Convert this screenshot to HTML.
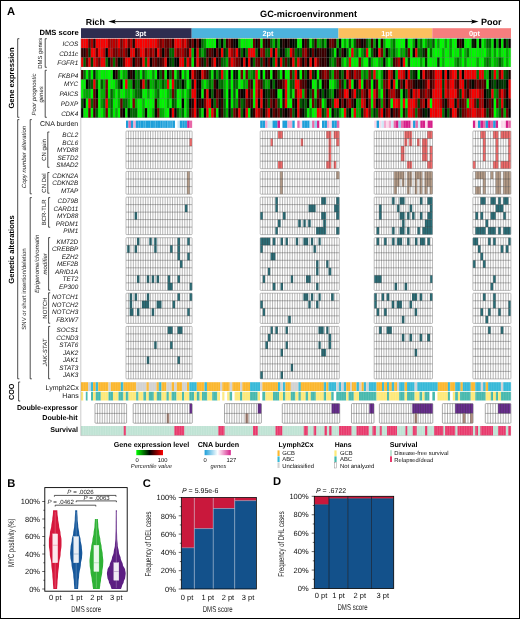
<!DOCTYPE html>
<html><head><meta charset="utf-8"><title>Figure</title>
<style>
html,body{margin:0;padding:0;background:#fff;}
body{width:520px;height:619px;overflow:hidden;}
svg{display:block;font-family:"Liberation Sans", sans-serif;will-change:transform;}
text{font-family:"Liberation Sans", sans-serif;text-rendering:geometricPrecision;}
</style></head><body>
<svg width="520" height="619" viewBox="0 0 520 619">
<rect x="0" y="0" width="520" height="619" fill="#fff"/>
<text transform="translate(7.00,15.20)" font-size="11.2" font-weight="bold" font-style="normal" text-anchor="start" fill="#000" >A</text>
<text transform="translate(85.80,25.00)" font-size="8.8" font-weight="bold" font-style="normal" text-anchor="start" fill="#000" >Rich</text>
<text transform="translate(481.00,24.90)" font-size="9.0" font-weight="bold" font-style="normal" text-anchor="start" fill="#000" >Poor</text>
<text transform="translate(308.50,17.20)" font-size="9.2" font-weight="bold" font-style="normal" text-anchor="middle" fill="#000" >GC-microenvironment</text>
<line x1="113.00" y1="21.60" x2="473.00" y2="21.60" stroke="#000" stroke-width="0.9" />
<path d="M108.3,21.6 L115.9,19.5 L114.3,21.6 L115.9,23.7 Z" fill="#000"/>
<path d="M478.6,21.6 L471.0,19.5 L472.6,21.6 L471.0,23.7 Z" fill="#000"/>
<text transform="translate(78.80,35.20)" font-size="7.6" font-weight="bold" font-style="normal" text-anchor="end" fill="#000" >DMS score</text>
<rect x="81.00" y="28.20" width="110.70" height="9.80" fill="#2e2d50" />
<text transform="translate(140.70,35.60)" font-size="7.4" font-weight="bold" font-style="normal" text-anchor="middle" fill="#fff" >3pt</text>
<rect x="191.70" y="28.20" width="146.80" height="9.80" fill="#4db3dd" />
<text transform="translate(268.00,35.60)" font-size="7.4" font-weight="bold" font-style="normal" text-anchor="middle" fill="#fff" >2pt</text>
<rect x="338.50" y="28.20" width="93.80" height="9.80" fill="#fbc05f" />
<text transform="translate(386.70,35.60)" font-size="7.4" font-weight="bold" font-style="normal" text-anchor="middle" fill="#fff" >1pt</text>
<rect x="432.30" y="28.20" width="78.70" height="9.80" fill="#f67e7e" />
<text transform="translate(474.50,35.60)" font-size="7.4" font-weight="bold" font-style="normal" text-anchor="middle" fill="#fff" >0pt</text>
<rect x="81.00" y="38.70" width="430.00" height="28.30" fill="#777" />
<rect x="81.00" y="70.00" width="430.00" height="47.70" fill="#777" />
<rect x="81.00" y="38.70" width="2.28" height="9.25" fill="#f80000" />
<rect x="83.46" y="38.70" width="2.28" height="9.25" fill="#fc0000" />
<rect x="85.91" y="38.70" width="2.28" height="9.25" fill="#f20000" />
<rect x="88.37" y="38.70" width="2.28" height="9.25" fill="#630000" />
<rect x="90.83" y="38.70" width="2.28" height="9.25" fill="#b40000" />
<rect x="93.29" y="38.70" width="2.28" height="9.25" fill="#2f0000" />
<rect x="95.74" y="38.70" width="2.28" height="9.25" fill="#fe0000" />
<rect x="98.20" y="38.70" width="2.28" height="9.25" fill="#f50000" />
<rect x="100.66" y="38.70" width="2.28" height="9.25" fill="#fe0000" />
<rect x="103.11" y="38.70" width="2.28" height="9.25" fill="#f60000" />
<rect x="105.57" y="38.70" width="2.28" height="9.25" fill="#fe0000" />
<rect x="108.03" y="38.70" width="2.28" height="9.25" fill="#a60000" />
<rect x="110.49" y="38.70" width="2.28" height="9.25" fill="#b00000" />
<rect x="112.94" y="38.70" width="2.28" height="9.25" fill="#bd0000" />
<rect x="115.40" y="38.70" width="2.28" height="9.25" fill="#a70000" />
<rect x="117.86" y="38.70" width="2.28" height="9.25" fill="#fa0000" />
<rect x="120.31" y="38.70" width="2.28" height="9.25" fill="#740000" />
<rect x="122.77" y="38.70" width="2.28" height="9.25" fill="#c00000" />
<rect x="125.23" y="38.70" width="2.28" height="9.25" fill="#f30000" />
<rect x="127.69" y="38.70" width="2.28" height="9.25" fill="#6d0000" />
<rect x="130.14" y="38.70" width="2.28" height="9.25" fill="#c10000" />
<rect x="132.60" y="38.70" width="2.28" height="9.25" fill="#250000" />
<rect x="135.06" y="38.70" width="2.28" height="9.25" fill="#ed0000" />
<rect x="137.51" y="38.70" width="2.28" height="9.25" fill="#f90000" />
<rect x="139.97" y="38.70" width="2.28" height="9.25" fill="#fc0000" />
<rect x="142.43" y="38.70" width="2.28" height="9.25" fill="#fd0000" />
<rect x="144.89" y="38.70" width="2.28" height="9.25" fill="#f90000" />
<rect x="147.34" y="38.70" width="2.28" height="9.25" fill="#ee0000" />
<rect x="149.80" y="38.70" width="2.28" height="9.25" fill="#fb0000" />
<rect x="152.26" y="38.70" width="2.28" height="9.25" fill="#f30000" />
<rect x="154.71" y="38.70" width="2.28" height="9.25" fill="#f20000" />
<rect x="157.17" y="38.70" width="2.28" height="9.25" fill="#af0000" />
<rect x="159.63" y="38.70" width="2.28" height="9.25" fill="#720000" />
<rect x="162.09" y="38.70" width="2.28" height="9.25" fill="#a50000" />
<rect x="164.54" y="38.70" width="2.28" height="9.25" fill="#630000" />
<rect x="167.00" y="38.70" width="2.28" height="9.25" fill="#670000" />
<rect x="169.46" y="38.70" width="2.28" height="9.25" fill="#760000" />
<rect x="171.91" y="38.70" width="2.28" height="9.25" fill="#310000" />
<rect x="174.37" y="38.70" width="2.28" height="9.25" fill="#f90000" />
<rect x="176.83" y="38.70" width="2.28" height="9.25" fill="#f30000" />
<rect x="179.29" y="38.70" width="2.28" height="9.25" fill="#f60000" />
<rect x="181.74" y="38.70" width="2.28" height="9.25" fill="#ac0000" />
<rect x="184.20" y="38.70" width="2.28" height="9.25" fill="#ef0000" />
<rect x="186.66" y="38.70" width="2.28" height="9.25" fill="#760000" />
<rect x="189.11" y="38.70" width="2.28" height="9.25" fill="#2b0000" />
<rect x="191.57" y="38.70" width="2.28" height="9.25" fill="#720000" />
<rect x="194.03" y="38.70" width="2.28" height="9.25" fill="#010000" />
<rect x="196.49" y="38.70" width="2.28" height="9.25" fill="#7c0000" />
<rect x="198.94" y="38.70" width="2.28" height="9.25" fill="#070000" />
<rect x="201.40" y="38.70" width="2.28" height="9.25" fill="#006c00" />
<rect x="203.86" y="38.70" width="2.28" height="9.25" fill="#009a00" />
<rect x="206.31" y="38.70" width="2.28" height="9.25" fill="#00fd00" />
<rect x="208.77" y="38.70" width="2.28" height="9.25" fill="#00f600" />
<rect x="211.23" y="38.70" width="2.28" height="9.25" fill="#00f000" />
<rect x="213.69" y="38.70" width="2.28" height="9.25" fill="#00fc00" />
<rect x="216.14" y="38.70" width="2.28" height="9.25" fill="#000000" />
<rect x="218.60" y="38.70" width="2.28" height="9.25" fill="#007400" />
<rect x="221.06" y="38.70" width="2.28" height="9.25" fill="#050000" />
<rect x="223.51" y="38.70" width="2.28" height="9.25" fill="#00a000" />
<rect x="225.97" y="38.70" width="2.28" height="9.25" fill="#350000" />
<rect x="228.43" y="38.70" width="2.28" height="9.25" fill="#7c0000" />
<rect x="230.89" y="38.70" width="2.28" height="9.25" fill="#2d0000" />
<rect x="233.34" y="38.70" width="2.28" height="9.25" fill="#060000" />
<rect x="235.80" y="38.70" width="2.28" height="9.25" fill="#030000" />
<rect x="238.26" y="38.70" width="2.28" height="9.25" fill="#00a600" />
<rect x="240.71" y="38.70" width="2.28" height="9.25" fill="#00f600" />
<rect x="243.17" y="38.70" width="2.28" height="9.25" fill="#00ee00" />
<rect x="245.63" y="38.70" width="2.28" height="9.25" fill="#00ec00" />
<rect x="248.09" y="38.70" width="2.28" height="9.25" fill="#00f500" />
<rect x="250.54" y="38.70" width="2.28" height="9.25" fill="#00f100" />
<rect x="253.00" y="38.70" width="2.28" height="9.25" fill="#630000" />
<rect x="255.46" y="38.70" width="2.28" height="9.25" fill="#060000" />
<rect x="257.91" y="38.70" width="2.28" height="9.25" fill="#380000" />
<rect x="260.37" y="38.70" width="2.28" height="9.25" fill="#00eb00" />
<rect x="262.83" y="38.70" width="2.28" height="9.25" fill="#3d0000" />
<rect x="265.29" y="38.70" width="2.28" height="9.25" fill="#000700" />
<rect x="267.74" y="38.70" width="2.28" height="9.25" fill="#300000" />
<rect x="270.20" y="38.70" width="2.28" height="9.25" fill="#006100" />
<rect x="272.66" y="38.70" width="2.28" height="9.25" fill="#00b700" />
<rect x="275.11" y="38.70" width="2.28" height="9.25" fill="#003400" />
<rect x="277.57" y="38.70" width="2.28" height="9.25" fill="#00b200" />
<rect x="280.03" y="38.70" width="2.28" height="9.25" fill="#000c00" />
<rect x="282.49" y="38.70" width="2.28" height="9.25" fill="#260000" />
<rect x="284.94" y="38.70" width="2.28" height="9.25" fill="#080000" />
<rect x="287.40" y="38.70" width="2.28" height="9.25" fill="#280000" />
<rect x="289.86" y="38.70" width="2.28" height="9.25" fill="#000800" />
<rect x="292.31" y="38.70" width="2.28" height="9.25" fill="#000300" />
<rect x="294.77" y="38.70" width="2.28" height="9.25" fill="#002800" />
<rect x="297.23" y="38.70" width="2.28" height="9.25" fill="#00fd00" />
<rect x="299.69" y="38.70" width="2.28" height="9.25" fill="#00f600" />
<rect x="302.14" y="38.70" width="2.28" height="9.25" fill="#020000" />
<rect x="304.60" y="38.70" width="2.28" height="9.25" fill="#3f0000" />
<rect x="307.06" y="38.70" width="2.28" height="9.25" fill="#002900" />
<rect x="309.51" y="38.70" width="2.28" height="9.25" fill="#00ed00" />
<rect x="311.97" y="38.70" width="2.28" height="9.25" fill="#006d00" />
<rect x="314.43" y="38.70" width="2.28" height="9.25" fill="#300000" />
<rect x="316.89" y="38.70" width="2.28" height="9.25" fill="#00ad00" />
<rect x="319.34" y="38.70" width="2.28" height="9.25" fill="#009d00" />
<rect x="321.80" y="38.70" width="2.28" height="9.25" fill="#005800" />
<rect x="324.26" y="38.70" width="2.28" height="9.25" fill="#00b300" />
<rect x="326.71" y="38.70" width="2.28" height="9.25" fill="#000a00" />
<rect x="329.17" y="38.70" width="2.28" height="9.25" fill="#680000" />
<rect x="331.63" y="38.70" width="2.28" height="9.25" fill="#680000" />
<rect x="334.09" y="38.70" width="2.28" height="9.25" fill="#330000" />
<rect x="336.54" y="38.70" width="2.28" height="9.25" fill="#00a600" />
<rect x="339.00" y="38.70" width="2.28" height="9.25" fill="#000700" />
<rect x="341.46" y="38.70" width="2.28" height="9.25" fill="#00ff00" />
<rect x="343.91" y="38.70" width="2.28" height="9.25" fill="#00ab00" />
<rect x="346.37" y="38.70" width="2.28" height="9.25" fill="#00f700" />
<rect x="348.83" y="38.70" width="2.28" height="9.25" fill="#006400" />
<rect x="351.29" y="38.70" width="2.28" height="9.25" fill="#00ec00" />
<rect x="353.74" y="38.70" width="2.28" height="9.25" fill="#006000" />
<rect x="356.20" y="38.70" width="2.28" height="9.25" fill="#330000" />
<rect x="358.66" y="38.70" width="2.28" height="9.25" fill="#370000" />
<rect x="361.11" y="38.70" width="2.28" height="9.25" fill="#050000" />
<rect x="363.57" y="38.70" width="2.28" height="9.25" fill="#250000" />
<rect x="366.03" y="38.70" width="2.28" height="9.25" fill="#005a00" />
<rect x="368.49" y="38.70" width="2.28" height="9.25" fill="#00a000" />
<rect x="370.94" y="38.70" width="2.28" height="9.25" fill="#3e0000" />
<rect x="373.40" y="38.70" width="2.28" height="9.25" fill="#009f00" />
<rect x="375.86" y="38.70" width="2.28" height="9.25" fill="#000300" />
<rect x="378.31" y="38.70" width="2.28" height="9.25" fill="#00f700" />
<rect x="380.77" y="38.70" width="2.28" height="9.25" fill="#270000" />
<rect x="383.23" y="38.70" width="2.28" height="9.25" fill="#00a400" />
<rect x="385.69" y="38.70" width="2.28" height="9.25" fill="#00fe00" />
<rect x="388.14" y="38.70" width="2.28" height="9.25" fill="#00fe00" />
<rect x="390.60" y="38.70" width="2.28" height="9.25" fill="#00b100" />
<rect x="393.06" y="38.70" width="2.28" height="9.25" fill="#007000" />
<rect x="395.51" y="38.70" width="2.28" height="9.25" fill="#00f800" />
<rect x="397.97" y="38.70" width="2.28" height="9.25" fill="#00fe00" />
<rect x="400.43" y="38.70" width="2.28" height="9.25" fill="#00ff00" />
<rect x="402.89" y="38.70" width="2.28" height="9.25" fill="#00fc00" />
<rect x="405.34" y="38.70" width="2.28" height="9.25" fill="#000c00" />
<rect x="407.80" y="38.70" width="2.28" height="9.25" fill="#00f800" />
<rect x="410.26" y="38.70" width="2.28" height="9.25" fill="#00fe00" />
<rect x="412.71" y="38.70" width="2.28" height="9.25" fill="#009d00" />
<rect x="415.17" y="38.70" width="2.28" height="9.25" fill="#030000" />
<rect x="417.63" y="38.70" width="2.28" height="9.25" fill="#00b300" />
<rect x="420.09" y="38.70" width="2.28" height="9.25" fill="#006e00" />
<rect x="422.54" y="38.70" width="2.28" height="9.25" fill="#00f800" />
<rect x="425.00" y="38.70" width="2.28" height="9.25" fill="#00ac00" />
<rect x="427.46" y="38.70" width="2.28" height="9.25" fill="#007200" />
<rect x="429.91" y="38.70" width="2.28" height="9.25" fill="#009e00" />
<rect x="432.37" y="38.70" width="2.28" height="9.25" fill="#005700" />
<rect x="434.83" y="38.70" width="2.28" height="9.25" fill="#00f500" />
<rect x="437.29" y="38.70" width="2.28" height="9.25" fill="#00a900" />
<rect x="439.74" y="38.70" width="2.28" height="9.25" fill="#00fd00" />
<rect x="442.20" y="38.70" width="2.28" height="9.25" fill="#00fd00" />
<rect x="444.66" y="38.70" width="2.28" height="9.25" fill="#00ad00" />
<rect x="447.11" y="38.70" width="2.28" height="9.25" fill="#00fa00" />
<rect x="449.57" y="38.70" width="2.28" height="9.25" fill="#009e00" />
<rect x="452.03" y="38.70" width="2.28" height="9.25" fill="#00fc00" />
<rect x="454.49" y="38.70" width="2.28" height="9.25" fill="#00ff00" />
<rect x="456.94" y="38.70" width="2.28" height="9.25" fill="#0e0000" />
<rect x="459.40" y="38.70" width="2.28" height="9.25" fill="#340000" />
<rect x="461.86" y="38.70" width="2.28" height="9.25" fill="#000b00" />
<rect x="464.31" y="38.70" width="2.28" height="9.25" fill="#00f400" />
<rect x="466.77" y="38.70" width="2.28" height="9.25" fill="#00fe00" />
<rect x="469.23" y="38.70" width="2.28" height="9.25" fill="#00f400" />
<rect x="471.69" y="38.70" width="2.28" height="9.25" fill="#002400" />
<rect x="474.14" y="38.70" width="2.28" height="9.25" fill="#0b0000" />
<rect x="476.60" y="38.70" width="2.28" height="9.25" fill="#00f100" />
<rect x="479.06" y="38.70" width="2.28" height="9.25" fill="#000700" />
<rect x="481.51" y="38.70" width="2.28" height="9.25" fill="#00f800" />
<rect x="483.97" y="38.70" width="2.28" height="9.25" fill="#00b200" />
<rect x="486.43" y="38.70" width="2.28" height="9.25" fill="#005e00" />
<rect x="488.89" y="38.70" width="2.28" height="9.25" fill="#006500" />
<rect x="491.34" y="38.70" width="2.28" height="9.25" fill="#00ef00" />
<rect x="493.80" y="38.70" width="2.28" height="9.25" fill="#000500" />
<rect x="496.26" y="38.70" width="2.28" height="9.25" fill="#00b100" />
<rect x="498.71" y="38.70" width="2.28" height="9.25" fill="#0a0000" />
<rect x="501.17" y="38.70" width="2.28" height="9.25" fill="#00eb00" />
<rect x="503.63" y="38.70" width="2.28" height="9.25" fill="#0b0000" />
<rect x="506.09" y="38.70" width="2.28" height="9.25" fill="#005d00" />
<rect x="508.54" y="38.70" width="2.28" height="9.25" fill="#0a0000" />
<rect x="81.00" y="48.13" width="2.28" height="9.25" fill="#3a0000" />
<rect x="83.46" y="48.13" width="2.28" height="9.25" fill="#2b0000" />
<rect x="85.91" y="48.13" width="2.28" height="9.25" fill="#710000" />
<rect x="88.37" y="48.13" width="2.28" height="9.25" fill="#003700" />
<rect x="90.83" y="48.13" width="2.28" height="9.25" fill="#fe0000" />
<rect x="93.29" y="48.13" width="2.28" height="9.25" fill="#fe0000" />
<rect x="95.74" y="48.13" width="2.28" height="9.25" fill="#690000" />
<rect x="98.20" y="48.13" width="2.28" height="9.25" fill="#fa0000" />
<rect x="100.66" y="48.13" width="2.28" height="9.25" fill="#f10000" />
<rect x="103.11" y="48.13" width="2.28" height="9.25" fill="#c00000" />
<rect x="105.57" y="48.13" width="2.28" height="9.25" fill="#000200" />
<rect x="108.03" y="48.13" width="2.28" height="9.25" fill="#c00000" />
<rect x="110.49" y="48.13" width="2.28" height="9.25" fill="#c10000" />
<rect x="112.94" y="48.13" width="2.28" height="9.25" fill="#7e0000" />
<rect x="115.40" y="48.13" width="2.28" height="9.25" fill="#6c0000" />
<rect x="117.86" y="48.13" width="2.28" height="9.25" fill="#aa0000" />
<rect x="120.31" y="48.13" width="2.28" height="9.25" fill="#680000" />
<rect x="122.77" y="48.13" width="2.28" height="9.25" fill="#a90000" />
<rect x="125.23" y="48.13" width="2.28" height="9.25" fill="#670000" />
<rect x="127.69" y="48.13" width="2.28" height="9.25" fill="#040000" />
<rect x="130.14" y="48.13" width="2.28" height="9.25" fill="#ed0000" />
<rect x="132.60" y="48.13" width="2.28" height="9.25" fill="#ee0000" />
<rect x="135.06" y="48.13" width="2.28" height="9.25" fill="#320000" />
<rect x="137.51" y="48.13" width="2.28" height="9.25" fill="#750000" />
<rect x="139.97" y="48.13" width="2.28" height="9.25" fill="#ef0000" />
<rect x="142.43" y="48.13" width="2.28" height="9.25" fill="#fd0000" />
<rect x="144.89" y="48.13" width="2.28" height="9.25" fill="#750000" />
<rect x="147.34" y="48.13" width="2.28" height="9.25" fill="#bf0000" />
<rect x="149.80" y="48.13" width="2.28" height="9.25" fill="#790000" />
<rect x="152.26" y="48.13" width="2.28" height="9.25" fill="#ba0000" />
<rect x="154.71" y="48.13" width="2.28" height="9.25" fill="#320000" />
<rect x="157.17" y="48.13" width="2.28" height="9.25" fill="#fb0000" />
<rect x="159.63" y="48.13" width="2.28" height="9.25" fill="#790000" />
<rect x="162.09" y="48.13" width="2.28" height="9.25" fill="#000500" />
<rect x="164.54" y="48.13" width="2.28" height="9.25" fill="#790000" />
<rect x="167.00" y="48.13" width="2.28" height="9.25" fill="#410000" />
<rect x="169.46" y="48.13" width="2.28" height="9.25" fill="#006900" />
<rect x="171.91" y="48.13" width="2.28" height="9.25" fill="#006900" />
<rect x="174.37" y="48.13" width="2.28" height="9.25" fill="#c00000" />
<rect x="176.83" y="48.13" width="2.28" height="9.25" fill="#770000" />
<rect x="179.29" y="48.13" width="2.28" height="9.25" fill="#a80000" />
<rect x="181.74" y="48.13" width="2.28" height="9.25" fill="#a70000" />
<rect x="184.20" y="48.13" width="2.28" height="9.25" fill="#660000" />
<rect x="186.66" y="48.13" width="2.28" height="9.25" fill="#3f0000" />
<rect x="189.11" y="48.13" width="2.28" height="9.25" fill="#ef0000" />
<rect x="191.57" y="48.13" width="2.28" height="9.25" fill="#00b300" />
<rect x="194.03" y="48.13" width="2.28" height="9.25" fill="#0a0000" />
<rect x="196.49" y="48.13" width="2.28" height="9.25" fill="#eb0000" />
<rect x="198.94" y="48.13" width="2.28" height="9.25" fill="#006100" />
<rect x="201.40" y="48.13" width="2.28" height="9.25" fill="#00ad00" />
<rect x="203.86" y="48.13" width="2.28" height="9.25" fill="#006500" />
<rect x="206.31" y="48.13" width="2.28" height="9.25" fill="#280000" />
<rect x="208.77" y="48.13" width="2.28" height="9.25" fill="#610000" />
<rect x="211.23" y="48.13" width="2.28" height="9.25" fill="#410000" />
<rect x="213.69" y="48.13" width="2.28" height="9.25" fill="#050000" />
<rect x="216.14" y="48.13" width="2.28" height="9.25" fill="#710000" />
<rect x="218.60" y="48.13" width="2.28" height="9.25" fill="#0d0000" />
<rect x="221.06" y="48.13" width="2.28" height="9.25" fill="#f60000" />
<rect x="223.51" y="48.13" width="2.28" height="9.25" fill="#002800" />
<rect x="225.97" y="48.13" width="2.28" height="9.25" fill="#005c00" />
<rect x="228.43" y="48.13" width="2.28" height="9.25" fill="#fb0000" />
<rect x="230.89" y="48.13" width="2.28" height="9.25" fill="#ab0000" />
<rect x="233.34" y="48.13" width="2.28" height="9.25" fill="#6a0000" />
<rect x="235.80" y="48.13" width="2.28" height="9.25" fill="#fa0000" />
<rect x="238.26" y="48.13" width="2.28" height="9.25" fill="#360000" />
<rect x="240.71" y="48.13" width="2.28" height="9.25" fill="#006d00" />
<rect x="243.17" y="48.13" width="2.28" height="9.25" fill="#000200" />
<rect x="245.63" y="48.13" width="2.28" height="9.25" fill="#007100" />
<rect x="248.09" y="48.13" width="2.28" height="9.25" fill="#ec0000" />
<rect x="250.54" y="48.13" width="2.28" height="9.25" fill="#f80000" />
<rect x="253.00" y="48.13" width="2.28" height="9.25" fill="#f60000" />
<rect x="255.46" y="48.13" width="2.28" height="9.25" fill="#006300" />
<rect x="257.91" y="48.13" width="2.28" height="9.25" fill="#0c0000" />
<rect x="260.37" y="48.13" width="2.28" height="9.25" fill="#b00000" />
<rect x="262.83" y="48.13" width="2.28" height="9.25" fill="#7d0000" />
<rect x="265.29" y="48.13" width="2.28" height="9.25" fill="#006600" />
<rect x="267.74" y="48.13" width="2.28" height="9.25" fill="#006500" />
<rect x="270.20" y="48.13" width="2.28" height="9.25" fill="#f40000" />
<rect x="272.66" y="48.13" width="2.28" height="9.25" fill="#000f00" />
<rect x="275.11" y="48.13" width="2.28" height="9.25" fill="#f60000" />
<rect x="277.57" y="48.13" width="2.28" height="9.25" fill="#007000" />
<rect x="280.03" y="48.13" width="2.28" height="9.25" fill="#000f00" />
<rect x="282.49" y="48.13" width="2.28" height="9.25" fill="#090000" />
<rect x="284.94" y="48.13" width="2.28" height="9.25" fill="#007000" />
<rect x="287.40" y="48.13" width="2.28" height="9.25" fill="#00a900" />
<rect x="289.86" y="48.13" width="2.28" height="9.25" fill="#f00000" />
<rect x="292.31" y="48.13" width="2.28" height="9.25" fill="#720000" />
<rect x="294.77" y="48.13" width="2.28" height="9.25" fill="#006b00" />
<rect x="297.23" y="48.13" width="2.28" height="9.25" fill="#003200" />
<rect x="299.69" y="48.13" width="2.28" height="9.25" fill="#006400" />
<rect x="302.14" y="48.13" width="2.28" height="9.25" fill="#790000" />
<rect x="304.60" y="48.13" width="2.28" height="9.25" fill="#a60000" />
<rect x="307.06" y="48.13" width="2.28" height="9.25" fill="#350000" />
<rect x="309.51" y="48.13" width="2.28" height="9.25" fill="#000800" />
<rect x="311.97" y="48.13" width="2.28" height="9.25" fill="#690000" />
<rect x="314.43" y="48.13" width="2.28" height="9.25" fill="#080000" />
<rect x="316.89" y="48.13" width="2.28" height="9.25" fill="#330000" />
<rect x="319.34" y="48.13" width="2.28" height="9.25" fill="#350000" />
<rect x="321.80" y="48.13" width="2.28" height="9.25" fill="#3b0000" />
<rect x="324.26" y="48.13" width="2.28" height="9.25" fill="#400000" />
<rect x="326.71" y="48.13" width="2.28" height="9.25" fill="#000200" />
<rect x="329.17" y="48.13" width="2.28" height="9.25" fill="#003000" />
<rect x="331.63" y="48.13" width="2.28" height="9.25" fill="#006600" />
<rect x="334.09" y="48.13" width="2.28" height="9.25" fill="#00f500" />
<rect x="336.54" y="48.13" width="2.28" height="9.25" fill="#060000" />
<rect x="339.00" y="48.13" width="2.28" height="9.25" fill="#006700" />
<rect x="341.46" y="48.13" width="2.28" height="9.25" fill="#340000" />
<rect x="343.91" y="48.13" width="2.28" height="9.25" fill="#000100" />
<rect x="346.37" y="48.13" width="2.28" height="9.25" fill="#005800" />
<rect x="348.83" y="48.13" width="2.28" height="9.25" fill="#00f100" />
<rect x="351.29" y="48.13" width="2.28" height="9.25" fill="#ed0000" />
<rect x="353.74" y="48.13" width="2.28" height="9.25" fill="#009b00" />
<rect x="356.20" y="48.13" width="2.28" height="9.25" fill="#006d00" />
<rect x="358.66" y="48.13" width="2.28" height="9.25" fill="#00f400" />
<rect x="361.11" y="48.13" width="2.28" height="9.25" fill="#009b00" />
<rect x="363.57" y="48.13" width="2.28" height="9.25" fill="#005c00" />
<rect x="366.03" y="48.13" width="2.28" height="9.25" fill="#fc0000" />
<rect x="368.49" y="48.13" width="2.28" height="9.25" fill="#00fd00" />
<rect x="370.94" y="48.13" width="2.28" height="9.25" fill="#006800" />
<rect x="373.40" y="48.13" width="2.28" height="9.25" fill="#260000" />
<rect x="375.86" y="48.13" width="2.28" height="9.25" fill="#000800" />
<rect x="378.31" y="48.13" width="2.28" height="9.25" fill="#fe0000" />
<rect x="380.77" y="48.13" width="2.28" height="9.25" fill="#750000" />
<rect x="383.23" y="48.13" width="2.28" height="9.25" fill="#00a000" />
<rect x="385.69" y="48.13" width="2.28" height="9.25" fill="#0c0000" />
<rect x="388.14" y="48.13" width="2.28" height="9.25" fill="#007100" />
<rect x="390.60" y="48.13" width="2.28" height="9.25" fill="#00a200" />
<rect x="393.06" y="48.13" width="2.28" height="9.25" fill="#006100" />
<rect x="395.51" y="48.13" width="2.28" height="9.25" fill="#00b300" />
<rect x="397.97" y="48.13" width="2.28" height="9.25" fill="#00ed00" />
<rect x="400.43" y="48.13" width="2.28" height="9.25" fill="#009a00" />
<rect x="402.89" y="48.13" width="2.28" height="9.25" fill="#00b100" />
<rect x="405.34" y="48.13" width="2.28" height="9.25" fill="#005800" />
<rect x="407.80" y="48.13" width="2.28" height="9.25" fill="#6d0000" />
<rect x="410.26" y="48.13" width="2.28" height="9.25" fill="#00f500" />
<rect x="412.71" y="48.13" width="2.28" height="9.25" fill="#0f0000" />
<rect x="415.17" y="48.13" width="2.28" height="9.25" fill="#ee0000" />
<rect x="417.63" y="48.13" width="2.28" height="9.25" fill="#007000" />
<rect x="420.09" y="48.13" width="2.28" height="9.25" fill="#006800" />
<rect x="422.54" y="48.13" width="2.28" height="9.25" fill="#003300" />
<rect x="425.00" y="48.13" width="2.28" height="9.25" fill="#2e0000" />
<rect x="427.46" y="48.13" width="2.28" height="9.25" fill="#00fb00" />
<rect x="429.91" y="48.13" width="2.28" height="9.25" fill="#006c00" />
<rect x="432.37" y="48.13" width="2.28" height="9.25" fill="#00f000" />
<rect x="434.83" y="48.13" width="2.28" height="9.25" fill="#00ff00" />
<rect x="437.29" y="48.13" width="2.28" height="9.25" fill="#00f400" />
<rect x="439.74" y="48.13" width="2.28" height="9.25" fill="#00f600" />
<rect x="442.20" y="48.13" width="2.28" height="9.25" fill="#00b700" />
<rect x="444.66" y="48.13" width="2.28" height="9.25" fill="#00f800" />
<rect x="447.11" y="48.13" width="2.28" height="9.25" fill="#00f200" />
<rect x="449.57" y="48.13" width="2.28" height="9.25" fill="#00a800" />
<rect x="452.03" y="48.13" width="2.28" height="9.25" fill="#00fe00" />
<rect x="454.49" y="48.13" width="2.28" height="9.25" fill="#00eb00" />
<rect x="456.94" y="48.13" width="2.28" height="9.25" fill="#00ef00" />
<rect x="459.40" y="48.13" width="2.28" height="9.25" fill="#009a00" />
<rect x="461.86" y="48.13" width="2.28" height="9.25" fill="#00fd00" />
<rect x="464.31" y="48.13" width="2.28" height="9.25" fill="#00af00" />
<rect x="466.77" y="48.13" width="2.28" height="9.25" fill="#007400" />
<rect x="469.23" y="48.13" width="2.28" height="9.25" fill="#00ef00" />
<rect x="471.69" y="48.13" width="2.28" height="9.25" fill="#00f900" />
<rect x="474.14" y="48.13" width="2.28" height="9.25" fill="#00fc00" />
<rect x="476.60" y="48.13" width="2.28" height="9.25" fill="#00f600" />
<rect x="479.06" y="48.13" width="2.28" height="9.25" fill="#00ec00" />
<rect x="481.51" y="48.13" width="2.28" height="9.25" fill="#00ee00" />
<rect x="483.97" y="48.13" width="2.28" height="9.25" fill="#00fa00" />
<rect x="486.43" y="48.13" width="2.28" height="9.25" fill="#00b300" />
<rect x="488.89" y="48.13" width="2.28" height="9.25" fill="#009b00" />
<rect x="491.34" y="48.13" width="2.28" height="9.25" fill="#00f300" />
<rect x="493.80" y="48.13" width="2.28" height="9.25" fill="#00a200" />
<rect x="496.26" y="48.13" width="2.28" height="9.25" fill="#00fd00" />
<rect x="498.71" y="48.13" width="2.28" height="9.25" fill="#00b600" />
<rect x="501.17" y="48.13" width="2.28" height="9.25" fill="#00f100" />
<rect x="503.63" y="48.13" width="2.28" height="9.25" fill="#00f600" />
<rect x="506.09" y="48.13" width="2.28" height="9.25" fill="#00b500" />
<rect x="508.54" y="48.13" width="2.28" height="9.25" fill="#00ec00" />
<rect x="81.00" y="57.57" width="2.28" height="9.25" fill="#f20000" />
<rect x="83.46" y="57.57" width="2.28" height="9.25" fill="#005d00" />
<rect x="85.91" y="57.57" width="2.28" height="9.25" fill="#630000" />
<rect x="88.37" y="57.57" width="2.28" height="9.25" fill="#ee0000" />
<rect x="90.83" y="57.57" width="2.28" height="9.25" fill="#004000" />
<rect x="93.29" y="57.57" width="2.28" height="9.25" fill="#ed0000" />
<rect x="95.74" y="57.57" width="2.28" height="9.25" fill="#b10000" />
<rect x="98.20" y="57.57" width="2.28" height="9.25" fill="#6b0000" />
<rect x="100.66" y="57.57" width="2.28" height="9.25" fill="#f40000" />
<rect x="103.11" y="57.57" width="2.28" height="9.25" fill="#ec0000" />
<rect x="105.57" y="57.57" width="2.28" height="9.25" fill="#006d00" />
<rect x="108.03" y="57.57" width="2.28" height="9.25" fill="#000b00" />
<rect x="110.49" y="57.57" width="2.28" height="9.25" fill="#710000" />
<rect x="112.94" y="57.57" width="2.28" height="9.25" fill="#006e00" />
<rect x="115.40" y="57.57" width="2.28" height="9.25" fill="#640000" />
<rect x="117.86" y="57.57" width="2.28" height="9.25" fill="#000a00" />
<rect x="120.31" y="57.57" width="2.28" height="9.25" fill="#000e00" />
<rect x="122.77" y="57.57" width="2.28" height="9.25" fill="#670000" />
<rect x="125.23" y="57.57" width="2.28" height="9.25" fill="#f90000" />
<rect x="127.69" y="57.57" width="2.28" height="9.25" fill="#f90000" />
<rect x="130.14" y="57.57" width="2.28" height="9.25" fill="#ba0000" />
<rect x="132.60" y="57.57" width="2.28" height="9.25" fill="#000600" />
<rect x="135.06" y="57.57" width="2.28" height="9.25" fill="#700000" />
<rect x="137.51" y="57.57" width="2.28" height="9.25" fill="#660000" />
<rect x="139.97" y="57.57" width="2.28" height="9.25" fill="#2e0000" />
<rect x="142.43" y="57.57" width="2.28" height="9.25" fill="#ff0000" />
<rect x="144.89" y="57.57" width="2.28" height="9.25" fill="#006e00" />
<rect x="147.34" y="57.57" width="2.28" height="9.25" fill="#ff0000" />
<rect x="149.80" y="57.57" width="2.28" height="9.25" fill="#070000" />
<rect x="152.26" y="57.57" width="2.28" height="9.25" fill="#720000" />
<rect x="154.71" y="57.57" width="2.28" height="9.25" fill="#670000" />
<rect x="157.17" y="57.57" width="2.28" height="9.25" fill="#320000" />
<rect x="159.63" y="57.57" width="2.28" height="9.25" fill="#400000" />
<rect x="162.09" y="57.57" width="2.28" height="9.25" fill="#640000" />
<rect x="164.54" y="57.57" width="2.28" height="9.25" fill="#ee0000" />
<rect x="167.00" y="57.57" width="2.28" height="9.25" fill="#000200" />
<rect x="169.46" y="57.57" width="2.28" height="9.25" fill="#003300" />
<rect x="171.91" y="57.57" width="2.28" height="9.25" fill="#005c00" />
<rect x="174.37" y="57.57" width="2.28" height="9.25" fill="#000300" />
<rect x="176.83" y="57.57" width="2.28" height="9.25" fill="#000000" />
<rect x="179.29" y="57.57" width="2.28" height="9.25" fill="#f10000" />
<rect x="181.74" y="57.57" width="2.28" height="9.25" fill="#eb0000" />
<rect x="184.20" y="57.57" width="2.28" height="9.25" fill="#003800" />
<rect x="186.66" y="57.57" width="2.28" height="9.25" fill="#ee0000" />
<rect x="189.11" y="57.57" width="2.28" height="9.25" fill="#770000" />
<rect x="191.57" y="57.57" width="2.28" height="9.25" fill="#00f200" />
<rect x="194.03" y="57.57" width="2.28" height="9.25" fill="#300000" />
<rect x="196.49" y="57.57" width="2.28" height="9.25" fill="#f80000" />
<rect x="198.94" y="57.57" width="2.28" height="9.25" fill="#630000" />
<rect x="201.40" y="57.57" width="2.28" height="9.25" fill="#280000" />
<rect x="203.86" y="57.57" width="2.28" height="9.25" fill="#004000" />
<rect x="206.31" y="57.57" width="2.28" height="9.25" fill="#780000" />
<rect x="208.77" y="57.57" width="2.28" height="9.25" fill="#000700" />
<rect x="211.23" y="57.57" width="2.28" height="9.25" fill="#660000" />
<rect x="213.69" y="57.57" width="2.28" height="9.25" fill="#fd0000" />
<rect x="216.14" y="57.57" width="2.28" height="9.25" fill="#0a0000" />
<rect x="218.60" y="57.57" width="2.28" height="9.25" fill="#3e0000" />
<rect x="221.06" y="57.57" width="2.28" height="9.25" fill="#006100" />
<rect x="223.51" y="57.57" width="2.28" height="9.25" fill="#006d00" />
<rect x="225.97" y="57.57" width="2.28" height="9.25" fill="#00b000" />
<rect x="228.43" y="57.57" width="2.28" height="9.25" fill="#6a0000" />
<rect x="230.89" y="57.57" width="2.28" height="9.25" fill="#f60000" />
<rect x="233.34" y="57.57" width="2.28" height="9.25" fill="#a80000" />
<rect x="235.80" y="57.57" width="2.28" height="9.25" fill="#6f0000" />
<rect x="238.26" y="57.57" width="2.28" height="9.25" fill="#690000" />
<rect x="240.71" y="57.57" width="2.28" height="9.25" fill="#0e0000" />
<rect x="243.17" y="57.57" width="2.28" height="9.25" fill="#eb0000" />
<rect x="245.63" y="57.57" width="2.28" height="9.25" fill="#010000" />
<rect x="248.09" y="57.57" width="2.28" height="9.25" fill="#fa0000" />
<rect x="250.54" y="57.57" width="2.28" height="9.25" fill="#0e0000" />
<rect x="253.00" y="57.57" width="2.28" height="9.25" fill="#006c00" />
<rect x="255.46" y="57.57" width="2.28" height="9.25" fill="#6c0000" />
<rect x="257.91" y="57.57" width="2.28" height="9.25" fill="#610000" />
<rect x="260.37" y="57.57" width="2.28" height="9.25" fill="#003700" />
<rect x="262.83" y="57.57" width="2.28" height="9.25" fill="#6f0000" />
<rect x="265.29" y="57.57" width="2.28" height="9.25" fill="#000000" />
<rect x="267.74" y="57.57" width="2.28" height="9.25" fill="#670000" />
<rect x="270.20" y="57.57" width="2.28" height="9.25" fill="#000000" />
<rect x="272.66" y="57.57" width="2.28" height="9.25" fill="#007500" />
<rect x="275.11" y="57.57" width="2.28" height="9.25" fill="#fa0000" />
<rect x="277.57" y="57.57" width="2.28" height="9.25" fill="#000d00" />
<rect x="280.03" y="57.57" width="2.28" height="9.25" fill="#f70000" />
<rect x="282.49" y="57.57" width="2.28" height="9.25" fill="#004100" />
<rect x="284.94" y="57.57" width="2.28" height="9.25" fill="#620000" />
<rect x="287.40" y="57.57" width="2.28" height="9.25" fill="#003900" />
<rect x="289.86" y="57.57" width="2.28" height="9.25" fill="#2b0000" />
<rect x="292.31" y="57.57" width="2.28" height="9.25" fill="#f30000" />
<rect x="294.77" y="57.57" width="2.28" height="9.25" fill="#006500" />
<rect x="297.23" y="57.57" width="2.28" height="9.25" fill="#f00000" />
<rect x="299.69" y="57.57" width="2.28" height="9.25" fill="#750000" />
<rect x="302.14" y="57.57" width="2.28" height="9.25" fill="#070000" />
<rect x="304.60" y="57.57" width="2.28" height="9.25" fill="#7c0000" />
<rect x="307.06" y="57.57" width="2.28" height="9.25" fill="#000300" />
<rect x="309.51" y="57.57" width="2.28" height="9.25" fill="#f80000" />
<rect x="311.97" y="57.57" width="2.28" height="9.25" fill="#0f0000" />
<rect x="314.43" y="57.57" width="2.28" height="9.25" fill="#fc0000" />
<rect x="316.89" y="57.57" width="2.28" height="9.25" fill="#770000" />
<rect x="319.34" y="57.57" width="2.28" height="9.25" fill="#370000" />
<rect x="321.80" y="57.57" width="2.28" height="9.25" fill="#250000" />
<rect x="324.26" y="57.57" width="2.28" height="9.25" fill="#3d0000" />
<rect x="326.71" y="57.57" width="2.28" height="9.25" fill="#0c0000" />
<rect x="329.17" y="57.57" width="2.28" height="9.25" fill="#006200" />
<rect x="331.63" y="57.57" width="2.28" height="9.25" fill="#00a100" />
<rect x="334.09" y="57.57" width="2.28" height="9.25" fill="#005c00" />
<rect x="336.54" y="57.57" width="2.28" height="9.25" fill="#650000" />
<rect x="339.00" y="57.57" width="2.28" height="9.25" fill="#340000" />
<rect x="341.46" y="57.57" width="2.28" height="9.25" fill="#00a800" />
<rect x="343.91" y="57.57" width="2.28" height="9.25" fill="#00ee00" />
<rect x="346.37" y="57.57" width="2.28" height="9.25" fill="#009f00" />
<rect x="348.83" y="57.57" width="2.28" height="9.25" fill="#ee0000" />
<rect x="351.29" y="57.57" width="2.28" height="9.25" fill="#00f300" />
<rect x="353.74" y="57.57" width="2.28" height="9.25" fill="#00ed00" />
<rect x="356.20" y="57.57" width="2.28" height="9.25" fill="#00f100" />
<rect x="358.66" y="57.57" width="2.28" height="9.25" fill="#760000" />
<rect x="361.11" y="57.57" width="2.28" height="9.25" fill="#00b100" />
<rect x="363.57" y="57.57" width="2.28" height="9.25" fill="#00fe00" />
<rect x="366.03" y="57.57" width="2.28" height="9.25" fill="#00fc00" />
<rect x="368.49" y="57.57" width="2.28" height="9.25" fill="#003700" />
<rect x="370.94" y="57.57" width="2.28" height="9.25" fill="#00b400" />
<rect x="373.40" y="57.57" width="2.28" height="9.25" fill="#00ee00" />
<rect x="375.86" y="57.57" width="2.28" height="9.25" fill="#00f400" />
<rect x="378.31" y="57.57" width="2.28" height="9.25" fill="#00a400" />
<rect x="380.77" y="57.57" width="2.28" height="9.25" fill="#00a400" />
<rect x="383.23" y="57.57" width="2.28" height="9.25" fill="#060000" />
<rect x="385.69" y="57.57" width="2.28" height="9.25" fill="#00a900" />
<rect x="388.14" y="57.57" width="2.28" height="9.25" fill="#00ff00" />
<rect x="390.60" y="57.57" width="2.28" height="9.25" fill="#009f00" />
<rect x="393.06" y="57.57" width="2.28" height="9.25" fill="#3b0000" />
<rect x="395.51" y="57.57" width="2.28" height="9.25" fill="#700000" />
<rect x="397.97" y="57.57" width="2.28" height="9.25" fill="#b40000" />
<rect x="400.43" y="57.57" width="2.28" height="9.25" fill="#050000" />
<rect x="402.89" y="57.57" width="2.28" height="9.25" fill="#fe0000" />
<rect x="405.34" y="57.57" width="2.28" height="9.25" fill="#00f000" />
<rect x="407.80" y="57.57" width="2.28" height="9.25" fill="#003b00" />
<rect x="410.26" y="57.57" width="2.28" height="9.25" fill="#00fd00" />
<rect x="412.71" y="57.57" width="2.28" height="9.25" fill="#00fa00" />
<rect x="415.17" y="57.57" width="2.28" height="9.25" fill="#00f000" />
<rect x="417.63" y="57.57" width="2.28" height="9.25" fill="#00fb00" />
<rect x="420.09" y="57.57" width="2.28" height="9.25" fill="#00a100" />
<rect x="422.54" y="57.57" width="2.28" height="9.25" fill="#00eb00" />
<rect x="425.00" y="57.57" width="2.28" height="9.25" fill="#003300" />
<rect x="427.46" y="57.57" width="2.28" height="9.25" fill="#00f700" />
<rect x="429.91" y="57.57" width="2.28" height="9.25" fill="#00f500" />
<rect x="432.37" y="57.57" width="2.28" height="9.25" fill="#00f100" />
<rect x="434.83" y="57.57" width="2.28" height="9.25" fill="#00ef00" />
<rect x="437.29" y="57.57" width="2.28" height="9.25" fill="#002f00" />
<rect x="439.74" y="57.57" width="2.28" height="9.25" fill="#00f200" />
<rect x="442.20" y="57.57" width="2.28" height="9.25" fill="#00b500" />
<rect x="444.66" y="57.57" width="2.28" height="9.25" fill="#00fc00" />
<rect x="447.11" y="57.57" width="2.28" height="9.25" fill="#00fa00" />
<rect x="449.57" y="57.57" width="2.28" height="9.25" fill="#00f000" />
<rect x="452.03" y="57.57" width="2.28" height="9.25" fill="#00f900" />
<rect x="454.49" y="57.57" width="2.28" height="9.25" fill="#00a600" />
<rect x="456.94" y="57.57" width="2.28" height="9.25" fill="#007500" />
<rect x="459.40" y="57.57" width="2.28" height="9.25" fill="#00b600" />
<rect x="461.86" y="57.57" width="2.28" height="9.25" fill="#00fa00" />
<rect x="464.31" y="57.57" width="2.28" height="9.25" fill="#00a300" />
<rect x="466.77" y="57.57" width="2.28" height="9.25" fill="#00f100" />
<rect x="469.23" y="57.57" width="2.28" height="9.25" fill="#00f100" />
<rect x="471.69" y="57.57" width="2.28" height="9.25" fill="#00f900" />
<rect x="474.14" y="57.57" width="2.28" height="9.25" fill="#00f400" />
<rect x="476.60" y="57.57" width="2.28" height="9.25" fill="#00a900" />
<rect x="479.06" y="57.57" width="2.28" height="9.25" fill="#00f500" />
<rect x="481.51" y="57.57" width="2.28" height="9.25" fill="#00fd00" />
<rect x="483.97" y="57.57" width="2.28" height="9.25" fill="#009c00" />
<rect x="486.43" y="57.57" width="2.28" height="9.25" fill="#006f00" />
<rect x="488.89" y="57.57" width="2.28" height="9.25" fill="#009a00" />
<rect x="491.34" y="57.57" width="2.28" height="9.25" fill="#00ec00" />
<rect x="493.80" y="57.57" width="2.28" height="9.25" fill="#00b700" />
<rect x="496.26" y="57.57" width="2.28" height="9.25" fill="#00aa00" />
<rect x="498.71" y="57.57" width="2.28" height="9.25" fill="#005c00" />
<rect x="501.17" y="57.57" width="2.28" height="9.25" fill="#009a00" />
<rect x="503.63" y="57.57" width="2.28" height="9.25" fill="#00f600" />
<rect x="506.09" y="57.57" width="2.28" height="9.25" fill="#00af00" />
<rect x="508.54" y="57.57" width="2.28" height="9.25" fill="#00fb00" />
<rect x="81.00" y="70.00" width="2.28" height="9.36" fill="#410000" />
<rect x="83.46" y="70.00" width="2.28" height="9.36" fill="#006f00" />
<rect x="85.91" y="70.00" width="2.28" height="9.36" fill="#00f300" />
<rect x="88.37" y="70.00" width="2.28" height="9.36" fill="#007100" />
<rect x="90.83" y="70.00" width="2.28" height="9.36" fill="#00f400" />
<rect x="93.29" y="70.00" width="2.28" height="9.36" fill="#002500" />
<rect x="95.74" y="70.00" width="2.28" height="9.36" fill="#00b400" />
<rect x="98.20" y="70.00" width="2.28" height="9.36" fill="#00ee00" />
<rect x="100.66" y="70.00" width="2.28" height="9.36" fill="#00f500" />
<rect x="103.11" y="70.00" width="2.28" height="9.36" fill="#00ed00" />
<rect x="105.57" y="70.00" width="2.28" height="9.36" fill="#00f100" />
<rect x="108.03" y="70.00" width="2.28" height="9.36" fill="#00fa00" />
<rect x="110.49" y="70.00" width="2.28" height="9.36" fill="#00ed00" />
<rect x="112.94" y="70.00" width="2.28" height="9.36" fill="#000000" />
<rect x="115.40" y="70.00" width="2.28" height="9.36" fill="#240000" />
<rect x="117.86" y="70.00" width="2.28" height="9.36" fill="#007500" />
<rect x="120.31" y="70.00" width="2.28" height="9.36" fill="#00f500" />
<rect x="122.77" y="70.00" width="2.28" height="9.36" fill="#00aa00" />
<rect x="125.23" y="70.00" width="2.28" height="9.36" fill="#00ae00" />
<rect x="127.69" y="70.00" width="2.28" height="9.36" fill="#000b00" />
<rect x="130.14" y="70.00" width="2.28" height="9.36" fill="#2e0000" />
<rect x="132.60" y="70.00" width="2.28" height="9.36" fill="#000600" />
<rect x="135.06" y="70.00" width="2.28" height="9.36" fill="#009e00" />
<rect x="137.51" y="70.00" width="2.28" height="9.36" fill="#007500" />
<rect x="139.97" y="70.00" width="2.28" height="9.36" fill="#00f000" />
<rect x="142.43" y="70.00" width="2.28" height="9.36" fill="#005c00" />
<rect x="144.89" y="70.00" width="2.28" height="9.36" fill="#00b400" />
<rect x="147.34" y="70.00" width="2.28" height="9.36" fill="#00ec00" />
<rect x="149.80" y="70.00" width="2.28" height="9.36" fill="#00f000" />
<rect x="152.26" y="70.00" width="2.28" height="9.36" fill="#009c00" />
<rect x="154.71" y="70.00" width="2.28" height="9.36" fill="#00f900" />
<rect x="157.17" y="70.00" width="2.28" height="9.36" fill="#000400" />
<rect x="159.63" y="70.00" width="2.28" height="9.36" fill="#006900" />
<rect x="162.09" y="70.00" width="2.28" height="9.36" fill="#420000" />
<rect x="164.54" y="70.00" width="2.28" height="9.36" fill="#00f300" />
<rect x="167.00" y="70.00" width="2.28" height="9.36" fill="#000400" />
<rect x="169.46" y="70.00" width="2.28" height="9.36" fill="#006800" />
<rect x="171.91" y="70.00" width="2.28" height="9.36" fill="#690000" />
<rect x="174.37" y="70.00" width="2.28" height="9.36" fill="#00fe00" />
<rect x="176.83" y="70.00" width="2.28" height="9.36" fill="#007200" />
<rect x="179.29" y="70.00" width="2.28" height="9.36" fill="#0a0000" />
<rect x="181.74" y="70.00" width="2.28" height="9.36" fill="#00f900" />
<rect x="184.20" y="70.00" width="2.28" height="9.36" fill="#009b00" />
<rect x="186.66" y="70.00" width="2.28" height="9.36" fill="#00fa00" />
<rect x="189.11" y="70.00" width="2.28" height="9.36" fill="#000700" />
<rect x="191.57" y="70.00" width="2.28" height="9.36" fill="#f50000" />
<rect x="194.03" y="70.00" width="2.28" height="9.36" fill="#670000" />
<rect x="196.49" y="70.00" width="2.28" height="9.36" fill="#2f0000" />
<rect x="198.94" y="70.00" width="2.28" height="9.36" fill="#0e0000" />
<rect x="201.40" y="70.00" width="2.28" height="9.36" fill="#ed0000" />
<rect x="203.86" y="70.00" width="2.28" height="9.36" fill="#7a0000" />
<rect x="206.31" y="70.00" width="2.28" height="9.36" fill="#370000" />
<rect x="208.77" y="70.00" width="2.28" height="9.36" fill="#005900" />
<rect x="211.23" y="70.00" width="2.28" height="9.36" fill="#00ec00" />
<rect x="213.69" y="70.00" width="2.28" height="9.36" fill="#003100" />
<rect x="216.14" y="70.00" width="2.28" height="9.36" fill="#00a200" />
<rect x="218.60" y="70.00" width="2.28" height="9.36" fill="#004100" />
<rect x="221.06" y="70.00" width="2.28" height="9.36" fill="#f00000" />
<rect x="223.51" y="70.00" width="2.28" height="9.36" fill="#00aa00" />
<rect x="225.97" y="70.00" width="2.28" height="9.36" fill="#00f000" />
<rect x="228.43" y="70.00" width="2.28" height="9.36" fill="#040000" />
<rect x="230.89" y="70.00" width="2.28" height="9.36" fill="#00f900" />
<rect x="233.34" y="70.00" width="2.28" height="9.36" fill="#000e00" />
<rect x="235.80" y="70.00" width="2.28" height="9.36" fill="#002600" />
<rect x="238.26" y="70.00" width="2.28" height="9.36" fill="#00fc00" />
<rect x="240.71" y="70.00" width="2.28" height="9.36" fill="#6f0000" />
<rect x="243.17" y="70.00" width="2.28" height="9.36" fill="#00f800" />
<rect x="245.63" y="70.00" width="2.28" height="9.36" fill="#6a0000" />
<rect x="248.09" y="70.00" width="2.28" height="9.36" fill="#00a100" />
<rect x="250.54" y="70.00" width="2.28" height="9.36" fill="#009a00" />
<rect x="253.00" y="70.00" width="2.28" height="9.36" fill="#006d00" />
<rect x="255.46" y="70.00" width="2.28" height="9.36" fill="#f20000" />
<rect x="257.91" y="70.00" width="2.28" height="9.36" fill="#00f900" />
<rect x="260.37" y="70.00" width="2.28" height="9.36" fill="#020000" />
<rect x="262.83" y="70.00" width="2.28" height="9.36" fill="#00f700" />
<rect x="265.29" y="70.00" width="2.28" height="9.36" fill="#290000" />
<rect x="267.74" y="70.00" width="2.28" height="9.36" fill="#290000" />
<rect x="270.20" y="70.00" width="2.28" height="9.36" fill="#00fb00" />
<rect x="272.66" y="70.00" width="2.28" height="9.36" fill="#0c0000" />
<rect x="275.11" y="70.00" width="2.28" height="9.36" fill="#330000" />
<rect x="277.57" y="70.00" width="2.28" height="9.36" fill="#006f00" />
<rect x="280.03" y="70.00" width="2.28" height="9.36" fill="#00ed00" />
<rect x="282.49" y="70.00" width="2.28" height="9.36" fill="#0f0000" />
<rect x="284.94" y="70.00" width="2.28" height="9.36" fill="#00f600" />
<rect x="287.40" y="70.00" width="2.28" height="9.36" fill="#00fc00" />
<rect x="289.86" y="70.00" width="2.28" height="9.36" fill="#670000" />
<rect x="292.31" y="70.00" width="2.28" height="9.36" fill="#007300" />
<rect x="294.77" y="70.00" width="2.28" height="9.36" fill="#f80000" />
<rect x="297.23" y="70.00" width="2.28" height="9.36" fill="#000d00" />
<rect x="299.69" y="70.00" width="2.28" height="9.36" fill="#00fa00" />
<rect x="302.14" y="70.00" width="2.28" height="9.36" fill="#2c0000" />
<rect x="304.60" y="70.00" width="2.28" height="9.36" fill="#006400" />
<rect x="307.06" y="70.00" width="2.28" height="9.36" fill="#0c0000" />
<rect x="309.51" y="70.00" width="2.28" height="9.36" fill="#f00000" />
<rect x="311.97" y="70.00" width="2.28" height="9.36" fill="#003600" />
<rect x="314.43" y="70.00" width="2.28" height="9.36" fill="#000300" />
<rect x="316.89" y="70.00" width="2.28" height="9.36" fill="#00f400" />
<rect x="319.34" y="70.00" width="2.28" height="9.36" fill="#2f0000" />
<rect x="321.80" y="70.00" width="2.28" height="9.36" fill="#6b0000" />
<rect x="324.26" y="70.00" width="2.28" height="9.36" fill="#a50000" />
<rect x="326.71" y="70.00" width="2.28" height="9.36" fill="#690000" />
<rect x="329.17" y="70.00" width="2.28" height="9.36" fill="#005800" />
<rect x="331.63" y="70.00" width="2.28" height="9.36" fill="#00b400" />
<rect x="334.09" y="70.00" width="2.28" height="9.36" fill="#700000" />
<rect x="336.54" y="70.00" width="2.28" height="9.36" fill="#740000" />
<rect x="339.00" y="70.00" width="2.28" height="9.36" fill="#002800" />
<rect x="341.46" y="70.00" width="2.28" height="9.36" fill="#006f00" />
<rect x="343.91" y="70.00" width="2.28" height="9.36" fill="#2c0000" />
<rect x="346.37" y="70.00" width="2.28" height="9.36" fill="#fa0000" />
<rect x="348.83" y="70.00" width="2.28" height="9.36" fill="#6d0000" />
<rect x="351.29" y="70.00" width="2.28" height="9.36" fill="#310000" />
<rect x="353.74" y="70.00" width="2.28" height="9.36" fill="#c00000" />
<rect x="356.20" y="70.00" width="2.28" height="9.36" fill="#7b0000" />
<rect x="358.66" y="70.00" width="2.28" height="9.36" fill="#7c0000" />
<rect x="361.11" y="70.00" width="2.28" height="9.36" fill="#00b700" />
<rect x="363.57" y="70.00" width="2.28" height="9.36" fill="#007400" />
<rect x="366.03" y="70.00" width="2.28" height="9.36" fill="#00a200" />
<rect x="368.49" y="70.00" width="2.28" height="9.36" fill="#7c0000" />
<rect x="370.94" y="70.00" width="2.28" height="9.36" fill="#006700" />
<rect x="373.40" y="70.00" width="2.28" height="9.36" fill="#f30000" />
<rect x="375.86" y="70.00" width="2.28" height="9.36" fill="#00b800" />
<rect x="378.31" y="70.00" width="2.28" height="9.36" fill="#00f700" />
<rect x="380.77" y="70.00" width="2.28" height="9.36" fill="#009b00" />
<rect x="383.23" y="70.00" width="2.28" height="9.36" fill="#0a0000" />
<rect x="385.69" y="70.00" width="2.28" height="9.36" fill="#3e0000" />
<rect x="388.14" y="70.00" width="2.28" height="9.36" fill="#eb0000" />
<rect x="390.60" y="70.00" width="2.28" height="9.36" fill="#ab0000" />
<rect x="393.06" y="70.00" width="2.28" height="9.36" fill="#000c00" />
<rect x="395.51" y="70.00" width="2.28" height="9.36" fill="#00b300" />
<rect x="397.97" y="70.00" width="2.28" height="9.36" fill="#f40000" />
<rect x="400.43" y="70.00" width="2.28" height="9.36" fill="#f10000" />
<rect x="402.89" y="70.00" width="2.28" height="9.36" fill="#c00000" />
<rect x="405.34" y="70.00" width="2.28" height="9.36" fill="#070000" />
<rect x="407.80" y="70.00" width="2.28" height="9.36" fill="#f20000" />
<rect x="410.26" y="70.00" width="2.28" height="9.36" fill="#005e00" />
<rect x="412.71" y="70.00" width="2.28" height="9.36" fill="#003400" />
<rect x="415.17" y="70.00" width="2.28" height="9.36" fill="#020000" />
<rect x="417.63" y="70.00" width="2.28" height="9.36" fill="#00fe00" />
<rect x="420.09" y="70.00" width="2.28" height="9.36" fill="#090000" />
<rect x="422.54" y="70.00" width="2.28" height="9.36" fill="#fa0000" />
<rect x="425.00" y="70.00" width="2.28" height="9.36" fill="#400000" />
<rect x="427.46" y="70.00" width="2.28" height="9.36" fill="#750000" />
<rect x="429.91" y="70.00" width="2.28" height="9.36" fill="#2d0000" />
<rect x="432.37" y="70.00" width="2.28" height="9.36" fill="#650000" />
<rect x="434.83" y="70.00" width="2.28" height="9.36" fill="#fa0000" />
<rect x="437.29" y="70.00" width="2.28" height="9.36" fill="#f20000" />
<rect x="439.74" y="70.00" width="2.28" height="9.36" fill="#f10000" />
<rect x="442.20" y="70.00" width="2.28" height="9.36" fill="#000c00" />
<rect x="444.66" y="70.00" width="2.28" height="9.36" fill="#fe0000" />
<rect x="447.11" y="70.00" width="2.28" height="9.36" fill="#010000" />
<rect x="449.57" y="70.00" width="2.28" height="9.36" fill="#b50000" />
<rect x="452.03" y="70.00" width="2.28" height="9.36" fill="#f70000" />
<rect x="454.49" y="70.00" width="2.28" height="9.36" fill="#fa0000" />
<rect x="456.94" y="70.00" width="2.28" height="9.36" fill="#003000" />
<rect x="459.40" y="70.00" width="2.28" height="9.36" fill="#ff0000" />
<rect x="461.86" y="70.00" width="2.28" height="9.36" fill="#000600" />
<rect x="464.31" y="70.00" width="2.28" height="9.36" fill="#f60000" />
<rect x="466.77" y="70.00" width="2.28" height="9.36" fill="#eb0000" />
<rect x="469.23" y="70.00" width="2.28" height="9.36" fill="#f20000" />
<rect x="471.69" y="70.00" width="2.28" height="9.36" fill="#ed0000" />
<rect x="474.14" y="70.00" width="2.28" height="9.36" fill="#f50000" />
<rect x="476.60" y="70.00" width="2.28" height="9.36" fill="#006e00" />
<rect x="479.06" y="70.00" width="2.28" height="9.36" fill="#fa0000" />
<rect x="481.51" y="70.00" width="2.28" height="9.36" fill="#eb0000" />
<rect x="483.97" y="70.00" width="2.28" height="9.36" fill="#00a200" />
<rect x="486.43" y="70.00" width="2.28" height="9.36" fill="#00ae00" />
<rect x="488.89" y="70.00" width="2.28" height="9.36" fill="#000f00" />
<rect x="491.34" y="70.00" width="2.28" height="9.36" fill="#006600" />
<rect x="493.80" y="70.00" width="2.28" height="9.36" fill="#f10000" />
<rect x="496.26" y="70.00" width="2.28" height="9.36" fill="#00ab00" />
<rect x="498.71" y="70.00" width="2.28" height="9.36" fill="#690000" />
<rect x="501.17" y="70.00" width="2.28" height="9.36" fill="#f10000" />
<rect x="503.63" y="70.00" width="2.28" height="9.36" fill="#005900" />
<rect x="506.09" y="70.00" width="2.28" height="9.36" fill="#003b00" />
<rect x="508.54" y="70.00" width="2.28" height="9.36" fill="#250000" />
<rect x="81.00" y="79.54" width="2.28" height="9.36" fill="#00f800" />
<rect x="83.46" y="79.54" width="2.28" height="9.36" fill="#00f600" />
<rect x="85.91" y="79.54" width="2.28" height="9.36" fill="#060000" />
<rect x="88.37" y="79.54" width="2.28" height="9.36" fill="#003c00" />
<rect x="90.83" y="79.54" width="2.28" height="9.36" fill="#005d00" />
<rect x="93.29" y="79.54" width="2.28" height="9.36" fill="#f00000" />
<rect x="95.74" y="79.54" width="2.28" height="9.36" fill="#006600" />
<rect x="98.20" y="79.54" width="2.28" height="9.36" fill="#00fb00" />
<rect x="100.66" y="79.54" width="2.28" height="9.36" fill="#005800" />
<rect x="103.11" y="79.54" width="2.28" height="9.36" fill="#00ae00" />
<rect x="105.57" y="79.54" width="2.28" height="9.36" fill="#7a0000" />
<rect x="108.03" y="79.54" width="2.28" height="9.36" fill="#00fa00" />
<rect x="110.49" y="79.54" width="2.28" height="9.36" fill="#00fa00" />
<rect x="112.94" y="79.54" width="2.28" height="9.36" fill="#00ef00" />
<rect x="115.40" y="79.54" width="2.28" height="9.36" fill="#00af00" />
<rect x="117.86" y="79.54" width="2.28" height="9.36" fill="#005800" />
<rect x="120.31" y="79.54" width="2.28" height="9.36" fill="#000000" />
<rect x="122.77" y="79.54" width="2.28" height="9.36" fill="#00fb00" />
<rect x="125.23" y="79.54" width="2.28" height="9.36" fill="#fa0000" />
<rect x="127.69" y="79.54" width="2.28" height="9.36" fill="#00ab00" />
<rect x="130.14" y="79.54" width="2.28" height="9.36" fill="#00a300" />
<rect x="132.60" y="79.54" width="2.28" height="9.36" fill="#0e0000" />
<rect x="135.06" y="79.54" width="2.28" height="9.36" fill="#007100" />
<rect x="137.51" y="79.54" width="2.28" height="9.36" fill="#006900" />
<rect x="139.97" y="79.54" width="2.28" height="9.36" fill="#2a0000" />
<rect x="142.43" y="79.54" width="2.28" height="9.36" fill="#eb0000" />
<rect x="144.89" y="79.54" width="2.28" height="9.36" fill="#007100" />
<rect x="147.34" y="79.54" width="2.28" height="9.36" fill="#250000" />
<rect x="149.80" y="79.54" width="2.28" height="9.36" fill="#00b600" />
<rect x="152.26" y="79.54" width="2.28" height="9.36" fill="#00ac00" />
<rect x="154.71" y="79.54" width="2.28" height="9.36" fill="#005a00" />
<rect x="157.17" y="79.54" width="2.28" height="9.36" fill="#009d00" />
<rect x="159.63" y="79.54" width="2.28" height="9.36" fill="#00a100" />
<rect x="162.09" y="79.54" width="2.28" height="9.36" fill="#005700" />
<rect x="164.54" y="79.54" width="2.28" height="9.36" fill="#009b00" />
<rect x="167.00" y="79.54" width="2.28" height="9.36" fill="#f80000" />
<rect x="169.46" y="79.54" width="2.28" height="9.36" fill="#00fb00" />
<rect x="171.91" y="79.54" width="2.28" height="9.36" fill="#ec0000" />
<rect x="174.37" y="79.54" width="2.28" height="9.36" fill="#005e00" />
<rect x="176.83" y="79.54" width="2.28" height="9.36" fill="#004100" />
<rect x="179.29" y="79.54" width="2.28" height="9.36" fill="#006100" />
<rect x="181.74" y="79.54" width="2.28" height="9.36" fill="#000400" />
<rect x="184.20" y="79.54" width="2.28" height="9.36" fill="#006a00" />
<rect x="186.66" y="79.54" width="2.28" height="9.36" fill="#00f800" />
<rect x="189.11" y="79.54" width="2.28" height="9.36" fill="#00b200" />
<rect x="191.57" y="79.54" width="2.28" height="9.36" fill="#240000" />
<rect x="194.03" y="79.54" width="2.28" height="9.36" fill="#f90000" />
<rect x="196.49" y="79.54" width="2.28" height="9.36" fill="#000500" />
<rect x="198.94" y="79.54" width="2.28" height="9.36" fill="#0e0000" />
<rect x="201.40" y="79.54" width="2.28" height="9.36" fill="#00b400" />
<rect x="203.86" y="79.54" width="2.28" height="9.36" fill="#00eb00" />
<rect x="206.31" y="79.54" width="2.28" height="9.36" fill="#00b100" />
<rect x="208.77" y="79.54" width="2.28" height="9.36" fill="#006a00" />
<rect x="211.23" y="79.54" width="2.28" height="9.36" fill="#009e00" />
<rect x="213.69" y="79.54" width="2.28" height="9.36" fill="#3d0000" />
<rect x="216.14" y="79.54" width="2.28" height="9.36" fill="#000200" />
<rect x="218.60" y="79.54" width="2.28" height="9.36" fill="#007400" />
<rect x="221.06" y="79.54" width="2.28" height="9.36" fill="#006700" />
<rect x="223.51" y="79.54" width="2.28" height="9.36" fill="#00ac00" />
<rect x="225.97" y="79.54" width="2.28" height="9.36" fill="#00ec00" />
<rect x="228.43" y="79.54" width="2.28" height="9.36" fill="#006f00" />
<rect x="230.89" y="79.54" width="2.28" height="9.36" fill="#00f800" />
<rect x="233.34" y="79.54" width="2.28" height="9.36" fill="#005a00" />
<rect x="235.80" y="79.54" width="2.28" height="9.36" fill="#007400" />
<rect x="238.26" y="79.54" width="2.28" height="9.36" fill="#00f700" />
<rect x="240.71" y="79.54" width="2.28" height="9.36" fill="#00ee00" />
<rect x="243.17" y="79.54" width="2.28" height="9.36" fill="#00a000" />
<rect x="245.63" y="79.54" width="2.28" height="9.36" fill="#00b600" />
<rect x="248.09" y="79.54" width="2.28" height="9.36" fill="#620000" />
<rect x="250.54" y="79.54" width="2.28" height="9.36" fill="#260000" />
<rect x="253.00" y="79.54" width="2.28" height="9.36" fill="#00ec00" />
<rect x="255.46" y="79.54" width="2.28" height="9.36" fill="#fa0000" />
<rect x="257.91" y="79.54" width="2.28" height="9.36" fill="#780000" />
<rect x="260.37" y="79.54" width="2.28" height="9.36" fill="#3f0000" />
<rect x="262.83" y="79.54" width="2.28" height="9.36" fill="#006b00" />
<rect x="265.29" y="79.54" width="2.28" height="9.36" fill="#00af00" />
<rect x="267.74" y="79.54" width="2.28" height="9.36" fill="#009a00" />
<rect x="270.20" y="79.54" width="2.28" height="9.36" fill="#040000" />
<rect x="272.66" y="79.54" width="2.28" height="9.36" fill="#006d00" />
<rect x="275.11" y="79.54" width="2.28" height="9.36" fill="#070000" />
<rect x="277.57" y="79.54" width="2.28" height="9.36" fill="#2d0000" />
<rect x="280.03" y="79.54" width="2.28" height="9.36" fill="#2c0000" />
<rect x="282.49" y="79.54" width="2.28" height="9.36" fill="#610000" />
<rect x="284.94" y="79.54" width="2.28" height="9.36" fill="#f00000" />
<rect x="287.40" y="79.54" width="2.28" height="9.36" fill="#00ec00" />
<rect x="289.86" y="79.54" width="2.28" height="9.36" fill="#006200" />
<rect x="292.31" y="79.54" width="2.28" height="9.36" fill="#005800" />
<rect x="294.77" y="79.54" width="2.28" height="9.36" fill="#ff0000" />
<rect x="297.23" y="79.54" width="2.28" height="9.36" fill="#fa0000" />
<rect x="299.69" y="79.54" width="2.28" height="9.36" fill="#6f0000" />
<rect x="302.14" y="79.54" width="2.28" height="9.36" fill="#410000" />
<rect x="304.60" y="79.54" width="2.28" height="9.36" fill="#410000" />
<rect x="307.06" y="79.54" width="2.28" height="9.36" fill="#000300" />
<rect x="309.51" y="79.54" width="2.28" height="9.36" fill="#000800" />
<rect x="311.97" y="79.54" width="2.28" height="9.36" fill="#00f600" />
<rect x="314.43" y="79.54" width="2.28" height="9.36" fill="#00f500" />
<rect x="316.89" y="79.54" width="2.28" height="9.36" fill="#005900" />
<rect x="319.34" y="79.54" width="2.28" height="9.36" fill="#00fb00" />
<rect x="321.80" y="79.54" width="2.28" height="9.36" fill="#090000" />
<rect x="324.26" y="79.54" width="2.28" height="9.36" fill="#3a0000" />
<rect x="326.71" y="79.54" width="2.28" height="9.36" fill="#0a0000" />
<rect x="329.17" y="79.54" width="2.28" height="9.36" fill="#00ef00" />
<rect x="331.63" y="79.54" width="2.28" height="9.36" fill="#00f300" />
<rect x="334.09" y="79.54" width="2.28" height="9.36" fill="#00ae00" />
<rect x="336.54" y="79.54" width="2.28" height="9.36" fill="#006c00" />
<rect x="339.00" y="79.54" width="2.28" height="9.36" fill="#6c0000" />
<rect x="341.46" y="79.54" width="2.28" height="9.36" fill="#002a00" />
<rect x="343.91" y="79.54" width="2.28" height="9.36" fill="#00b500" />
<rect x="346.37" y="79.54" width="2.28" height="9.36" fill="#2a0000" />
<rect x="348.83" y="79.54" width="2.28" height="9.36" fill="#f00000" />
<rect x="351.29" y="79.54" width="2.28" height="9.36" fill="#00fa00" />
<rect x="353.74" y="79.54" width="2.28" height="9.36" fill="#000d00" />
<rect x="356.20" y="79.54" width="2.28" height="9.36" fill="#250000" />
<rect x="358.66" y="79.54" width="2.28" height="9.36" fill="#f40000" />
<rect x="361.11" y="79.54" width="2.28" height="9.36" fill="#00f800" />
<rect x="363.57" y="79.54" width="2.28" height="9.36" fill="#0f0000" />
<rect x="366.03" y="79.54" width="2.28" height="9.36" fill="#7c0000" />
<rect x="368.49" y="79.54" width="2.28" height="9.36" fill="#420000" />
<rect x="370.94" y="79.54" width="2.28" height="9.36" fill="#00fa00" />
<rect x="373.40" y="79.54" width="2.28" height="9.36" fill="#000d00" />
<rect x="375.86" y="79.54" width="2.28" height="9.36" fill="#640000" />
<rect x="378.31" y="79.54" width="2.28" height="9.36" fill="#00f500" />
<rect x="380.77" y="79.54" width="2.28" height="9.36" fill="#00a200" />
<rect x="383.23" y="79.54" width="2.28" height="9.36" fill="#6f0000" />
<rect x="385.69" y="79.54" width="2.28" height="9.36" fill="#680000" />
<rect x="388.14" y="79.54" width="2.28" height="9.36" fill="#f60000" />
<rect x="390.60" y="79.54" width="2.28" height="9.36" fill="#040000" />
<rect x="393.06" y="79.54" width="2.28" height="9.36" fill="#f10000" />
<rect x="395.51" y="79.54" width="2.28" height="9.36" fill="#00f000" />
<rect x="397.97" y="79.54" width="2.28" height="9.36" fill="#002800" />
<rect x="400.43" y="79.54" width="2.28" height="9.36" fill="#750000" />
<rect x="402.89" y="79.54" width="2.28" height="9.36" fill="#000c00" />
<rect x="405.34" y="79.54" width="2.28" height="9.36" fill="#ee0000" />
<rect x="407.80" y="79.54" width="2.28" height="9.36" fill="#6a0000" />
<rect x="410.26" y="79.54" width="2.28" height="9.36" fill="#720000" />
<rect x="412.71" y="79.54" width="2.28" height="9.36" fill="#2f0000" />
<rect x="415.17" y="79.54" width="2.28" height="9.36" fill="#070000" />
<rect x="417.63" y="79.54" width="2.28" height="9.36" fill="#2a0000" />
<rect x="420.09" y="79.54" width="2.28" height="9.36" fill="#000800" />
<rect x="422.54" y="79.54" width="2.28" height="9.36" fill="#2b0000" />
<rect x="425.00" y="79.54" width="2.28" height="9.36" fill="#660000" />
<rect x="427.46" y="79.54" width="2.28" height="9.36" fill="#ed0000" />
<rect x="429.91" y="79.54" width="2.28" height="9.36" fill="#350000" />
<rect x="432.37" y="79.54" width="2.28" height="9.36" fill="#6b0000" />
<rect x="434.83" y="79.54" width="2.28" height="9.36" fill="#f70000" />
<rect x="437.29" y="79.54" width="2.28" height="9.36" fill="#eb0000" />
<rect x="439.74" y="79.54" width="2.28" height="9.36" fill="#f50000" />
<rect x="442.20" y="79.54" width="2.28" height="9.36" fill="#003b00" />
<rect x="444.66" y="79.54" width="2.28" height="9.36" fill="#ef0000" />
<rect x="447.11" y="79.54" width="2.28" height="9.36" fill="#750000" />
<rect x="449.57" y="79.54" width="2.28" height="9.36" fill="#eb0000" />
<rect x="452.03" y="79.54" width="2.28" height="9.36" fill="#fd0000" />
<rect x="454.49" y="79.54" width="2.28" height="9.36" fill="#6f0000" />
<rect x="456.94" y="79.54" width="2.28" height="9.36" fill="#3d0000" />
<rect x="459.40" y="79.54" width="2.28" height="9.36" fill="#ee0000" />
<rect x="461.86" y="79.54" width="2.28" height="9.36" fill="#ec0000" />
<rect x="464.31" y="79.54" width="2.28" height="9.36" fill="#000e00" />
<rect x="466.77" y="79.54" width="2.28" height="9.36" fill="#6a0000" />
<rect x="469.23" y="79.54" width="2.28" height="9.36" fill="#270000" />
<rect x="471.69" y="79.54" width="2.28" height="9.36" fill="#000900" />
<rect x="474.14" y="79.54" width="2.28" height="9.36" fill="#410000" />
<rect x="476.60" y="79.54" width="2.28" height="9.36" fill="#730000" />
<rect x="479.06" y="79.54" width="2.28" height="9.36" fill="#400000" />
<rect x="481.51" y="79.54" width="2.28" height="9.36" fill="#6c0000" />
<rect x="483.97" y="79.54" width="2.28" height="9.36" fill="#3e0000" />
<rect x="486.43" y="79.54" width="2.28" height="9.36" fill="#00f600" />
<rect x="488.89" y="79.54" width="2.28" height="9.36" fill="#000700" />
<rect x="491.34" y="79.54" width="2.28" height="9.36" fill="#002b00" />
<rect x="493.80" y="79.54" width="2.28" height="9.36" fill="#005800" />
<rect x="496.26" y="79.54" width="2.28" height="9.36" fill="#000c00" />
<rect x="498.71" y="79.54" width="2.28" height="9.36" fill="#003000" />
<rect x="501.17" y="79.54" width="2.28" height="9.36" fill="#002f00" />
<rect x="503.63" y="79.54" width="2.28" height="9.36" fill="#003c00" />
<rect x="506.09" y="79.54" width="2.28" height="9.36" fill="#000400" />
<rect x="508.54" y="79.54" width="2.28" height="9.36" fill="#fc0000" />
<rect x="81.00" y="89.08" width="2.28" height="9.36" fill="#00fb00" />
<rect x="83.46" y="89.08" width="2.28" height="9.36" fill="#00b000" />
<rect x="85.91" y="89.08" width="2.28" height="9.36" fill="#00a500" />
<rect x="88.37" y="89.08" width="2.28" height="9.36" fill="#00a400" />
<rect x="90.83" y="89.08" width="2.28" height="9.36" fill="#00fb00" />
<rect x="93.29" y="89.08" width="2.28" height="9.36" fill="#610000" />
<rect x="95.74" y="89.08" width="2.28" height="9.36" fill="#000500" />
<rect x="98.20" y="89.08" width="2.28" height="9.36" fill="#00f100" />
<rect x="100.66" y="89.08" width="2.28" height="9.36" fill="#00b200" />
<rect x="103.11" y="89.08" width="2.28" height="9.36" fill="#00ae00" />
<rect x="105.57" y="89.08" width="2.28" height="9.36" fill="#670000" />
<rect x="108.03" y="89.08" width="2.28" height="9.36" fill="#00ef00" />
<rect x="110.49" y="89.08" width="2.28" height="9.36" fill="#006500" />
<rect x="112.94" y="89.08" width="2.28" height="9.36" fill="#00b600" />
<rect x="115.40" y="89.08" width="2.28" height="9.36" fill="#00fd00" />
<rect x="117.86" y="89.08" width="2.28" height="9.36" fill="#00ac00" />
<rect x="120.31" y="89.08" width="2.28" height="9.36" fill="#00f400" />
<rect x="122.77" y="89.08" width="2.28" height="9.36" fill="#00f200" />
<rect x="125.23" y="89.08" width="2.28" height="9.36" fill="#00b500" />
<rect x="127.69" y="89.08" width="2.28" height="9.36" fill="#00b300" />
<rect x="130.14" y="89.08" width="2.28" height="9.36" fill="#00f100" />
<rect x="132.60" y="89.08" width="2.28" height="9.36" fill="#00ab00" />
<rect x="135.06" y="89.08" width="2.28" height="9.36" fill="#006d00" />
<rect x="137.51" y="89.08" width="2.28" height="9.36" fill="#006c00" />
<rect x="139.97" y="89.08" width="2.28" height="9.36" fill="#005800" />
<rect x="142.43" y="89.08" width="2.28" height="9.36" fill="#00f900" />
<rect x="144.89" y="89.08" width="2.28" height="9.36" fill="#00f300" />
<rect x="147.34" y="89.08" width="2.28" height="9.36" fill="#00ad00" />
<rect x="149.80" y="89.08" width="2.28" height="9.36" fill="#00f700" />
<rect x="152.26" y="89.08" width="2.28" height="9.36" fill="#00ed00" />
<rect x="154.71" y="89.08" width="2.28" height="9.36" fill="#009900" />
<rect x="157.17" y="89.08" width="2.28" height="9.36" fill="#006a00" />
<rect x="159.63" y="89.08" width="2.28" height="9.36" fill="#00fb00" />
<rect x="162.09" y="89.08" width="2.28" height="9.36" fill="#00f000" />
<rect x="164.54" y="89.08" width="2.28" height="9.36" fill="#00fb00" />
<rect x="167.00" y="89.08" width="2.28" height="9.36" fill="#00b700" />
<rect x="169.46" y="89.08" width="2.28" height="9.36" fill="#009c00" />
<rect x="171.91" y="89.08" width="2.28" height="9.36" fill="#6e0000" />
<rect x="174.37" y="89.08" width="2.28" height="9.36" fill="#005c00" />
<rect x="176.83" y="89.08" width="2.28" height="9.36" fill="#00f700" />
<rect x="179.29" y="89.08" width="2.28" height="9.36" fill="#00ed00" />
<rect x="181.74" y="89.08" width="2.28" height="9.36" fill="#00a900" />
<rect x="184.20" y="89.08" width="2.28" height="9.36" fill="#00fc00" />
<rect x="186.66" y="89.08" width="2.28" height="9.36" fill="#00b700" />
<rect x="189.11" y="89.08" width="2.28" height="9.36" fill="#006400" />
<rect x="191.57" y="89.08" width="2.28" height="9.36" fill="#f20000" />
<rect x="194.03" y="89.08" width="2.28" height="9.36" fill="#ec0000" />
<rect x="196.49" y="89.08" width="2.28" height="9.36" fill="#000d00" />
<rect x="198.94" y="89.08" width="2.28" height="9.36" fill="#040000" />
<rect x="201.40" y="89.08" width="2.28" height="9.36" fill="#00f700" />
<rect x="203.86" y="89.08" width="2.28" height="9.36" fill="#330000" />
<rect x="206.31" y="89.08" width="2.28" height="9.36" fill="#fc0000" />
<rect x="208.77" y="89.08" width="2.28" height="9.36" fill="#000700" />
<rect x="211.23" y="89.08" width="2.28" height="9.36" fill="#006500" />
<rect x="213.69" y="89.08" width="2.28" height="9.36" fill="#0d0000" />
<rect x="216.14" y="89.08" width="2.28" height="9.36" fill="#640000" />
<rect x="218.60" y="89.08" width="2.28" height="9.36" fill="#330000" />
<rect x="221.06" y="89.08" width="2.28" height="9.36" fill="#090000" />
<rect x="223.51" y="89.08" width="2.28" height="9.36" fill="#009a00" />
<rect x="225.97" y="89.08" width="2.28" height="9.36" fill="#00fb00" />
<rect x="228.43" y="89.08" width="2.28" height="9.36" fill="#000b00" />
<rect x="230.89" y="89.08" width="2.28" height="9.36" fill="#00ec00" />
<rect x="233.34" y="89.08" width="2.28" height="9.36" fill="#005700" />
<rect x="235.80" y="89.08" width="2.28" height="9.36" fill="#00f500" />
<rect x="238.26" y="89.08" width="2.28" height="9.36" fill="#250000" />
<rect x="240.71" y="89.08" width="2.28" height="9.36" fill="#0d0000" />
<rect x="243.17" y="89.08" width="2.28" height="9.36" fill="#000300" />
<rect x="245.63" y="89.08" width="2.28" height="9.36" fill="#ed0000" />
<rect x="248.09" y="89.08" width="2.28" height="9.36" fill="#370000" />
<rect x="250.54" y="89.08" width="2.28" height="9.36" fill="#7a0000" />
<rect x="253.00" y="89.08" width="2.28" height="9.36" fill="#00fc00" />
<rect x="255.46" y="89.08" width="2.28" height="9.36" fill="#ef0000" />
<rect x="257.91" y="89.08" width="2.28" height="9.36" fill="#680000" />
<rect x="260.37" y="89.08" width="2.28" height="9.36" fill="#f70000" />
<rect x="262.83" y="89.08" width="2.28" height="9.36" fill="#0b0000" />
<rect x="265.29" y="89.08" width="2.28" height="9.36" fill="#002900" />
<rect x="267.74" y="89.08" width="2.28" height="9.36" fill="#003d00" />
<rect x="270.20" y="89.08" width="2.28" height="9.36" fill="#2a0000" />
<rect x="272.66" y="89.08" width="2.28" height="9.36" fill="#300000" />
<rect x="275.11" y="89.08" width="2.28" height="9.36" fill="#010000" />
<rect x="277.57" y="89.08" width="2.28" height="9.36" fill="#00f700" />
<rect x="280.03" y="89.08" width="2.28" height="9.36" fill="#00fc00" />
<rect x="282.49" y="89.08" width="2.28" height="9.36" fill="#000800" />
<rect x="284.94" y="89.08" width="2.28" height="9.36" fill="#f00000" />
<rect x="287.40" y="89.08" width="2.28" height="9.36" fill="#00ed00" />
<rect x="289.86" y="89.08" width="2.28" height="9.36" fill="#007400" />
<rect x="292.31" y="89.08" width="2.28" height="9.36" fill="#00f400" />
<rect x="294.77" y="89.08" width="2.28" height="9.36" fill="#780000" />
<rect x="297.23" y="89.08" width="2.28" height="9.36" fill="#fe0000" />
<rect x="299.69" y="89.08" width="2.28" height="9.36" fill="#ee0000" />
<rect x="302.14" y="89.08" width="2.28" height="9.36" fill="#00b400" />
<rect x="304.60" y="89.08" width="2.28" height="9.36" fill="#730000" />
<rect x="307.06" y="89.08" width="2.28" height="9.36" fill="#020000" />
<rect x="309.51" y="89.08" width="2.28" height="9.36" fill="#006200" />
<rect x="311.97" y="89.08" width="2.28" height="9.36" fill="#6a0000" />
<rect x="314.43" y="89.08" width="2.28" height="9.36" fill="#00f600" />
<rect x="316.89" y="89.08" width="2.28" height="9.36" fill="#730000" />
<rect x="319.34" y="89.08" width="2.28" height="9.36" fill="#000200" />
<rect x="321.80" y="89.08" width="2.28" height="9.36" fill="#006100" />
<rect x="324.26" y="89.08" width="2.28" height="9.36" fill="#000200" />
<rect x="326.71" y="89.08" width="2.28" height="9.36" fill="#003500" />
<rect x="329.17" y="89.08" width="2.28" height="9.36" fill="#007500" />
<rect x="331.63" y="89.08" width="2.28" height="9.36" fill="#00a500" />
<rect x="334.09" y="89.08" width="2.28" height="9.36" fill="#000000" />
<rect x="336.54" y="89.08" width="2.28" height="9.36" fill="#2b0000" />
<rect x="339.00" y="89.08" width="2.28" height="9.36" fill="#780000" />
<rect x="341.46" y="89.08" width="2.28" height="9.36" fill="#3c0000" />
<rect x="343.91" y="89.08" width="2.28" height="9.36" fill="#f60000" />
<rect x="346.37" y="89.08" width="2.28" height="9.36" fill="#fb0000" />
<rect x="348.83" y="89.08" width="2.28" height="9.36" fill="#000100" />
<rect x="351.29" y="89.08" width="2.28" height="9.36" fill="#640000" />
<rect x="353.74" y="89.08" width="2.28" height="9.36" fill="#fc0000" />
<rect x="356.20" y="89.08" width="2.28" height="9.36" fill="#003500" />
<rect x="358.66" y="89.08" width="2.28" height="9.36" fill="#003f00" />
<rect x="361.11" y="89.08" width="2.28" height="9.36" fill="#b10000" />
<rect x="363.57" y="89.08" width="2.28" height="9.36" fill="#710000" />
<rect x="366.03" y="89.08" width="2.28" height="9.36" fill="#250000" />
<rect x="368.49" y="89.08" width="2.28" height="9.36" fill="#f20000" />
<rect x="370.94" y="89.08" width="2.28" height="9.36" fill="#00fd00" />
<rect x="373.40" y="89.08" width="2.28" height="9.36" fill="#f00000" />
<rect x="375.86" y="89.08" width="2.28" height="9.36" fill="#790000" />
<rect x="378.31" y="89.08" width="2.28" height="9.36" fill="#00a800" />
<rect x="380.77" y="89.08" width="2.28" height="9.36" fill="#00fe00" />
<rect x="383.23" y="89.08" width="2.28" height="9.36" fill="#700000" />
<rect x="385.69" y="89.08" width="2.28" height="9.36" fill="#000400" />
<rect x="388.14" y="89.08" width="2.28" height="9.36" fill="#7e0000" />
<rect x="390.60" y="89.08" width="2.28" height="9.36" fill="#a70000" />
<rect x="393.06" y="89.08" width="2.28" height="9.36" fill="#bd0000" />
<rect x="395.51" y="89.08" width="2.28" height="9.36" fill="#420000" />
<rect x="397.97" y="89.08" width="2.28" height="9.36" fill="#3a0000" />
<rect x="400.43" y="89.08" width="2.28" height="9.36" fill="#00ee00" />
<rect x="402.89" y="89.08" width="2.28" height="9.36" fill="#000900" />
<rect x="405.34" y="89.08" width="2.28" height="9.36" fill="#005700" />
<rect x="407.80" y="89.08" width="2.28" height="9.36" fill="#b20000" />
<rect x="410.26" y="89.08" width="2.28" height="9.36" fill="#0e0000" />
<rect x="412.71" y="89.08" width="2.28" height="9.36" fill="#ec0000" />
<rect x="415.17" y="89.08" width="2.28" height="9.36" fill="#a80000" />
<rect x="417.63" y="89.08" width="2.28" height="9.36" fill="#ef0000" />
<rect x="420.09" y="89.08" width="2.28" height="9.36" fill="#400000" />
<rect x="422.54" y="89.08" width="2.28" height="9.36" fill="#630000" />
<rect x="425.00" y="89.08" width="2.28" height="9.36" fill="#ae0000" />
<rect x="427.46" y="89.08" width="2.28" height="9.36" fill="#780000" />
<rect x="429.91" y="89.08" width="2.28" height="9.36" fill="#290000" />
<rect x="432.37" y="89.08" width="2.28" height="9.36" fill="#ed0000" />
<rect x="434.83" y="89.08" width="2.28" height="9.36" fill="#f90000" />
<rect x="437.29" y="89.08" width="2.28" height="9.36" fill="#ee0000" />
<rect x="439.74" y="89.08" width="2.28" height="9.36" fill="#fc0000" />
<rect x="442.20" y="89.08" width="2.28" height="9.36" fill="#003300" />
<rect x="444.66" y="89.08" width="2.28" height="9.36" fill="#ec0000" />
<rect x="447.11" y="89.08" width="2.28" height="9.36" fill="#aa0000" />
<rect x="449.57" y="89.08" width="2.28" height="9.36" fill="#fa0000" />
<rect x="452.03" y="89.08" width="2.28" height="9.36" fill="#f50000" />
<rect x="454.49" y="89.08" width="2.28" height="9.36" fill="#f80000" />
<rect x="456.94" y="89.08" width="2.28" height="9.36" fill="#620000" />
<rect x="459.40" y="89.08" width="2.28" height="9.36" fill="#003d00" />
<rect x="461.86" y="89.08" width="2.28" height="9.36" fill="#fc0000" />
<rect x="464.31" y="89.08" width="2.28" height="9.36" fill="#7e0000" />
<rect x="466.77" y="89.08" width="2.28" height="9.36" fill="#380000" />
<rect x="469.23" y="89.08" width="2.28" height="9.36" fill="#bf0000" />
<rect x="471.69" y="89.08" width="2.28" height="9.36" fill="#fc0000" />
<rect x="474.14" y="89.08" width="2.28" height="9.36" fill="#ef0000" />
<rect x="476.60" y="89.08" width="2.28" height="9.36" fill="#fd0000" />
<rect x="479.06" y="89.08" width="2.28" height="9.36" fill="#b30000" />
<rect x="481.51" y="89.08" width="2.28" height="9.36" fill="#b70000" />
<rect x="483.97" y="89.08" width="2.28" height="9.36" fill="#000400" />
<rect x="486.43" y="89.08" width="2.28" height="9.36" fill="#002800" />
<rect x="488.89" y="89.08" width="2.28" height="9.36" fill="#003100" />
<rect x="491.34" y="89.08" width="2.28" height="9.36" fill="#f30000" />
<rect x="493.80" y="89.08" width="2.28" height="9.36" fill="#009d00" />
<rect x="496.26" y="89.08" width="2.28" height="9.36" fill="#007200" />
<rect x="498.71" y="89.08" width="2.28" height="9.36" fill="#7f0000" />
<rect x="501.17" y="89.08" width="2.28" height="9.36" fill="#f20000" />
<rect x="503.63" y="89.08" width="2.28" height="9.36" fill="#6d0000" />
<rect x="506.09" y="89.08" width="2.28" height="9.36" fill="#090000" />
<rect x="508.54" y="89.08" width="2.28" height="9.36" fill="#fa0000" />
<rect x="81.00" y="98.62" width="2.28" height="9.36" fill="#005700" />
<rect x="83.46" y="98.62" width="2.28" height="9.36" fill="#020000" />
<rect x="85.91" y="98.62" width="2.28" height="9.36" fill="#00f800" />
<rect x="88.37" y="98.62" width="2.28" height="9.36" fill="#ef0000" />
<rect x="90.83" y="98.62" width="2.28" height="9.36" fill="#006800" />
<rect x="93.29" y="98.62" width="2.28" height="9.36" fill="#660000" />
<rect x="95.74" y="98.62" width="2.28" height="9.36" fill="#3a0000" />
<rect x="98.20" y="98.62" width="2.28" height="9.36" fill="#00fe00" />
<rect x="100.66" y="98.62" width="2.28" height="9.36" fill="#009f00" />
<rect x="103.11" y="98.62" width="2.28" height="9.36" fill="#006e00" />
<rect x="105.57" y="98.62" width="2.28" height="9.36" fill="#f20000" />
<rect x="108.03" y="98.62" width="2.28" height="9.36" fill="#009900" />
<rect x="110.49" y="98.62" width="2.28" height="9.36" fill="#006300" />
<rect x="112.94" y="98.62" width="2.28" height="9.36" fill="#00f100" />
<rect x="115.40" y="98.62" width="2.28" height="9.36" fill="#00f900" />
<rect x="117.86" y="98.62" width="2.28" height="9.36" fill="#00b800" />
<rect x="120.31" y="98.62" width="2.28" height="9.36" fill="#620000" />
<rect x="122.77" y="98.62" width="2.28" height="9.36" fill="#007100" />
<rect x="125.23" y="98.62" width="2.28" height="9.36" fill="#006200" />
<rect x="127.69" y="98.62" width="2.28" height="9.36" fill="#00aa00" />
<rect x="130.14" y="98.62" width="2.28" height="9.36" fill="#00f500" />
<rect x="132.60" y="98.62" width="2.28" height="9.36" fill="#7c0000" />
<rect x="135.06" y="98.62" width="2.28" height="9.36" fill="#00b400" />
<rect x="137.51" y="98.62" width="2.28" height="9.36" fill="#00fa00" />
<rect x="139.97" y="98.62" width="2.28" height="9.36" fill="#00f200" />
<rect x="142.43" y="98.62" width="2.28" height="9.36" fill="#00b700" />
<rect x="144.89" y="98.62" width="2.28" height="9.36" fill="#00ff00" />
<rect x="147.34" y="98.62" width="2.28" height="9.36" fill="#00f800" />
<rect x="149.80" y="98.62" width="2.28" height="9.36" fill="#00fd00" />
<rect x="152.26" y="98.62" width="2.28" height="9.36" fill="#00f800" />
<rect x="154.71" y="98.62" width="2.28" height="9.36" fill="#2b0000" />
<rect x="157.17" y="98.62" width="2.28" height="9.36" fill="#00a600" />
<rect x="159.63" y="98.62" width="2.28" height="9.36" fill="#00f300" />
<rect x="162.09" y="98.62" width="2.28" height="9.36" fill="#00fb00" />
<rect x="164.54" y="98.62" width="2.28" height="9.36" fill="#00f200" />
<rect x="167.00" y="98.62" width="2.28" height="9.36" fill="#00a900" />
<rect x="169.46" y="98.62" width="2.28" height="9.36" fill="#00fc00" />
<rect x="171.91" y="98.62" width="2.28" height="9.36" fill="#005900" />
<rect x="174.37" y="98.62" width="2.28" height="9.36" fill="#006e00" />
<rect x="176.83" y="98.62" width="2.28" height="9.36" fill="#00fc00" />
<rect x="179.29" y="98.62" width="2.28" height="9.36" fill="#00fd00" />
<rect x="181.74" y="98.62" width="2.28" height="9.36" fill="#040000" />
<rect x="184.20" y="98.62" width="2.28" height="9.36" fill="#00ed00" />
<rect x="186.66" y="98.62" width="2.28" height="9.36" fill="#00a000" />
<rect x="189.11" y="98.62" width="2.28" height="9.36" fill="#000300" />
<rect x="191.57" y="98.62" width="2.28" height="9.36" fill="#2c0000" />
<rect x="194.03" y="98.62" width="2.28" height="9.36" fill="#ff0000" />
<rect x="196.49" y="98.62" width="2.28" height="9.36" fill="#040000" />
<rect x="198.94" y="98.62" width="2.28" height="9.36" fill="#350000" />
<rect x="201.40" y="98.62" width="2.28" height="9.36" fill="#000500" />
<rect x="203.86" y="98.62" width="2.28" height="9.36" fill="#750000" />
<rect x="206.31" y="98.62" width="2.28" height="9.36" fill="#f60000" />
<rect x="208.77" y="98.62" width="2.28" height="9.36" fill="#ec0000" />
<rect x="211.23" y="98.62" width="2.28" height="9.36" fill="#070000" />
<rect x="213.69" y="98.62" width="2.28" height="9.36" fill="#006e00" />
<rect x="216.14" y="98.62" width="2.28" height="9.36" fill="#7d0000" />
<rect x="218.60" y="98.62" width="2.28" height="9.36" fill="#000e00" />
<rect x="221.06" y="98.62" width="2.28" height="9.36" fill="#340000" />
<rect x="223.51" y="98.62" width="2.28" height="9.36" fill="#006900" />
<rect x="225.97" y="98.62" width="2.28" height="9.36" fill="#00fa00" />
<rect x="228.43" y="98.62" width="2.28" height="9.36" fill="#000e00" />
<rect x="230.89" y="98.62" width="2.28" height="9.36" fill="#00ef00" />
<rect x="233.34" y="98.62" width="2.28" height="9.36" fill="#007500" />
<rect x="235.80" y="98.62" width="2.28" height="9.36" fill="#00a700" />
<rect x="238.26" y="98.62" width="2.28" height="9.36" fill="#400000" />
<rect x="240.71" y="98.62" width="2.28" height="9.36" fill="#007100" />
<rect x="243.17" y="98.62" width="2.28" height="9.36" fill="#003c00" />
<rect x="245.63" y="98.62" width="2.28" height="9.36" fill="#740000" />
<rect x="248.09" y="98.62" width="2.28" height="9.36" fill="#330000" />
<rect x="250.54" y="98.62" width="2.28" height="9.36" fill="#370000" />
<rect x="253.00" y="98.62" width="2.28" height="9.36" fill="#00ee00" />
<rect x="255.46" y="98.62" width="2.28" height="9.36" fill="#fb0000" />
<rect x="257.91" y="98.62" width="2.28" height="9.36" fill="#000600" />
<rect x="260.37" y="98.62" width="2.28" height="9.36" fill="#f90000" />
<rect x="262.83" y="98.62" width="2.28" height="9.36" fill="#000e00" />
<rect x="265.29" y="98.62" width="2.28" height="9.36" fill="#3f0000" />
<rect x="267.74" y="98.62" width="2.28" height="9.36" fill="#005d00" />
<rect x="270.20" y="98.62" width="2.28" height="9.36" fill="#770000" />
<rect x="272.66" y="98.62" width="2.28" height="9.36" fill="#240000" />
<rect x="275.11" y="98.62" width="2.28" height="9.36" fill="#7b0000" />
<rect x="277.57" y="98.62" width="2.28" height="9.36" fill="#005e00" />
<rect x="280.03" y="98.62" width="2.28" height="9.36" fill="#00f600" />
<rect x="282.49" y="98.62" width="2.28" height="9.36" fill="#3a0000" />
<rect x="284.94" y="98.62" width="2.28" height="9.36" fill="#f60000" />
<rect x="287.40" y="98.62" width="2.28" height="9.36" fill="#00fa00" />
<rect x="289.86" y="98.62" width="2.28" height="9.36" fill="#00fd00" />
<rect x="292.31" y="98.62" width="2.28" height="9.36" fill="#2b0000" />
<rect x="294.77" y="98.62" width="2.28" height="9.36" fill="#000e00" />
<rect x="297.23" y="98.62" width="2.28" height="9.36" fill="#f80000" />
<rect x="299.69" y="98.62" width="2.28" height="9.36" fill="#005e00" />
<rect x="302.14" y="98.62" width="2.28" height="9.36" fill="#002d00" />
<rect x="304.60" y="98.62" width="2.28" height="9.36" fill="#005b00" />
<rect x="307.06" y="98.62" width="2.28" height="9.36" fill="#060000" />
<rect x="309.51" y="98.62" width="2.28" height="9.36" fill="#00fa00" />
<rect x="311.97" y="98.62" width="2.28" height="9.36" fill="#720000" />
<rect x="314.43" y="98.62" width="2.28" height="9.36" fill="#006800" />
<rect x="316.89" y="98.62" width="2.28" height="9.36" fill="#3c0000" />
<rect x="319.34" y="98.62" width="2.28" height="9.36" fill="#710000" />
<rect x="321.80" y="98.62" width="2.28" height="9.36" fill="#00fa00" />
<rect x="324.26" y="98.62" width="2.28" height="9.36" fill="#00a400" />
<rect x="326.71" y="98.62" width="2.28" height="9.36" fill="#0e0000" />
<rect x="329.17" y="98.62" width="2.28" height="9.36" fill="#2a0000" />
<rect x="331.63" y="98.62" width="2.28" height="9.36" fill="#005a00" />
<rect x="334.09" y="98.62" width="2.28" height="9.36" fill="#ff0000" />
<rect x="336.54" y="98.62" width="2.28" height="9.36" fill="#fa0000" />
<rect x="339.00" y="98.62" width="2.28" height="9.36" fill="#000800" />
<rect x="341.46" y="98.62" width="2.28" height="9.36" fill="#780000" />
<rect x="343.91" y="98.62" width="2.28" height="9.36" fill="#0e0000" />
<rect x="346.37" y="98.62" width="2.28" height="9.36" fill="#780000" />
<rect x="348.83" y="98.62" width="2.28" height="9.36" fill="#ad0000" />
<rect x="351.29" y="98.62" width="2.28" height="9.36" fill="#3f0000" />
<rect x="353.74" y="98.62" width="2.28" height="9.36" fill="#000500" />
<rect x="356.20" y="98.62" width="2.28" height="9.36" fill="#00b000" />
<rect x="358.66" y="98.62" width="2.28" height="9.36" fill="#009c00" />
<rect x="361.11" y="98.62" width="2.28" height="9.36" fill="#f20000" />
<rect x="363.57" y="98.62" width="2.28" height="9.36" fill="#b80000" />
<rect x="366.03" y="98.62" width="2.28" height="9.36" fill="#050000" />
<rect x="368.49" y="98.62" width="2.28" height="9.36" fill="#7f0000" />
<rect x="370.94" y="98.62" width="2.28" height="9.36" fill="#00f500" />
<rect x="373.40" y="98.62" width="2.28" height="9.36" fill="#bd0000" />
<rect x="375.86" y="98.62" width="2.28" height="9.36" fill="#060000" />
<rect x="378.31" y="98.62" width="2.28" height="9.36" fill="#3e0000" />
<rect x="380.77" y="98.62" width="2.28" height="9.36" fill="#00aa00" />
<rect x="383.23" y="98.62" width="2.28" height="9.36" fill="#770000" />
<rect x="385.69" y="98.62" width="2.28" height="9.36" fill="#020000" />
<rect x="388.14" y="98.62" width="2.28" height="9.36" fill="#6a0000" />
<rect x="390.60" y="98.62" width="2.28" height="9.36" fill="#00fb00" />
<rect x="393.06" y="98.62" width="2.28" height="9.36" fill="#f20000" />
<rect x="395.51" y="98.62" width="2.28" height="9.36" fill="#fd0000" />
<rect x="397.97" y="98.62" width="2.28" height="9.36" fill="#bf0000" />
<rect x="400.43" y="98.62" width="2.28" height="9.36" fill="#00fc00" />
<rect x="402.89" y="98.62" width="2.28" height="9.36" fill="#fe0000" />
<rect x="405.34" y="98.62" width="2.28" height="9.36" fill="#00fd00" />
<rect x="407.80" y="98.62" width="2.28" height="9.36" fill="#ec0000" />
<rect x="410.26" y="98.62" width="2.28" height="9.36" fill="#f80000" />
<rect x="412.71" y="98.62" width="2.28" height="9.36" fill="#fc0000" />
<rect x="415.17" y="98.62" width="2.28" height="9.36" fill="#a40000" />
<rect x="417.63" y="98.62" width="2.28" height="9.36" fill="#004100" />
<rect x="420.09" y="98.62" width="2.28" height="9.36" fill="#760000" />
<rect x="422.54" y="98.62" width="2.28" height="9.36" fill="#b70000" />
<rect x="425.00" y="98.62" width="2.28" height="9.36" fill="#060000" />
<rect x="427.46" y="98.62" width="2.28" height="9.36" fill="#f00000" />
<rect x="429.91" y="98.62" width="2.28" height="9.36" fill="#00fe00" />
<rect x="432.37" y="98.62" width="2.28" height="9.36" fill="#f30000" />
<rect x="434.83" y="98.62" width="2.28" height="9.36" fill="#f80000" />
<rect x="437.29" y="98.62" width="2.28" height="9.36" fill="#ee0000" />
<rect x="439.74" y="98.62" width="2.28" height="9.36" fill="#bc0000" />
<rect x="442.20" y="98.62" width="2.28" height="9.36" fill="#3f0000" />
<rect x="444.66" y="98.62" width="2.28" height="9.36" fill="#000d00" />
<rect x="447.11" y="98.62" width="2.28" height="9.36" fill="#7b0000" />
<rect x="449.57" y="98.62" width="2.28" height="9.36" fill="#ec0000" />
<rect x="452.03" y="98.62" width="2.28" height="9.36" fill="#ec0000" />
<rect x="454.49" y="98.62" width="2.28" height="9.36" fill="#000c00" />
<rect x="456.94" y="98.62" width="2.28" height="9.36" fill="#a90000" />
<rect x="459.40" y="98.62" width="2.28" height="9.36" fill="#270000" />
<rect x="461.86" y="98.62" width="2.28" height="9.36" fill="#620000" />
<rect x="464.31" y="98.62" width="2.28" height="9.36" fill="#7b0000" />
<rect x="466.77" y="98.62" width="2.28" height="9.36" fill="#00ee00" />
<rect x="469.23" y="98.62" width="2.28" height="9.36" fill="#f20000" />
<rect x="471.69" y="98.62" width="2.28" height="9.36" fill="#ee0000" />
<rect x="474.14" y="98.62" width="2.28" height="9.36" fill="#740000" />
<rect x="476.60" y="98.62" width="2.28" height="9.36" fill="#003a00" />
<rect x="479.06" y="98.62" width="2.28" height="9.36" fill="#a60000" />
<rect x="481.51" y="98.62" width="2.28" height="9.36" fill="#a60000" />
<rect x="483.97" y="98.62" width="2.28" height="9.36" fill="#080000" />
<rect x="486.43" y="98.62" width="2.28" height="9.36" fill="#2a0000" />
<rect x="488.89" y="98.62" width="2.28" height="9.36" fill="#6b0000" />
<rect x="491.34" y="98.62" width="2.28" height="9.36" fill="#310000" />
<rect x="493.80" y="98.62" width="2.28" height="9.36" fill="#00ff00" />
<rect x="496.26" y="98.62" width="2.28" height="9.36" fill="#690000" />
<rect x="498.71" y="98.62" width="2.28" height="9.36" fill="#006d00" />
<rect x="501.17" y="98.62" width="2.28" height="9.36" fill="#f00000" />
<rect x="503.63" y="98.62" width="2.28" height="9.36" fill="#003700" />
<rect x="506.09" y="98.62" width="2.28" height="9.36" fill="#000500" />
<rect x="508.54" y="98.62" width="2.28" height="9.36" fill="#410000" />
<rect x="81.00" y="108.16" width="2.28" height="9.36" fill="#000000" />
<rect x="83.46" y="108.16" width="2.28" height="9.36" fill="#00ee00" />
<rect x="85.91" y="108.16" width="2.28" height="9.36" fill="#00f200" />
<rect x="88.37" y="108.16" width="2.28" height="9.36" fill="#620000" />
<rect x="90.83" y="108.16" width="2.28" height="9.36" fill="#00f700" />
<rect x="93.29" y="108.16" width="2.28" height="9.36" fill="#310000" />
<rect x="95.74" y="108.16" width="2.28" height="9.36" fill="#005e00" />
<rect x="98.20" y="108.16" width="2.28" height="9.36" fill="#00f800" />
<rect x="100.66" y="108.16" width="2.28" height="9.36" fill="#00f100" />
<rect x="103.11" y="108.16" width="2.28" height="9.36" fill="#00a700" />
<rect x="105.57" y="108.16" width="2.28" height="9.36" fill="#680000" />
<rect x="108.03" y="108.16" width="2.28" height="9.36" fill="#00ed00" />
<rect x="110.49" y="108.16" width="2.28" height="9.36" fill="#007300" />
<rect x="112.94" y="108.16" width="2.28" height="9.36" fill="#00ee00" />
<rect x="115.40" y="108.16" width="2.28" height="9.36" fill="#00b200" />
<rect x="117.86" y="108.16" width="2.28" height="9.36" fill="#00ff00" />
<rect x="120.31" y="108.16" width="2.28" height="9.36" fill="#2a0000" />
<rect x="122.77" y="108.16" width="2.28" height="9.36" fill="#080000" />
<rect x="125.23" y="108.16" width="2.28" height="9.36" fill="#00eb00" />
<rect x="127.69" y="108.16" width="2.28" height="9.36" fill="#000f00" />
<rect x="130.14" y="108.16" width="2.28" height="9.36" fill="#006600" />
<rect x="132.60" y="108.16" width="2.28" height="9.36" fill="#006600" />
<rect x="135.06" y="108.16" width="2.28" height="9.36" fill="#005d00" />
<rect x="137.51" y="108.16" width="2.28" height="9.36" fill="#00fb00" />
<rect x="139.97" y="108.16" width="2.28" height="9.36" fill="#00f500" />
<rect x="142.43" y="108.16" width="2.28" height="9.36" fill="#00ad00" />
<rect x="144.89" y="108.16" width="2.28" height="9.36" fill="#0a0000" />
<rect x="147.34" y="108.16" width="2.28" height="9.36" fill="#00fa00" />
<rect x="149.80" y="108.16" width="2.28" height="9.36" fill="#00ec00" />
<rect x="152.26" y="108.16" width="2.28" height="9.36" fill="#00af00" />
<rect x="154.71" y="108.16" width="2.28" height="9.36" fill="#000900" />
<rect x="157.17" y="108.16" width="2.28" height="9.36" fill="#760000" />
<rect x="159.63" y="108.16" width="2.28" height="9.36" fill="#00a800" />
<rect x="162.09" y="108.16" width="2.28" height="9.36" fill="#00b400" />
<rect x="164.54" y="108.16" width="2.28" height="9.36" fill="#00f200" />
<rect x="167.00" y="108.16" width="2.28" height="9.36" fill="#00fd00" />
<rect x="169.46" y="108.16" width="2.28" height="9.36" fill="#090000" />
<rect x="171.91" y="108.16" width="2.28" height="9.36" fill="#f10000" />
<rect x="174.37" y="108.16" width="2.28" height="9.36" fill="#090000" />
<rect x="176.83" y="108.16" width="2.28" height="9.36" fill="#006200" />
<rect x="179.29" y="108.16" width="2.28" height="9.36" fill="#00ad00" />
<rect x="181.74" y="108.16" width="2.28" height="9.36" fill="#006900" />
<rect x="184.20" y="108.16" width="2.28" height="9.36" fill="#00f700" />
<rect x="186.66" y="108.16" width="2.28" height="9.36" fill="#009c00" />
<rect x="189.11" y="108.16" width="2.28" height="9.36" fill="#260000" />
<rect x="191.57" y="108.16" width="2.28" height="9.36" fill="#7c0000" />
<rect x="194.03" y="108.16" width="2.28" height="9.36" fill="#fe0000" />
<rect x="196.49" y="108.16" width="2.28" height="9.36" fill="#2a0000" />
<rect x="198.94" y="108.16" width="2.28" height="9.36" fill="#006d00" />
<rect x="201.40" y="108.16" width="2.28" height="9.36" fill="#00ed00" />
<rect x="203.86" y="108.16" width="2.28" height="9.36" fill="#000000" />
<rect x="206.31" y="108.16" width="2.28" height="9.36" fill="#f70000" />
<rect x="208.77" y="108.16" width="2.28" height="9.36" fill="#00ed00" />
<rect x="211.23" y="108.16" width="2.28" height="9.36" fill="#fa0000" />
<rect x="213.69" y="108.16" width="2.28" height="9.36" fill="#6f0000" />
<rect x="216.14" y="108.16" width="2.28" height="9.36" fill="#00f400" />
<rect x="218.60" y="108.16" width="2.28" height="9.36" fill="#080000" />
<rect x="221.06" y="108.16" width="2.28" height="9.36" fill="#3b0000" />
<rect x="223.51" y="108.16" width="2.28" height="9.36" fill="#006200" />
<rect x="225.97" y="108.16" width="2.28" height="9.36" fill="#00ad00" />
<rect x="228.43" y="108.16" width="2.28" height="9.36" fill="#000500" />
<rect x="230.89" y="108.16" width="2.28" height="9.36" fill="#007100" />
<rect x="233.34" y="108.16" width="2.28" height="9.36" fill="#7b0000" />
<rect x="235.80" y="108.16" width="2.28" height="9.36" fill="#380000" />
<rect x="238.26" y="108.16" width="2.28" height="9.36" fill="#f00000" />
<rect x="240.71" y="108.16" width="2.28" height="9.36" fill="#007000" />
<rect x="243.17" y="108.16" width="2.28" height="9.36" fill="#000200" />
<rect x="245.63" y="108.16" width="2.28" height="9.36" fill="#ef0000" />
<rect x="248.09" y="108.16" width="2.28" height="9.36" fill="#00f300" />
<rect x="250.54" y="108.16" width="2.28" height="9.36" fill="#000b00" />
<rect x="253.00" y="108.16" width="2.28" height="9.36" fill="#320000" />
<rect x="255.46" y="108.16" width="2.28" height="9.36" fill="#ed0000" />
<rect x="257.91" y="108.16" width="2.28" height="9.36" fill="#aa0000" />
<rect x="260.37" y="108.16" width="2.28" height="9.36" fill="#670000" />
<rect x="262.83" y="108.16" width="2.28" height="9.36" fill="#000600" />
<rect x="265.29" y="108.16" width="2.28" height="9.36" fill="#760000" />
<rect x="267.74" y="108.16" width="2.28" height="9.36" fill="#ee0000" />
<rect x="270.20" y="108.16" width="2.28" height="9.36" fill="#000b00" />
<rect x="272.66" y="108.16" width="2.28" height="9.36" fill="#660000" />
<rect x="275.11" y="108.16" width="2.28" height="9.36" fill="#2b0000" />
<rect x="277.57" y="108.16" width="2.28" height="9.36" fill="#6b0000" />
<rect x="280.03" y="108.16" width="2.28" height="9.36" fill="#003200" />
<rect x="282.49" y="108.16" width="2.28" height="9.36" fill="#290000" />
<rect x="284.94" y="108.16" width="2.28" height="9.36" fill="#000500" />
<rect x="287.40" y="108.16" width="2.28" height="9.36" fill="#290000" />
<rect x="289.86" y="108.16" width="2.28" height="9.36" fill="#7f0000" />
<rect x="292.31" y="108.16" width="2.28" height="9.36" fill="#005f00" />
<rect x="294.77" y="108.16" width="2.28" height="9.36" fill="#000c00" />
<rect x="297.23" y="108.16" width="2.28" height="9.36" fill="#eb0000" />
<rect x="299.69" y="108.16" width="2.28" height="9.36" fill="#270000" />
<rect x="302.14" y="108.16" width="2.28" height="9.36" fill="#000400" />
<rect x="304.60" y="108.16" width="2.28" height="9.36" fill="#005700" />
<rect x="307.06" y="108.16" width="2.28" height="9.36" fill="#00ef00" />
<rect x="309.51" y="108.16" width="2.28" height="9.36" fill="#00a100" />
<rect x="311.97" y="108.16" width="2.28" height="9.36" fill="#00f600" />
<rect x="314.43" y="108.16" width="2.28" height="9.36" fill="#00fb00" />
<rect x="316.89" y="108.16" width="2.28" height="9.36" fill="#f20000" />
<rect x="319.34" y="108.16" width="2.28" height="9.36" fill="#fd0000" />
<rect x="321.80" y="108.16" width="2.28" height="9.36" fill="#003c00" />
<rect x="324.26" y="108.16" width="2.28" height="9.36" fill="#006900" />
<rect x="326.71" y="108.16" width="2.28" height="9.36" fill="#fe0000" />
<rect x="329.17" y="108.16" width="2.28" height="9.36" fill="#00f700" />
<rect x="331.63" y="108.16" width="2.28" height="9.36" fill="#090000" />
<rect x="334.09" y="108.16" width="2.28" height="9.36" fill="#006000" />
<rect x="336.54" y="108.16" width="2.28" height="9.36" fill="#003300" />
<rect x="339.00" y="108.16" width="2.28" height="9.36" fill="#00a400" />
<rect x="341.46" y="108.16" width="2.28" height="9.36" fill="#00f600" />
<rect x="343.91" y="108.16" width="2.28" height="9.36" fill="#fc0000" />
<rect x="346.37" y="108.16" width="2.28" height="9.36" fill="#003000" />
<rect x="348.83" y="108.16" width="2.28" height="9.36" fill="#000300" />
<rect x="351.29" y="108.16" width="2.28" height="9.36" fill="#00f000" />
<rect x="353.74" y="108.16" width="2.28" height="9.36" fill="#ec0000" />
<rect x="356.20" y="108.16" width="2.28" height="9.36" fill="#00aa00" />
<rect x="358.66" y="108.16" width="2.28" height="9.36" fill="#00a600" />
<rect x="361.11" y="108.16" width="2.28" height="9.36" fill="#002b00" />
<rect x="363.57" y="108.16" width="2.28" height="9.36" fill="#b00000" />
<rect x="366.03" y="108.16" width="2.28" height="9.36" fill="#fa0000" />
<rect x="368.49" y="108.16" width="2.28" height="9.36" fill="#770000" />
<rect x="370.94" y="108.16" width="2.28" height="9.36" fill="#009d00" />
<rect x="373.40" y="108.16" width="2.28" height="9.36" fill="#002b00" />
<rect x="375.86" y="108.16" width="2.28" height="9.36" fill="#006000" />
<rect x="378.31" y="108.16" width="2.28" height="9.36" fill="#7b0000" />
<rect x="380.77" y="108.16" width="2.28" height="9.36" fill="#f10000" />
<rect x="383.23" y="108.16" width="2.28" height="9.36" fill="#040000" />
<rect x="385.69" y="108.16" width="2.28" height="9.36" fill="#6f0000" />
<rect x="388.14" y="108.16" width="2.28" height="9.36" fill="#ad0000" />
<rect x="390.60" y="108.16" width="2.28" height="9.36" fill="#040000" />
<rect x="393.06" y="108.16" width="2.28" height="9.36" fill="#640000" />
<rect x="395.51" y="108.16" width="2.28" height="9.36" fill="#310000" />
<rect x="397.97" y="108.16" width="2.28" height="9.36" fill="#790000" />
<rect x="400.43" y="108.16" width="2.28" height="9.36" fill="#00f000" />
<rect x="402.89" y="108.16" width="2.28" height="9.36" fill="#370000" />
<rect x="405.34" y="108.16" width="2.28" height="9.36" fill="#006e00" />
<rect x="407.80" y="108.16" width="2.28" height="9.36" fill="#f60000" />
<rect x="410.26" y="108.16" width="2.28" height="9.36" fill="#f60000" />
<rect x="412.71" y="108.16" width="2.28" height="9.36" fill="#b60000" />
<rect x="415.17" y="108.16" width="2.28" height="9.36" fill="#006900" />
<rect x="417.63" y="108.16" width="2.28" height="9.36" fill="#760000" />
<rect x="420.09" y="108.16" width="2.28" height="9.36" fill="#400000" />
<rect x="422.54" y="108.16" width="2.28" height="9.36" fill="#000a00" />
<rect x="425.00" y="108.16" width="2.28" height="9.36" fill="#002e00" />
<rect x="427.46" y="108.16" width="2.28" height="9.36" fill="#090000" />
<rect x="429.91" y="108.16" width="2.28" height="9.36" fill="#f70000" />
<rect x="432.37" y="108.16" width="2.28" height="9.36" fill="#f50000" />
<rect x="434.83" y="108.16" width="2.28" height="9.36" fill="#eb0000" />
<rect x="437.29" y="108.16" width="2.28" height="9.36" fill="#fe0000" />
<rect x="439.74" y="108.16" width="2.28" height="9.36" fill="#f40000" />
<rect x="442.20" y="108.16" width="2.28" height="9.36" fill="#007000" />
<rect x="444.66" y="108.16" width="2.28" height="9.36" fill="#090000" />
<rect x="447.11" y="108.16" width="2.28" height="9.36" fill="#005900" />
<rect x="449.57" y="108.16" width="2.28" height="9.36" fill="#340000" />
<rect x="452.03" y="108.16" width="2.28" height="9.36" fill="#fd0000" />
<rect x="454.49" y="108.16" width="2.28" height="9.36" fill="#f30000" />
<rect x="456.94" y="108.16" width="2.28" height="9.36" fill="#340000" />
<rect x="459.40" y="108.16" width="2.28" height="9.36" fill="#002c00" />
<rect x="461.86" y="108.16" width="2.28" height="9.36" fill="#710000" />
<rect x="464.31" y="108.16" width="2.28" height="9.36" fill="#740000" />
<rect x="466.77" y="108.16" width="2.28" height="9.36" fill="#bd0000" />
<rect x="469.23" y="108.16" width="2.28" height="9.36" fill="#b30000" />
<rect x="471.69" y="108.16" width="2.28" height="9.36" fill="#f70000" />
<rect x="474.14" y="108.16" width="2.28" height="9.36" fill="#ec0000" />
<rect x="476.60" y="108.16" width="2.28" height="9.36" fill="#aa0000" />
<rect x="479.06" y="108.16" width="2.28" height="9.36" fill="#b80000" />
<rect x="481.51" y="108.16" width="2.28" height="9.36" fill="#f70000" />
<rect x="483.97" y="108.16" width="2.28" height="9.36" fill="#780000" />
<rect x="486.43" y="108.16" width="2.28" height="9.36" fill="#003f00" />
<rect x="488.89" y="108.16" width="2.28" height="9.36" fill="#420000" />
<rect x="491.34" y="108.16" width="2.28" height="9.36" fill="#6c0000" />
<rect x="493.80" y="108.16" width="2.28" height="9.36" fill="#00fe00" />
<rect x="496.26" y="108.16" width="2.28" height="9.36" fill="#00af00" />
<rect x="498.71" y="108.16" width="2.28" height="9.36" fill="#006900" />
<rect x="501.17" y="108.16" width="2.28" height="9.36" fill="#610000" />
<rect x="503.63" y="108.16" width="2.28" height="9.36" fill="#00ab00" />
<rect x="506.09" y="108.16" width="2.28" height="9.36" fill="#6e0000" />
<rect x="508.54" y="108.16" width="2.28" height="9.36" fill="#060000" />
<text transform="translate(78.20,45.90)" font-size="6.4" font-weight="normal" font-style="italic" text-anchor="end" fill="#151515" >ICOS</text>
<text transform="translate(78.20,55.60)" font-size="6.4" font-weight="normal" font-style="italic" text-anchor="end" fill="#151515" >CD11c</text>
<text transform="translate(78.20,65.40)" font-size="6.4" font-weight="normal" font-style="italic" text-anchor="end" fill="#151515" >FGFR1</text>
<text transform="translate(78.20,78.20)" font-size="6.4" font-weight="normal" font-style="italic" text-anchor="end" fill="#151515" >FKBP4</text>
<text transform="translate(78.20,86.30)" font-size="6.4" font-weight="normal" font-style="italic" text-anchor="end" fill="#151515" >MYC</text>
<text transform="translate(78.20,96.00)" font-size="6.4" font-weight="normal" font-style="italic" text-anchor="end" fill="#151515" >PAICS</text>
<text transform="translate(78.20,105.80)" font-size="6.4" font-weight="normal" font-style="italic" text-anchor="end" fill="#151515" >PDXP</text>
<text transform="translate(78.20,116.20)" font-size="6.4" font-weight="normal" font-style="italic" text-anchor="end" fill="#151515" >CDK4</text>
<text transform="translate(14.20,78.00) rotate(-90)" font-size="7.6" font-weight="bold" font-style="normal" text-anchor="middle" fill="#000" >Gene expression</text>
<path d="M19.30,38.70 H17.70 V117.30 H19.30" fill="none" stroke="#222" stroke-width="0.8"/>
<text transform="translate(42.00,53.30) rotate(-90)" font-size="5.9" font-weight="normal" font-style="normal" text-anchor="middle" fill="#262626" >DMS genes</text>
<path d="M46.80,38.70 H45.20 V67.30 H46.80" fill="none" stroke="#222" stroke-width="0.8"/>
<text transform="translate(35.60,94.40) rotate(-90)" font-size="6.0" font-weight="normal" font-style="italic" text-anchor="middle" fill="#262626" >Poor prognostic</text>
<text transform="translate(43.00,94.40) rotate(-90)" font-size="6.0" font-weight="normal" font-style="italic" text-anchor="middle" fill="#262626" >genes</text>
<path d="M46.80,70.30 H45.20 V117.30 H46.80" fill="none" stroke="#222" stroke-width="0.8"/>
<text transform="translate(78.20,126.20)" font-size="7.0" font-weight="normal" font-style="normal" text-anchor="end" fill="#111" >CNA burden</text>
<text transform="translate(78.20,137.07)" font-size="6.4" font-weight="normal" font-style="italic" text-anchor="end" fill="#151515" >BCL2</text>
<text transform="translate(78.20,144.61)" font-size="6.4" font-weight="normal" font-style="italic" text-anchor="end" fill="#151515" >BCL6</text>
<text transform="translate(78.20,152.15)" font-size="6.4" font-weight="normal" font-style="italic" text-anchor="end" fill="#151515" >MYD88</text>
<text transform="translate(78.20,159.69)" font-size="6.4" font-weight="normal" font-style="italic" text-anchor="end" fill="#151515" >SETD2</text>
<text transform="translate(78.20,167.23)" font-size="6.4" font-weight="normal" font-style="italic" text-anchor="end" fill="#151515" >SMAD2</text>
<text transform="translate(78.20,177.50)" font-size="6.4" font-weight="normal" font-style="italic" text-anchor="end" fill="#151515" >CDKN2A</text>
<text transform="translate(78.20,185.10)" font-size="6.4" font-weight="normal" font-style="italic" text-anchor="end" fill="#151515" >CDKN2B</text>
<text transform="translate(78.20,192.70)" font-size="6.4" font-weight="normal" font-style="italic" text-anchor="end" fill="#151515" >MTAP</text>
<text transform="translate(78.20,203.15)" font-size="6.4" font-weight="normal" font-style="italic" text-anchor="end" fill="#151515" >CD79B</text>
<text transform="translate(78.20,210.65)" font-size="6.4" font-weight="normal" font-style="italic" text-anchor="end" fill="#151515" >CARD11</text>
<text transform="translate(78.20,218.15)" font-size="6.4" font-weight="normal" font-style="italic" text-anchor="end" fill="#151515" >MYD88</text>
<text transform="translate(78.20,225.65)" font-size="6.4" font-weight="normal" font-style="italic" text-anchor="end" fill="#151515" >PRDM1</text>
<text transform="translate(78.20,233.15)" font-size="6.4" font-weight="normal" font-style="italic" text-anchor="end" fill="#151515" >PIM1</text>
<text transform="translate(78.20,243.76)" font-size="6.4" font-weight="normal" font-style="italic" text-anchor="end" fill="#151515" >KMT2D</text>
<text transform="translate(78.20,251.29)" font-size="6.4" font-weight="normal" font-style="italic" text-anchor="end" fill="#151515" >CREBBP</text>
<text transform="translate(78.20,258.82)" font-size="6.4" font-weight="normal" font-style="italic" text-anchor="end" fill="#151515" >EZH2</text>
<text transform="translate(78.20,266.35)" font-size="6.4" font-weight="normal" font-style="italic" text-anchor="end" fill="#151515" >MEF2B</text>
<text transform="translate(78.20,273.88)" font-size="6.4" font-weight="normal" font-style="italic" text-anchor="end" fill="#151515" >ARID1A</text>
<text transform="translate(78.20,281.41)" font-size="6.4" font-weight="normal" font-style="italic" text-anchor="end" fill="#151515" >TET2</text>
<text transform="translate(78.20,288.94)" font-size="6.4" font-weight="normal" font-style="italic" text-anchor="end" fill="#151515" >EP300</text>
<text transform="translate(78.20,299.27)" font-size="6.4" font-weight="normal" font-style="italic" text-anchor="end" fill="#151515" >NOTCH1</text>
<text transform="translate(78.20,306.82)" font-size="6.4" font-weight="normal" font-style="italic" text-anchor="end" fill="#151515" >NOTCH2</text>
<text transform="translate(78.20,314.38)" font-size="6.4" font-weight="normal" font-style="italic" text-anchor="end" fill="#151515" >NOTCH3</text>
<text transform="translate(78.20,321.93)" font-size="6.4" font-weight="normal" font-style="italic" text-anchor="end" fill="#151515" >FBXW7</text>
<text transform="translate(78.20,332.45)" font-size="6.4" font-weight="normal" font-style="italic" text-anchor="end" fill="#151515" >SOCS1</text>
<text transform="translate(78.20,339.95)" font-size="6.4" font-weight="normal" font-style="italic" text-anchor="end" fill="#151515" >CCND3</text>
<text transform="translate(78.20,347.45)" font-size="6.4" font-weight="normal" font-style="italic" text-anchor="end" fill="#151515" >STAT6</text>
<text transform="translate(78.20,354.95)" font-size="6.4" font-weight="normal" font-style="italic" text-anchor="end" fill="#151515" >JAK2</text>
<text transform="translate(78.20,362.45)" font-size="6.4" font-weight="normal" font-style="italic" text-anchor="end" fill="#151515" >JAK1</text>
<text transform="translate(78.20,369.95)" font-size="6.4" font-weight="normal" font-style="italic" text-anchor="end" fill="#151515" >STAT3</text>
<text transform="translate(78.20,377.45)" font-size="6.4" font-weight="normal" font-style="italic" text-anchor="end" fill="#151515" >JAK3</text>
<text transform="translate(14.20,249.50) rotate(-90)" font-size="7.6" font-weight="bold" font-style="normal" text-anchor="middle" fill="#000" >Genetic alterations</text>
<path d="M19.30,119.60 H17.70 V378.80 H19.30" fill="none" stroke="#222" stroke-width="0.8"/>
<text transform="translate(26.20,157.00) rotate(-90)" font-size="6.0" font-weight="normal" font-style="italic" text-anchor="middle" fill="#262626" >Copy number alteration</text>
<path d="M31.80,119.60 H30.20 V193.80 H31.80" fill="none" stroke="#222" stroke-width="0.8"/>
<text transform="translate(26.20,289.00) rotate(-90)" font-size="6.0" font-weight="normal" font-style="normal" text-anchor="middle" fill="#262626" >SNV or short insertion/deletion</text>
<path d="M31.80,197.60 H30.20 V378.80 H31.80" fill="none" stroke="#222" stroke-width="0.8"/>
<text transform="translate(45.80,150.00) rotate(-90)" font-size="6.0" font-weight="normal" font-style="normal" text-anchor="middle" fill="#1c1c1c" >CN gain</text>
<path d="M49.40,132.00 H47.80 V167.30 H49.40" fill="none" stroke="#222" stroke-width="0.8"/>
<text transform="translate(45.80,183.00) rotate(-90)" font-size="6.0" font-weight="normal" font-style="normal" text-anchor="middle" fill="#1c1c1c" >CN Del</text>
<path d="M49.40,172.50 H47.80 V193.20 H49.40" fill="none" stroke="#222" stroke-width="0.8"/>
<text transform="translate(46.30,212.30) rotate(-90)" font-size="6.0" font-weight="normal" font-style="normal" text-anchor="middle" fill="#1c1c1c" >BCR-TLR</text>
<path d="M50.20,197.60 H48.60 V227.20 H50.20" fill="none" stroke="#222" stroke-width="0.8"/>
<text transform="translate(39.40,263.80) rotate(-90)" font-size="6.0" font-weight="normal" font-style="italic" text-anchor="middle" fill="#262626" >Epigenome/chromatin</text>
<text transform="translate(46.80,263.80) rotate(-90)" font-size="6.0" font-weight="normal" font-style="italic" text-anchor="middle" fill="#262626" >modifier</text>
<path d="M50.20,237.60 H48.60 V290.20 H50.20" fill="none" stroke="#222" stroke-width="0.8"/>
<text transform="translate(46.80,308.00) rotate(-90)" font-size="6.0" font-weight="normal" font-style="normal" text-anchor="middle" fill="#1c1c1c" >NOTCH</text>
<path d="M50.20,292.80 H48.60 V323.20 H50.20" fill="none" stroke="#222" stroke-width="0.8"/>
<text transform="translate(46.80,352.50) rotate(-90)" font-size="6.0" font-weight="normal" font-style="italic" text-anchor="middle" fill="#1c1c1c" >JAK-STAT</text>
<path d="M50.20,326.40 H48.60 V378.80 H50.20" fill="none" stroke="#222" stroke-width="0.8"/>
<text transform="translate(14.20,391.80) rotate(-90)" font-size="7.3" font-weight="bold" font-style="normal" text-anchor="middle" fill="#000" >COO</text>
<path d="M20.20,382.00 H18.60 V401.00 H20.20" fill="none" stroke="#222" stroke-width="0.8"/>
<text transform="translate(78.70,389.60)" font-size="7.0" font-weight="normal" font-style="normal" text-anchor="end" fill="#111" >Lymph2Cx</text>
<text transform="translate(78.70,398.40)" font-size="7.0" font-weight="normal" font-style="normal" text-anchor="end" fill="#111" >Hans</text>
<text transform="translate(77.60,410.40)" font-size="7.15" font-weight="bold" font-style="normal" text-anchor="end" fill="#000" >Double-expressor</text>
<text transform="translate(77.60,420.00)" font-size="7.15" font-weight="bold" font-style="normal" text-anchor="end" fill="#000" >Double-hit</text>
<text transform="translate(78.00,432.20)" font-size="7.15" font-weight="bold" font-style="normal" text-anchor="end" fill="#000" >Survival</text>
<rect x="126.00" y="120.60" width="2.50" height="7.30" fill="#1d9fd9" />
<rect x="128.45" y="120.60" width="2.50" height="7.30" fill="#e868a8" />
<rect x="130.90" y="120.60" width="2.50" height="7.30" fill="#1d9fd9" />
<rect x="133.34" y="120.60" width="2.50" height="7.30" fill="#f3a9cf" />
<rect x="135.79" y="120.60" width="2.50" height="7.30" fill="#1d9fd9" />
<rect x="138.24" y="120.60" width="2.50" height="7.30" fill="#1d9fd9" />
<rect x="140.69" y="120.60" width="2.50" height="7.30" fill="#1d9fd9" />
<rect x="143.14" y="120.60" width="2.50" height="7.30" fill="#2aa5dc" />
<rect x="145.59" y="120.60" width="2.50" height="7.30" fill="#1d9fd9" />
<rect x="148.03" y="120.60" width="2.50" height="7.30" fill="#1d9fd9" />
<rect x="150.48" y="120.60" width="2.50" height="7.30" fill="#1d9fd9" />
<rect x="152.93" y="120.60" width="2.50" height="7.30" fill="#2aa5dc" />
<rect x="155.38" y="120.60" width="2.50" height="7.30" fill="#1d9fd9" />
<rect x="157.83" y="120.60" width="2.50" height="7.30" fill="#1d9fd9" />
<rect x="160.27" y="120.60" width="2.50" height="7.30" fill="#1d9fd9" />
<rect x="162.72" y="120.60" width="2.50" height="7.30" fill="#35abdf" />
<rect x="165.17" y="120.60" width="2.50" height="7.30" fill="#1d9fd9" />
<rect x="167.62" y="120.60" width="2.50" height="7.30" fill="#35abdf" />
<rect x="170.07" y="120.60" width="2.50" height="7.30" fill="#35abdf" />
<rect x="172.51" y="120.60" width="2.50" height="7.30" fill="#1d9fd9" />
<rect x="174.96" y="120.60" width="2.50" height="7.30" fill="#ffffff" />
<rect x="177.41" y="120.60" width="2.50" height="7.30" fill="#cfeaf7" />
<rect x="179.86" y="120.60" width="2.50" height="7.30" fill="#1d9fd9" />
<rect x="182.31" y="120.60" width="2.50" height="7.30" fill="#1d9fd9" />
<rect x="184.76" y="120.60" width="2.50" height="7.30" fill="#2aa5dc" />
<rect x="187.20" y="120.60" width="2.50" height="7.30" fill="#d6208a" />
<rect x="189.65" y="120.60" width="2.50" height="7.30" fill="#e868a8" />
<rect x="126.00" y="131.00" width="66.10" height="37.70" fill="#fff" />
<rect x="189.60" y="138.54" width="2.40" height="7.54" fill="#f36c6c" />
<path d="M128.45,131.00V168.70M130.90,131.00V168.70M133.34,131.00V168.70M135.79,131.00V168.70M138.24,131.00V168.70M140.69,131.00V168.70M143.14,131.00V168.70M145.59,131.00V168.70M148.03,131.00V168.70M150.48,131.00V168.70M152.93,131.00V168.70M155.38,131.00V168.70M157.83,131.00V168.70M160.27,131.00V168.70M162.72,131.00V168.70M165.17,131.00V168.70M167.62,131.00V168.70M170.07,131.00V168.70M172.51,131.00V168.70M174.96,131.00V168.70M177.41,131.00V168.70M179.86,131.00V168.70M182.31,131.00V168.70M184.76,131.00V168.70M187.20,131.00V168.70M189.65,131.00V168.70M126.00,138.54H192.10M126.00,146.08H192.10M126.00,153.62H192.10M126.00,161.16H192.10" stroke="#333" stroke-width="0.36" fill="none"/>
<rect x="126.00" y="131.00" width="66.10" height="37.70" rx="0.7" ry="0.7" fill="none" stroke="#777" stroke-width="0.5"/>
<rect x="126.00" y="171.40" width="66.10" height="22.80" fill="#fff" />
<rect x="187.10" y="171.40" width="2.50" height="7.60" fill="#b59c88" />
<rect x="187.10" y="179.00" width="2.50" height="7.60" fill="#b59c88" />
<rect x="187.10" y="186.60" width="2.50" height="7.60" fill="#b59c88" />
<path d="M128.45,171.40V194.20M130.90,171.40V194.20M133.34,171.40V194.20M135.79,171.40V194.20M138.24,171.40V194.20M140.69,171.40V194.20M143.14,171.40V194.20M145.59,171.40V194.20M148.03,171.40V194.20M150.48,171.40V194.20M152.93,171.40V194.20M155.38,171.40V194.20M157.83,171.40V194.20M160.27,171.40V194.20M162.72,171.40V194.20M165.17,171.40V194.20M167.62,171.40V194.20M170.07,171.40V194.20M172.51,171.40V194.20M174.96,171.40V194.20M177.41,171.40V194.20M179.86,171.40V194.20M182.31,171.40V194.20M184.76,171.40V194.20M187.20,171.40V194.20M189.65,171.40V194.20M126.00,179.00H192.10M126.00,186.60H192.10" stroke="#333" stroke-width="0.36" fill="none"/>
<rect x="126.00" y="171.40" width="66.10" height="22.80" rx="0.7" ry="0.7" fill="none" stroke="#777" stroke-width="0.5"/>
<rect x="126.00" y="197.10" width="66.10" height="37.50" fill="#fff" />
<rect x="185.00" y="204.60" width="2.45" height="7.50" fill="#2b6f79" />
<rect x="134.60" y="212.10" width="2.45" height="7.50" fill="#2b6f79" />
<path d="M128.45,197.10V234.60M130.90,197.10V234.60M133.34,197.10V234.60M135.79,197.10V234.60M138.24,197.10V234.60M140.69,197.10V234.60M143.14,197.10V234.60M145.59,197.10V234.60M148.03,197.10V234.60M150.48,197.10V234.60M152.93,197.10V234.60M155.38,197.10V234.60M157.83,197.10V234.60M160.27,197.10V234.60M162.72,197.10V234.60M165.17,197.10V234.60M167.62,197.10V234.60M170.07,197.10V234.60M172.51,197.10V234.60M174.96,197.10V234.60M177.41,197.10V234.60M179.86,197.10V234.60M182.31,197.10V234.60M184.76,197.10V234.60M187.20,197.10V234.60M189.65,197.10V234.60M126.00,204.60H192.10M126.00,212.10H192.10M126.00,219.60H192.10M126.00,227.10H192.10" stroke="#333" stroke-width="0.36" fill="none"/>
<rect x="126.00" y="197.10" width="66.10" height="37.50" rx="0.7" ry="0.7" fill="none" stroke="#777" stroke-width="0.5"/>
<rect x="126.00" y="237.70" width="66.10" height="52.70" fill="#fff" />
<rect x="137.00" y="237.70" width="2.45" height="7.53" fill="#2b6f79" />
<rect x="149.30" y="237.70" width="2.45" height="7.53" fill="#2b6f79" />
<rect x="154.20" y="237.70" width="2.45" height="7.53" fill="#2b6f79" />
<rect x="177.50" y="237.70" width="2.45" height="7.53" fill="#2b6f79" />
<rect x="187.30" y="237.70" width="2.45" height="7.53" fill="#2b6f79" />
<rect x="127.20" y="245.23" width="2.45" height="7.53" fill="#2b6f79" />
<rect x="134.60" y="245.23" width="2.45" height="7.53" fill="#2b6f79" />
<rect x="154.20" y="245.23" width="2.45" height="7.53" fill="#2b6f79" />
<rect x="170.10" y="245.23" width="2.45" height="7.53" fill="#2b6f79" />
<rect x="177.50" y="245.23" width="2.45" height="7.53" fill="#2b6f79" />
<rect x="177.50" y="252.76" width="2.45" height="7.53" fill="#2b6f79" />
<rect x="187.30" y="252.76" width="2.45" height="7.53" fill="#2b6f79" />
<rect x="180.00" y="260.29" width="2.45" height="7.53" fill="#2b6f79" />
<rect x="137.00" y="275.34" width="2.45" height="7.53" fill="#2b6f79" />
<rect x="146.80" y="275.34" width="2.45" height="7.53" fill="#2b6f79" />
<rect x="151.70" y="275.34" width="2.45" height="7.53" fill="#2b6f79" />
<rect x="156.60" y="275.34" width="2.45" height="7.53" fill="#2b6f79" />
<rect x="167.70" y="275.34" width="2.45" height="7.53" fill="#2b6f79" />
<rect x="177.50" y="275.34" width="2.45" height="7.53" fill="#2b6f79" />
<rect x="167.70" y="282.87" width="4.90" height="7.53" fill="#2b6f79" />
<rect x="189.70" y="282.87" width="2.45" height="7.53" fill="#2b6f79" />
<path d="M128.45,237.70V290.40M130.90,237.70V290.40M133.34,237.70V290.40M135.79,237.70V290.40M138.24,237.70V290.40M140.69,237.70V290.40M143.14,237.70V290.40M145.59,237.70V290.40M148.03,237.70V290.40M150.48,237.70V290.40M152.93,237.70V290.40M155.38,237.70V290.40M157.83,237.70V290.40M160.27,237.70V290.40M162.72,237.70V290.40M165.17,237.70V290.40M167.62,237.70V290.40M170.07,237.70V290.40M172.51,237.70V290.40M174.96,237.70V290.40M177.41,237.70V290.40M179.86,237.70V290.40M182.31,237.70V290.40M184.76,237.70V290.40M187.20,237.70V290.40M189.65,237.70V290.40M126.00,245.23H192.10M126.00,252.76H192.10M126.00,260.29H192.10M126.00,267.81H192.10M126.00,275.34H192.10M126.00,282.87H192.10" stroke="#333" stroke-width="0.36" fill="none"/>
<rect x="126.00" y="237.70" width="66.10" height="52.70" rx="0.7" ry="0.7" fill="none" stroke="#777" stroke-width="0.5"/>
<rect x="126.00" y="293.20" width="66.10" height="30.20" fill="#fff" />
<rect x="129.70" y="293.20" width="2.45" height="7.55" fill="#2b6f79" />
<rect x="134.60" y="293.20" width="2.45" height="7.55" fill="#2b6f79" />
<rect x="146.80" y="293.20" width="2.45" height="7.55" fill="#2b6f79" />
<rect x="177.50" y="293.20" width="2.45" height="7.55" fill="#2b6f79" />
<rect x="189.70" y="293.20" width="2.45" height="7.55" fill="#2b6f79" />
<rect x="129.70" y="300.75" width="2.45" height="7.55" fill="#2b6f79" />
<rect x="141.90" y="300.75" width="7.30" height="7.55" fill="#2b6f79" />
<rect x="156.60" y="300.75" width="4.90" height="7.55" fill="#2b6f79" />
<rect x="172.60" y="300.75" width="2.45" height="7.55" fill="#2b6f79" />
<rect x="129.70" y="308.30" width="3.60" height="7.55" fill="#2b6f79" />
<rect x="137.00" y="308.30" width="2.45" height="7.55" fill="#2b6f79" />
<rect x="151.70" y="308.30" width="2.45" height="7.55" fill="#2b6f79" />
<rect x="187.30" y="308.30" width="2.45" height="7.55" fill="#2b6f79" />
<path d="M128.45,293.20V323.40M130.90,293.20V323.40M133.34,293.20V323.40M135.79,293.20V323.40M138.24,293.20V323.40M140.69,293.20V323.40M143.14,293.20V323.40M145.59,293.20V323.40M148.03,293.20V323.40M150.48,293.20V323.40M152.93,293.20V323.40M155.38,293.20V323.40M157.83,293.20V323.40M160.27,293.20V323.40M162.72,293.20V323.40M165.17,293.20V323.40M167.62,293.20V323.40M170.07,293.20V323.40M172.51,293.20V323.40M174.96,293.20V323.40M177.41,293.20V323.40M179.86,293.20V323.40M182.31,293.20V323.40M184.76,293.20V323.40M187.20,293.20V323.40M189.65,293.20V323.40M126.00,300.75H192.10M126.00,308.30H192.10M126.00,315.85H192.10" stroke="#333" stroke-width="0.36" fill="none"/>
<rect x="126.00" y="293.20" width="66.10" height="30.20" rx="0.7" ry="0.7" fill="none" stroke="#777" stroke-width="0.5"/>
<rect x="126.00" y="326.40" width="66.10" height="52.50" fill="#fff" />
<rect x="167.70" y="326.40" width="4.90" height="7.50" fill="#2b6f79" />
<rect x="177.50" y="326.40" width="4.90" height="7.50" fill="#2b6f79" />
<rect x="154.20" y="341.40" width="2.45" height="7.50" fill="#2b6f79" />
<rect x="170.10" y="341.40" width="2.45" height="7.50" fill="#2b6f79" />
<rect x="146.80" y="356.40" width="2.45" height="7.50" fill="#2b6f79" />
<rect x="177.50" y="356.40" width="2.45" height="7.50" fill="#2b6f79" />
<path d="M128.45,326.40V378.90M130.90,326.40V378.90M133.34,326.40V378.90M135.79,326.40V378.90M138.24,326.40V378.90M140.69,326.40V378.90M143.14,326.40V378.90M145.59,326.40V378.90M148.03,326.40V378.90M150.48,326.40V378.90M152.93,326.40V378.90M155.38,326.40V378.90M157.83,326.40V378.90M160.27,326.40V378.90M162.72,326.40V378.90M165.17,326.40V378.90M167.62,326.40V378.90M170.07,326.40V378.90M172.51,326.40V378.90M174.96,326.40V378.90M177.41,326.40V378.90M179.86,326.40V378.90M182.31,326.40V378.90M184.76,326.40V378.90M187.20,326.40V378.90M189.65,326.40V378.90M126.00,333.90H192.10M126.00,341.40H192.10M126.00,348.90H192.10M126.00,356.40H192.10M126.00,363.90H192.10M126.00,371.40H192.10" stroke="#333" stroke-width="0.36" fill="none"/>
<rect x="126.00" y="326.40" width="66.10" height="52.50" rx="0.7" ry="0.7" fill="none" stroke="#777" stroke-width="0.5"/>
<rect x="260.20" y="120.60" width="2.52" height="7.30" fill="#1d9fd9" />
<rect x="262.67" y="120.60" width="2.52" height="7.30" fill="#1d9fd9" />
<rect x="265.14" y="120.60" width="2.52" height="7.30" fill="#f3a9cf" />
<rect x="267.62" y="120.60" width="2.52" height="7.30" fill="#cfeaf7" />
<rect x="270.09" y="120.60" width="2.52" height="7.30" fill="#cfeaf7" />
<rect x="272.56" y="120.60" width="2.52" height="7.30" fill="#1d9fd9" />
<rect x="275.03" y="120.60" width="2.52" height="7.30" fill="#1d9fd9" />
<rect x="277.50" y="120.60" width="2.52" height="7.30" fill="#d6208a" />
<rect x="279.98" y="120.60" width="2.52" height="7.30" fill="#ffffff" />
<rect x="282.45" y="120.60" width="2.52" height="7.30" fill="#1d9fd9" />
<rect x="284.92" y="120.60" width="2.52" height="7.30" fill="#1d9fd9" />
<rect x="287.39" y="120.60" width="2.52" height="7.30" fill="#f3a9cf" />
<rect x="289.86" y="120.60" width="2.52" height="7.30" fill="#f3a9cf" />
<rect x="292.33" y="120.60" width="2.52" height="7.30" fill="#1d9fd9" />
<rect x="294.81" y="120.60" width="2.52" height="7.30" fill="#ffffff" />
<rect x="297.28" y="120.60" width="2.52" height="7.30" fill="#e868a8" />
<rect x="299.75" y="120.60" width="2.52" height="7.30" fill="#fbd8ea" />
<rect x="302.22" y="120.60" width="2.52" height="7.30" fill="#1d9fd9" />
<rect x="304.69" y="120.60" width="2.52" height="7.30" fill="#1d9fd9" />
<rect x="307.17" y="120.60" width="2.52" height="7.30" fill="#1d9fd9" />
<rect x="309.64" y="120.60" width="2.52" height="7.30" fill="#cfeaf7" />
<rect x="312.11" y="120.60" width="2.52" height="7.30" fill="#e868a8" />
<rect x="314.58" y="120.60" width="2.52" height="7.30" fill="#8fd0ee" />
<rect x="317.05" y="120.60" width="2.52" height="7.30" fill="#d6208a" />
<rect x="319.52" y="120.60" width="2.52" height="7.30" fill="#ffffff" />
<rect x="322.00" y="120.60" width="2.52" height="7.30" fill="#1d9fd9" />
<rect x="324.47" y="120.60" width="2.52" height="7.30" fill="#1d9fd9" />
<rect x="326.94" y="120.60" width="2.52" height="7.30" fill="#f3a9cf" />
<rect x="329.41" y="120.60" width="2.52" height="7.30" fill="#fbd8ea" />
<rect x="331.88" y="120.60" width="2.52" height="7.30" fill="#1d9fd9" />
<rect x="334.36" y="120.60" width="2.52" height="7.30" fill="#1d9fd9" />
<rect x="336.83" y="120.60" width="2.52" height="7.30" fill="#e868a8" />
<rect x="260.20" y="131.00" width="79.10" height="37.70" fill="#fff" />
<rect x="278.00" y="131.00" width="4.70" height="7.54" fill="#f36c6c" />
<rect x="326.30" y="131.00" width="4.80" height="7.54" fill="#f36c6c" />
<rect x="333.70" y="131.00" width="5.60" height="7.54" fill="#f36c6c" />
<rect x="270.60" y="138.54" width="2.20" height="7.54" fill="#f36c6c" />
<rect x="300.80" y="138.54" width="2.30" height="7.54" fill="#f36c6c" />
<rect x="328.60" y="138.54" width="2.50" height="7.54" fill="#f36c6c" />
<rect x="336.30" y="138.54" width="3.00" height="7.54" fill="#f36c6c" />
<rect x="328.60" y="146.08" width="2.50" height="7.54" fill="#f36c6c" />
<rect x="328.60" y="153.62" width="2.50" height="7.54" fill="#f36c6c" />
<rect x="278.00" y="161.16" width="4.70" height="7.54" fill="#f36c6c" />
<rect x="326.30" y="161.16" width="4.80" height="7.54" fill="#f36c6c" />
<rect x="333.70" y="161.16" width="2.40" height="7.54" fill="#f36c6c" />
<path d="M262.67,131.00V168.70M265.14,131.00V168.70M267.62,131.00V168.70M270.09,131.00V168.70M272.56,131.00V168.70M275.03,131.00V168.70M277.50,131.00V168.70M279.98,131.00V168.70M282.45,131.00V168.70M284.92,131.00V168.70M287.39,131.00V168.70M289.86,131.00V168.70M292.33,131.00V168.70M294.81,131.00V168.70M297.28,131.00V168.70M299.75,131.00V168.70M302.22,131.00V168.70M304.69,131.00V168.70M307.17,131.00V168.70M309.64,131.00V168.70M312.11,131.00V168.70M314.58,131.00V168.70M317.05,131.00V168.70M319.52,131.00V168.70M322.00,131.00V168.70M324.47,131.00V168.70M326.94,131.00V168.70M329.41,131.00V168.70M331.88,131.00V168.70M334.36,131.00V168.70M336.83,131.00V168.70M260.20,138.54H339.30M260.20,146.08H339.30M260.20,153.62H339.30M260.20,161.16H339.30" stroke="#333" stroke-width="0.36" fill="none"/>
<rect x="260.20" y="131.00" width="79.10" height="37.70" rx="0.7" ry="0.7" fill="none" stroke="#777" stroke-width="0.5"/>
<rect x="260.20" y="171.40" width="79.10" height="22.80" fill="#fff" />
<rect x="280.10" y="171.40" width="2.60" height="7.60" fill="#b59c88" />
<rect x="336.30" y="171.40" width="3.00" height="7.60" fill="#b59c88" />
<rect x="280.10" y="179.00" width="2.60" height="7.60" fill="#b59c88" />
<rect x="280.10" y="186.60" width="2.60" height="7.60" fill="#b59c88" />
<path d="M262.67,171.40V194.20M265.14,171.40V194.20M267.62,171.40V194.20M270.09,171.40V194.20M272.56,171.40V194.20M275.03,171.40V194.20M277.50,171.40V194.20M279.98,171.40V194.20M282.45,171.40V194.20M284.92,171.40V194.20M287.39,171.40V194.20M289.86,171.40V194.20M292.33,171.40V194.20M294.81,171.40V194.20M297.28,171.40V194.20M299.75,171.40V194.20M302.22,171.40V194.20M304.69,171.40V194.20M307.17,171.40V194.20M309.64,171.40V194.20M312.11,171.40V194.20M314.58,171.40V194.20M317.05,171.40V194.20M319.52,171.40V194.20M322.00,171.40V194.20M324.47,171.40V194.20M326.94,171.40V194.20M329.41,171.40V194.20M331.88,171.40V194.20M334.36,171.40V194.20M336.83,171.40V194.20M260.20,179.00H339.30M260.20,186.60H339.30" stroke="#333" stroke-width="0.36" fill="none"/>
<rect x="260.20" y="171.40" width="79.10" height="22.80" rx="0.7" ry="0.7" fill="none" stroke="#777" stroke-width="0.5"/>
<rect x="260.20" y="197.10" width="79.10" height="37.50" fill="#fff" />
<rect x="275.40" y="197.10" width="2.40" height="7.50" fill="#2b6f79" />
<rect x="321.20" y="197.10" width="4.70" height="7.50" fill="#2b6f79" />
<rect x="336.20" y="197.10" width="3.10" height="7.50" fill="#2b6f79" />
<rect x="275.40" y="204.60" width="2.40" height="7.50" fill="#2b6f79" />
<rect x="308.60" y="204.60" width="7.00" height="7.50" fill="#2b6f79" />
<rect x="334.20" y="204.60" width="5.10" height="7.50" fill="#2b6f79" />
<rect x="260.20" y="212.10" width="2.60" height="7.50" fill="#2b6f79" />
<rect x="283.00" y="212.10" width="2.60" height="7.50" fill="#2b6f79" />
<rect x="321.20" y="212.10" width="4.70" height="7.50" fill="#2b6f79" />
<rect x="336.20" y="212.10" width="3.10" height="7.50" fill="#2b6f79" />
<rect x="278.00" y="219.60" width="2.60" height="7.50" fill="#2b6f79" />
<rect x="298.20" y="219.60" width="2.60" height="7.50" fill="#2b6f79" />
<rect x="303.40" y="219.60" width="2.30" height="7.50" fill="#2b6f79" />
<rect x="308.20" y="219.60" width="2.50" height="7.50" fill="#2b6f79" />
<rect x="323.20" y="219.60" width="2.70" height="7.50" fill="#2b6f79" />
<rect x="275.40" y="227.10" width="2.40" height="7.50" fill="#2b6f79" />
<rect x="316.10" y="227.10" width="9.80" height="7.50" fill="#2b6f79" />
<rect x="336.20" y="227.10" width="3.10" height="7.50" fill="#2b6f79" />
<path d="M262.67,197.10V234.60M265.14,197.10V234.60M267.62,197.10V234.60M270.09,197.10V234.60M272.56,197.10V234.60M275.03,197.10V234.60M277.50,197.10V234.60M279.98,197.10V234.60M282.45,197.10V234.60M284.92,197.10V234.60M287.39,197.10V234.60M289.86,197.10V234.60M292.33,197.10V234.60M294.81,197.10V234.60M297.28,197.10V234.60M299.75,197.10V234.60M302.22,197.10V234.60M304.69,197.10V234.60M307.17,197.10V234.60M309.64,197.10V234.60M312.11,197.10V234.60M314.58,197.10V234.60M317.05,197.10V234.60M319.52,197.10V234.60M322.00,197.10V234.60M324.47,197.10V234.60M326.94,197.10V234.60M329.41,197.10V234.60M331.88,197.10V234.60M334.36,197.10V234.60M336.83,197.10V234.60M260.20,204.60H339.30M260.20,212.10H339.30M260.20,219.60H339.30M260.20,227.10H339.30" stroke="#333" stroke-width="0.36" fill="none"/>
<rect x="260.20" y="197.10" width="79.10" height="37.50" rx="0.7" ry="0.7" fill="none" stroke="#777" stroke-width="0.5"/>
<rect x="260.20" y="237.70" width="79.10" height="52.70" fill="#fff" />
<rect x="260.20" y="237.70" width="10.00" height="7.53" fill="#2b6f79" />
<rect x="272.80" y="237.70" width="2.60" height="7.53" fill="#2b6f79" />
<rect x="280.60" y="237.70" width="2.40" height="7.53" fill="#2b6f79" />
<rect x="285.60" y="237.70" width="2.30" height="7.53" fill="#2b6f79" />
<rect x="295.80" y="237.70" width="2.40" height="7.53" fill="#2b6f79" />
<rect x="303.40" y="237.70" width="4.80" height="7.53" fill="#2b6f79" />
<rect x="310.90" y="237.70" width="2.30" height="7.53" fill="#2b6f79" />
<rect x="318.50" y="237.70" width="2.20" height="7.53" fill="#2b6f79" />
<rect x="260.20" y="245.23" width="2.60" height="7.53" fill="#2b6f79" />
<rect x="313.50" y="245.23" width="2.40" height="7.53" fill="#2b6f79" />
<rect x="270.60" y="252.76" width="4.80" height="7.53" fill="#2b6f79" />
<rect x="316.10" y="260.29" width="2.40" height="7.53" fill="#2b6f79" />
<rect x="326.20" y="260.29" width="2.30" height="7.53" fill="#2b6f79" />
<rect x="268.00" y="267.81" width="2.20" height="7.53" fill="#2b6f79" />
<rect x="316.10" y="267.81" width="2.40" height="7.53" fill="#2b6f79" />
<rect x="328.50" y="267.81" width="2.70" height="7.53" fill="#2b6f79" />
<rect x="262.80" y="275.34" width="2.20" height="7.53" fill="#2b6f79" />
<rect x="290.80" y="275.34" width="2.30" height="7.53" fill="#2b6f79" />
<rect x="306.00" y="275.34" width="4.70" height="7.53" fill="#2b6f79" />
<rect x="272.80" y="282.87" width="2.60" height="7.53" fill="#2b6f79" />
<rect x="280.60" y="282.87" width="2.40" height="7.53" fill="#2b6f79" />
<rect x="316.10" y="282.87" width="2.40" height="7.53" fill="#2b6f79" />
<path d="M262.67,237.70V290.40M265.14,237.70V290.40M267.62,237.70V290.40M270.09,237.70V290.40M272.56,237.70V290.40M275.03,237.70V290.40M277.50,237.70V290.40M279.98,237.70V290.40M282.45,237.70V290.40M284.92,237.70V290.40M287.39,237.70V290.40M289.86,237.70V290.40M292.33,237.70V290.40M294.81,237.70V290.40M297.28,237.70V290.40M299.75,237.70V290.40M302.22,237.70V290.40M304.69,237.70V290.40M307.17,237.70V290.40M309.64,237.70V290.40M312.11,237.70V290.40M314.58,237.70V290.40M317.05,237.70V290.40M319.52,237.70V290.40M322.00,237.70V290.40M324.47,237.70V290.40M326.94,237.70V290.40M329.41,237.70V290.40M331.88,237.70V290.40M334.36,237.70V290.40M336.83,237.70V290.40M260.20,245.23H339.30M260.20,252.76H339.30M260.20,260.29H339.30M260.20,267.81H339.30M260.20,275.34H339.30M260.20,282.87H339.30" stroke="#333" stroke-width="0.36" fill="none"/>
<rect x="260.20" y="237.70" width="79.10" height="52.70" rx="0.7" ry="0.7" fill="none" stroke="#777" stroke-width="0.5"/>
<rect x="260.20" y="293.20" width="79.10" height="30.20" fill="#fff" />
<rect x="303.40" y="293.20" width="4.90" height="7.55" fill="#2b6f79" />
<rect x="310.90" y="293.20" width="2.40" height="7.55" fill="#2b6f79" />
<rect x="318.50" y="293.20" width="2.20" height="7.55" fill="#2b6f79" />
<rect x="331.10" y="293.20" width="2.60" height="7.55" fill="#2b6f79" />
<rect x="260.20" y="300.75" width="2.60" height="7.55" fill="#2b6f79" />
<rect x="308.30" y="300.75" width="2.40" height="7.55" fill="#2b6f79" />
<rect x="316.10" y="300.75" width="2.40" height="7.55" fill="#2b6f79" />
<rect x="262.80" y="308.30" width="2.20" height="7.55" fill="#2b6f79" />
<rect x="288.20" y="315.85" width="2.60" height="7.55" fill="#2b6f79" />
<path d="M262.67,293.20V323.40M265.14,293.20V323.40M267.62,293.20V323.40M270.09,293.20V323.40M272.56,293.20V323.40M275.03,293.20V323.40M277.50,293.20V323.40M279.98,293.20V323.40M282.45,293.20V323.40M284.92,293.20V323.40M287.39,293.20V323.40M289.86,293.20V323.40M292.33,293.20V323.40M294.81,293.20V323.40M297.28,293.20V323.40M299.75,293.20V323.40M302.22,293.20V323.40M304.69,293.20V323.40M307.17,293.20V323.40M309.64,293.20V323.40M312.11,293.20V323.40M314.58,293.20V323.40M317.05,293.20V323.40M319.52,293.20V323.40M322.00,293.20V323.40M324.47,293.20V323.40M326.94,293.20V323.40M329.41,293.20V323.40M331.88,293.20V323.40M334.36,293.20V323.40M336.83,293.20V323.40M260.20,300.75H339.30M260.20,308.30H339.30M260.20,315.85H339.30" stroke="#333" stroke-width="0.36" fill="none"/>
<rect x="260.20" y="293.20" width="79.10" height="30.20" rx="0.7" ry="0.7" fill="none" stroke="#777" stroke-width="0.5"/>
<rect x="260.20" y="326.40" width="79.10" height="52.50" fill="#fff" />
<rect x="270.60" y="326.40" width="2.20" height="7.50" fill="#2b6f79" />
<rect x="275.40" y="326.40" width="2.40" height="7.50" fill="#2b6f79" />
<rect x="285.60" y="326.40" width="2.30" height="7.50" fill="#2b6f79" />
<rect x="318.50" y="326.40" width="5.20" height="7.50" fill="#2b6f79" />
<rect x="326.30" y="326.40" width="2.20" height="7.50" fill="#2b6f79" />
<rect x="268.00" y="333.90" width="2.60" height="7.50" fill="#2b6f79" />
<rect x="328.50" y="333.90" width="2.60" height="7.50" fill="#2b6f79" />
<rect x="265.40" y="341.40" width="2.60" height="7.50" fill="#2b6f79" />
<rect x="285.60" y="341.40" width="2.30" height="7.50" fill="#2b6f79" />
<rect x="318.50" y="341.40" width="2.20" height="7.50" fill="#2b6f79" />
<rect x="328.50" y="341.40" width="2.60" height="7.50" fill="#2b6f79" />
<rect x="280.60" y="348.90" width="2.40" height="7.50" fill="#2b6f79" />
<rect x="321.30" y="348.90" width="4.60" height="7.50" fill="#2b6f79" />
<rect x="290.80" y="363.90" width="2.30" height="7.50" fill="#2b6f79" />
<rect x="260.20" y="371.40" width="2.60" height="7.50" fill="#2b6f79" />
<rect x="280.60" y="371.40" width="2.40" height="7.50" fill="#2b6f79" />
<path d="M262.67,326.40V378.90M265.14,326.40V378.90M267.62,326.40V378.90M270.09,326.40V378.90M272.56,326.40V378.90M275.03,326.40V378.90M277.50,326.40V378.90M279.98,326.40V378.90M282.45,326.40V378.90M284.92,326.40V378.90M287.39,326.40V378.90M289.86,326.40V378.90M292.33,326.40V378.90M294.81,326.40V378.90M297.28,326.40V378.90M299.75,326.40V378.90M302.22,326.40V378.90M304.69,326.40V378.90M307.17,326.40V378.90M309.64,326.40V378.90M312.11,326.40V378.90M314.58,326.40V378.90M317.05,326.40V378.90M319.52,326.40V378.90M322.00,326.40V378.90M324.47,326.40V378.90M326.94,326.40V378.90M329.41,326.40V378.90M331.88,326.40V378.90M334.36,326.40V378.90M336.83,326.40V378.90M260.20,333.90H339.30M260.20,341.40H339.30M260.20,348.90H339.30M260.20,356.40H339.30M260.20,363.90H339.30M260.20,371.40H339.30" stroke="#333" stroke-width="0.36" fill="none"/>
<rect x="260.20" y="326.40" width="79.10" height="52.50" rx="0.7" ry="0.7" fill="none" stroke="#777" stroke-width="0.5"/>
<rect x="374.20" y="120.60" width="2.48" height="7.30" fill="#fbd8ea" />
<rect x="376.63" y="120.60" width="2.48" height="7.30" fill="#1d9fd9" />
<rect x="379.06" y="120.60" width="2.48" height="7.30" fill="#fbd8ea" />
<rect x="381.49" y="120.60" width="2.48" height="7.30" fill="#cfeaf7" />
<rect x="383.92" y="120.60" width="2.48" height="7.30" fill="#f3a9cf" />
<rect x="386.35" y="120.60" width="2.48" height="7.30" fill="#fbd8ea" />
<rect x="388.77" y="120.60" width="2.48" height="7.30" fill="#f3a9cf" />
<rect x="391.20" y="120.60" width="2.48" height="7.30" fill="#cfeaf7" />
<rect x="393.63" y="120.60" width="2.48" height="7.30" fill="#e868a8" />
<rect x="396.06" y="120.60" width="2.48" height="7.30" fill="#d6208a" />
<rect x="398.49" y="120.60" width="2.48" height="7.30" fill="#8fd0ee" />
<rect x="400.92" y="120.60" width="2.48" height="7.30" fill="#e868a8" />
<rect x="403.35" y="120.60" width="2.48" height="7.30" fill="#d6208a" />
<rect x="405.78" y="120.60" width="2.48" height="7.30" fill="#d6208a" />
<rect x="408.21" y="120.60" width="2.48" height="7.30" fill="#d6208a" />
<rect x="410.64" y="120.60" width="2.48" height="7.30" fill="#fbd8ea" />
<rect x="413.07" y="120.60" width="2.48" height="7.30" fill="#1d9fd9" />
<rect x="415.50" y="120.60" width="2.48" height="7.30" fill="#e868a8" />
<rect x="417.93" y="120.60" width="2.48" height="7.30" fill="#cfeaf7" />
<rect x="420.35" y="120.60" width="2.48" height="7.30" fill="#d6208a" />
<rect x="422.78" y="120.60" width="2.48" height="7.30" fill="#d6208a" />
<rect x="425.21" y="120.60" width="2.48" height="7.30" fill="#fbd8ea" />
<rect x="427.64" y="120.60" width="2.48" height="7.30" fill="#d6208a" />
<rect x="430.07" y="120.60" width="2.48" height="7.30" fill="#d6208a" />
<rect x="374.20" y="131.00" width="58.30" height="37.70" fill="#fff" />
<rect x="404.40" y="131.00" width="7.50" height="7.54" fill="#f36c6c" />
<rect x="427.30" y="131.00" width="5.20" height="7.54" fill="#f36c6c" />
<rect x="404.40" y="138.54" width="2.70" height="7.54" fill="#f36c6c" />
<rect x="409.20" y="138.54" width="2.70" height="7.54" fill="#f36c6c" />
<rect x="417.10" y="138.54" width="2.40" height="7.54" fill="#f36c6c" />
<rect x="422.20" y="138.54" width="5.10" height="7.54" fill="#f36c6c" />
<rect x="401.00" y="146.08" width="3.40" height="7.54" fill="#f36c6c" />
<rect x="422.20" y="146.08" width="5.10" height="7.54" fill="#f36c6c" />
<rect x="429.80" y="146.08" width="2.70" height="7.54" fill="#f36c6c" />
<rect x="401.00" y="153.62" width="3.40" height="7.54" fill="#f36c6c" />
<rect x="422.20" y="153.62" width="5.10" height="7.54" fill="#f36c6c" />
<rect x="429.80" y="153.62" width="2.70" height="7.54" fill="#f36c6c" />
<rect x="407.10" y="161.16" width="4.80" height="7.54" fill="#f36c6c" />
<rect x="427.30" y="161.16" width="5.20" height="7.54" fill="#f36c6c" />
<path d="M376.63,131.00V168.70M379.06,131.00V168.70M381.49,131.00V168.70M383.92,131.00V168.70M386.35,131.00V168.70M388.77,131.00V168.70M391.20,131.00V168.70M393.63,131.00V168.70M396.06,131.00V168.70M398.49,131.00V168.70M400.92,131.00V168.70M403.35,131.00V168.70M405.78,131.00V168.70M408.21,131.00V168.70M410.64,131.00V168.70M413.07,131.00V168.70M415.50,131.00V168.70M417.93,131.00V168.70M420.35,131.00V168.70M422.78,131.00V168.70M425.21,131.00V168.70M427.64,131.00V168.70M430.07,131.00V168.70M374.20,138.54H432.50M374.20,146.08H432.50M374.20,153.62H432.50M374.20,161.16H432.50" stroke="#333" stroke-width="0.36" fill="none"/>
<rect x="374.20" y="131.00" width="58.30" height="37.70" rx="0.7" ry="0.7" fill="none" stroke="#777" stroke-width="0.5"/>
<rect x="374.20" y="171.40" width="58.30" height="22.80" fill="#fff" />
<rect x="394.10" y="171.40" width="10.30" height="7.60" fill="#b59c88" />
<rect x="407.10" y="171.40" width="4.80" height="7.60" fill="#b59c88" />
<rect x="414.70" y="171.40" width="7.50" height="7.60" fill="#b59c88" />
<rect x="424.50" y="171.40" width="8.00" height="7.60" fill="#b59c88" />
<rect x="394.10" y="179.00" width="5.50" height="7.60" fill="#b59c88" />
<rect x="402.00" y="179.00" width="2.40" height="7.60" fill="#b59c88" />
<rect x="407.10" y="179.00" width="4.80" height="7.60" fill="#b59c88" />
<rect x="414.70" y="179.00" width="2.40" height="7.60" fill="#b59c88" />
<rect x="419.50" y="179.00" width="2.70" height="7.60" fill="#b59c88" />
<rect x="424.50" y="179.00" width="8.00" height="7.60" fill="#b59c88" />
<rect x="394.10" y="186.60" width="2.70" height="7.60" fill="#b59c88" />
<rect x="407.10" y="186.60" width="2.50" height="7.60" fill="#b59c88" />
<rect x="414.70" y="186.60" width="2.40" height="7.60" fill="#b59c88" />
<rect x="419.50" y="186.60" width="2.70" height="7.60" fill="#b59c88" />
<rect x="424.50" y="186.60" width="2.80" height="7.60" fill="#b59c88" />
<rect x="429.80" y="186.60" width="2.70" height="7.60" fill="#b59c88" />
<path d="M376.63,171.40V194.20M379.06,171.40V194.20M381.49,171.40V194.20M383.92,171.40V194.20M386.35,171.40V194.20M388.77,171.40V194.20M391.20,171.40V194.20M393.63,171.40V194.20M396.06,171.40V194.20M398.49,171.40V194.20M400.92,171.40V194.20M403.35,171.40V194.20M405.78,171.40V194.20M408.21,171.40V194.20M410.64,171.40V194.20M413.07,171.40V194.20M415.50,171.40V194.20M417.93,171.40V194.20M420.35,171.40V194.20M422.78,171.40V194.20M425.21,171.40V194.20M427.64,171.40V194.20M430.07,171.40V194.20M374.20,179.00H432.50M374.20,186.60H432.50" stroke="#333" stroke-width="0.36" fill="none"/>
<rect x="374.20" y="171.40" width="58.30" height="22.80" rx="0.7" ry="0.7" fill="none" stroke="#777" stroke-width="0.5"/>
<rect x="374.20" y="197.10" width="58.30" height="37.50" fill="#fff" />
<rect x="392.10" y="197.10" width="2.50" height="7.50" fill="#2b6f79" />
<rect x="399.60" y="197.10" width="5.00" height="7.50" fill="#2b6f79" />
<rect x="419.90" y="197.10" width="2.50" height="7.50" fill="#2b6f79" />
<rect x="427.40" y="197.10" width="5.10" height="7.50" fill="#2b6f79" />
<rect x="379.10" y="204.60" width="2.50" height="7.50" fill="#2b6f79" />
<rect x="397.10" y="204.60" width="2.50" height="7.50" fill="#2b6f79" />
<rect x="409.60" y="204.60" width="2.50" height="7.50" fill="#2b6f79" />
<rect x="429.90" y="204.60" width="2.60" height="7.50" fill="#2b6f79" />
<rect x="379.10" y="212.10" width="2.50" height="7.50" fill="#2b6f79" />
<rect x="399.60" y="212.10" width="5.00" height="7.50" fill="#2b6f79" />
<rect x="407.10" y="212.10" width="2.50" height="7.50" fill="#2b6f79" />
<rect x="412.10" y="212.10" width="2.50" height="7.50" fill="#2b6f79" />
<rect x="419.90" y="212.10" width="2.50" height="7.50" fill="#2b6f79" />
<rect x="427.40" y="212.10" width="5.10" height="7.50" fill="#2b6f79" />
<rect x="402.10" y="219.60" width="2.50" height="7.50" fill="#2b6f79" />
<rect x="424.90" y="219.60" width="7.60" height="7.50" fill="#2b6f79" />
<rect x="376.60" y="227.10" width="2.50" height="7.50" fill="#2b6f79" />
<rect x="392.10" y="227.10" width="2.50" height="7.50" fill="#2b6f79" />
<rect x="399.60" y="227.10" width="5.00" height="7.50" fill="#2b6f79" />
<rect x="407.10" y="227.10" width="2.50" height="7.50" fill="#2b6f79" />
<rect x="417.40" y="227.10" width="2.50" height="7.50" fill="#2b6f79" />
<rect x="422.40" y="227.10" width="10.10" height="7.50" fill="#2b6f79" />
<path d="M376.63,197.10V234.60M379.06,197.10V234.60M381.49,197.10V234.60M383.92,197.10V234.60M386.35,197.10V234.60M388.77,197.10V234.60M391.20,197.10V234.60M393.63,197.10V234.60M396.06,197.10V234.60M398.49,197.10V234.60M400.92,197.10V234.60M403.35,197.10V234.60M405.78,197.10V234.60M408.21,197.10V234.60M410.64,197.10V234.60M413.07,197.10V234.60M415.50,197.10V234.60M417.93,197.10V234.60M420.35,197.10V234.60M422.78,197.10V234.60M425.21,197.10V234.60M427.64,197.10V234.60M430.07,197.10V234.60M374.20,204.60H432.50M374.20,212.10H432.50M374.20,219.60H432.50M374.20,227.10H432.50" stroke="#333" stroke-width="0.36" fill="none"/>
<rect x="374.20" y="197.10" width="58.30" height="37.50" rx="0.7" ry="0.7" fill="none" stroke="#777" stroke-width="0.5"/>
<rect x="374.20" y="237.70" width="58.30" height="52.70" fill="#fff" />
<rect x="376.60" y="237.70" width="2.50" height="7.53" fill="#2b6f79" />
<rect x="384.10" y="237.70" width="2.50" height="7.53" fill="#2b6f79" />
<rect x="392.10" y="237.70" width="2.50" height="7.53" fill="#2b6f79" />
<rect x="397.10" y="237.70" width="5.00" height="7.53" fill="#2b6f79" />
<rect x="407.10" y="237.70" width="2.50" height="7.53" fill="#2b6f79" />
<rect x="414.90" y="237.70" width="2.50" height="7.53" fill="#2b6f79" />
<rect x="419.90" y="237.70" width="5.00" height="7.53" fill="#2b6f79" />
<rect x="427.40" y="237.70" width="2.50" height="7.53" fill="#2b6f79" />
<rect x="374.20" y="275.34" width="7.40" height="7.53" fill="#2b6f79" />
<rect x="430.20" y="275.34" width="2.30" height="7.53" fill="#2b6f79" />
<rect x="394.60" y="282.87" width="2.50" height="7.53" fill="#2b6f79" />
<rect x="404.60" y="282.87" width="2.50" height="7.53" fill="#2b6f79" />
<path d="M376.63,237.70V290.40M379.06,237.70V290.40M381.49,237.70V290.40M383.92,237.70V290.40M386.35,237.70V290.40M388.77,237.70V290.40M391.20,237.70V290.40M393.63,237.70V290.40M396.06,237.70V290.40M398.49,237.70V290.40M400.92,237.70V290.40M403.35,237.70V290.40M405.78,237.70V290.40M408.21,237.70V290.40M410.64,237.70V290.40M413.07,237.70V290.40M415.50,237.70V290.40M417.93,237.70V290.40M420.35,237.70V290.40M422.78,237.70V290.40M425.21,237.70V290.40M427.64,237.70V290.40M430.07,237.70V290.40M374.20,245.23H432.50M374.20,252.76H432.50M374.20,260.29H432.50M374.20,267.81H432.50M374.20,275.34H432.50M374.20,282.87H432.50" stroke="#333" stroke-width="0.36" fill="none"/>
<rect x="374.20" y="237.70" width="58.30" height="52.70" rx="0.7" ry="0.7" fill="none" stroke="#777" stroke-width="0.5"/>
<rect x="374.20" y="293.20" width="58.30" height="30.20" fill="#fff" />
<rect x="374.20" y="293.20" width="2.50" height="7.55" fill="#2b6f79" />
<rect x="381.70" y="293.20" width="2.40" height="7.55" fill="#2b6f79" />
<rect x="386.70" y="293.20" width="2.60" height="7.55" fill="#2b6f79" />
<rect x="412.00" y="293.20" width="5.00" height="7.55" fill="#2b6f79" />
<rect x="419.60" y="293.20" width="2.50" height="7.55" fill="#2b6f79" />
<rect x="430.00" y="293.20" width="2.50" height="7.55" fill="#2b6f79" />
<rect x="374.20" y="300.75" width="2.50" height="7.55" fill="#2b6f79" />
<rect x="391.80" y="300.75" width="2.50" height="7.55" fill="#2b6f79" />
<rect x="396.80" y="300.75" width="5.10" height="7.55" fill="#2b6f79" />
<rect x="409.50" y="300.75" width="2.50" height="7.55" fill="#2b6f79" />
<rect x="376.70" y="308.30" width="2.40" height="7.55" fill="#2b6f79" />
<rect x="384.10" y="308.30" width="2.60" height="7.55" fill="#2b6f79" />
<rect x="414.60" y="308.30" width="2.40" height="7.55" fill="#2b6f79" />
<rect x="401.90" y="315.85" width="2.50" height="7.55" fill="#2b6f79" />
<path d="M376.63,293.20V323.40M379.06,293.20V323.40M381.49,293.20V323.40M383.92,293.20V323.40M386.35,293.20V323.40M388.77,293.20V323.40M391.20,293.20V323.40M393.63,293.20V323.40M396.06,293.20V323.40M398.49,293.20V323.40M400.92,293.20V323.40M403.35,293.20V323.40M405.78,293.20V323.40M408.21,293.20V323.40M410.64,293.20V323.40M413.07,293.20V323.40M415.50,293.20V323.40M417.93,293.20V323.40M420.35,293.20V323.40M422.78,293.20V323.40M425.21,293.20V323.40M427.64,293.20V323.40M430.07,293.20V323.40M374.20,300.75H432.50M374.20,308.30H432.50M374.20,315.85H432.50" stroke="#333" stroke-width="0.36" fill="none"/>
<rect x="374.20" y="293.20" width="58.30" height="30.20" rx="0.7" ry="0.7" fill="none" stroke="#777" stroke-width="0.5"/>
<rect x="374.20" y="326.40" width="58.30" height="52.50" fill="#fff" />
<rect x="379.10" y="326.40" width="2.60" height="7.50" fill="#2b6f79" />
<rect x="386.70" y="326.40" width="5.10" height="7.50" fill="#2b6f79" />
<rect x="401.90" y="333.90" width="2.50" height="7.50" fill="#2b6f79" />
<rect x="409.50" y="333.90" width="2.50" height="7.50" fill="#2b6f79" />
<rect x="419.60" y="333.90" width="2.50" height="7.50" fill="#2b6f79" />
<rect x="427.20" y="333.90" width="2.80" height="7.50" fill="#2b6f79" />
<rect x="414.60" y="348.90" width="2.40" height="7.50" fill="#2b6f79" />
<path d="M376.63,326.40V378.90M379.06,326.40V378.90M381.49,326.40V378.90M383.92,326.40V378.90M386.35,326.40V378.90M388.77,326.40V378.90M391.20,326.40V378.90M393.63,326.40V378.90M396.06,326.40V378.90M398.49,326.40V378.90M400.92,326.40V378.90M403.35,326.40V378.90M405.78,326.40V378.90M408.21,326.40V378.90M410.64,326.40V378.90M413.07,326.40V378.90M415.50,326.40V378.90M417.93,326.40V378.90M420.35,326.40V378.90M422.78,326.40V378.90M425.21,326.40V378.90M427.64,326.40V378.90M430.07,326.40V378.90M374.20,333.90H432.50M374.20,341.40H432.50M374.20,348.90H432.50M374.20,356.40H432.50M374.20,363.90H432.50M374.20,371.40H432.50" stroke="#333" stroke-width="0.36" fill="none"/>
<rect x="374.20" y="326.40" width="58.30" height="52.50" rx="0.7" ry="0.7" fill="none" stroke="#777" stroke-width="0.5"/>
<rect x="472.90" y="120.60" width="2.58" height="7.30" fill="#d6208a" />
<rect x="475.43" y="120.60" width="2.58" height="7.30" fill="#fbd8ea" />
<rect x="477.97" y="120.60" width="2.58" height="7.30" fill="#1d9fd9" />
<rect x="480.50" y="120.60" width="2.58" height="7.30" fill="#d6208a" />
<rect x="483.03" y="120.60" width="2.58" height="7.30" fill="#e868a8" />
<rect x="485.57" y="120.60" width="2.58" height="7.30" fill="#1d9fd9" />
<rect x="488.10" y="120.60" width="2.58" height="7.30" fill="#d6208a" />
<rect x="490.63" y="120.60" width="2.58" height="7.30" fill="#e868a8" />
<rect x="493.17" y="120.60" width="2.58" height="7.30" fill="#1d9fd9" />
<rect x="495.70" y="120.60" width="2.58" height="7.30" fill="#d6208a" />
<rect x="498.23" y="120.60" width="2.58" height="7.30" fill="#ffffff" />
<rect x="500.77" y="120.60" width="2.58" height="7.30" fill="#fbd8ea" />
<rect x="503.30" y="120.60" width="2.58" height="7.30" fill="#fbd8ea" />
<rect x="505.83" y="120.60" width="2.58" height="7.30" fill="#d6208a" />
<rect x="508.37" y="120.60" width="2.58" height="7.30" fill="#e868a8" />
<rect x="472.90" y="131.00" width="38.00" height="37.70" fill="#fff" />
<rect x="480.50" y="131.00" width="5.07" height="7.54" fill="#f36c6c" />
<rect x="493.17" y="131.00" width="5.07" height="7.54" fill="#f36c6c" />
<rect x="500.77" y="131.00" width="10.13" height="7.54" fill="#f36c6c" />
<rect x="483.03" y="138.54" width="2.53" height="7.54" fill="#f36c6c" />
<rect x="495.70" y="138.54" width="2.53" height="7.54" fill="#f36c6c" />
<rect x="508.37" y="138.54" width="2.53" height="7.54" fill="#f36c6c" />
<rect x="483.03" y="146.08" width="2.53" height="7.54" fill="#f36c6c" />
<rect x="495.70" y="146.08" width="2.53" height="7.54" fill="#f36c6c" />
<rect x="508.37" y="146.08" width="2.53" height="7.54" fill="#f36c6c" />
<rect x="483.03" y="153.62" width="2.53" height="7.54" fill="#f36c6c" />
<rect x="495.70" y="153.62" width="2.53" height="7.54" fill="#f36c6c" />
<rect x="508.37" y="153.62" width="2.53" height="7.54" fill="#f36c6c" />
<rect x="472.90" y="161.16" width="2.53" height="7.54" fill="#f36c6c" />
<rect x="493.17" y="161.16" width="5.07" height="7.54" fill="#f36c6c" />
<rect x="500.77" y="161.16" width="10.13" height="7.54" fill="#f36c6c" />
<path d="M475.43,131.00V168.70M477.97,131.00V168.70M480.50,131.00V168.70M483.03,131.00V168.70M485.57,131.00V168.70M488.10,131.00V168.70M490.63,131.00V168.70M493.17,131.00V168.70M495.70,131.00V168.70M498.23,131.00V168.70M500.77,131.00V168.70M503.30,131.00V168.70M505.83,131.00V168.70M508.37,131.00V168.70M472.90,138.54H510.90M472.90,146.08H510.90M472.90,153.62H510.90M472.90,161.16H510.90" stroke="#333" stroke-width="0.36" fill="none"/>
<rect x="472.90" y="131.00" width="38.00" height="37.70" rx="0.7" ry="0.7" fill="none" stroke="#777" stroke-width="0.5"/>
<rect x="472.90" y="171.40" width="38.00" height="22.80" fill="#fff" />
<rect x="475.43" y="171.40" width="10.13" height="7.60" fill="#b59c88" />
<rect x="490.63" y="171.40" width="2.53" height="7.60" fill="#b59c88" />
<rect x="495.70" y="171.40" width="5.07" height="7.60" fill="#b59c88" />
<rect x="503.30" y="171.40" width="7.60" height="7.60" fill="#b59c88" />
<rect x="483.03" y="179.00" width="2.53" height="7.60" fill="#b59c88" />
<rect x="495.70" y="179.00" width="5.07" height="7.60" fill="#b59c88" />
<rect x="503.30" y="179.00" width="7.60" height="7.60" fill="#b59c88" />
<rect x="475.43" y="186.60" width="5.07" height="7.60" fill="#b59c88" />
<rect x="483.03" y="186.60" width="2.53" height="7.60" fill="#b59c88" />
<rect x="495.70" y="186.60" width="5.07" height="7.60" fill="#b59c88" />
<rect x="503.30" y="186.60" width="7.60" height="7.60" fill="#b59c88" />
<path d="M475.43,171.40V194.20M477.97,171.40V194.20M480.50,171.40V194.20M483.03,171.40V194.20M485.57,171.40V194.20M488.10,171.40V194.20M490.63,171.40V194.20M493.17,171.40V194.20M495.70,171.40V194.20M498.23,171.40V194.20M500.77,171.40V194.20M503.30,171.40V194.20M505.83,171.40V194.20M508.37,171.40V194.20M472.90,179.00H510.90M472.90,186.60H510.90" stroke="#333" stroke-width="0.36" fill="none"/>
<rect x="472.90" y="171.40" width="38.00" height="22.80" rx="0.7" ry="0.7" fill="none" stroke="#777" stroke-width="0.5"/>
<rect x="472.90" y="197.10" width="38.00" height="37.50" fill="#fff" />
<rect x="480.50" y="197.10" width="5.07" height="7.50" fill="#2b6f79" />
<rect x="490.63" y="197.10" width="5.07" height="7.50" fill="#2b6f79" />
<rect x="498.23" y="197.10" width="2.53" height="7.50" fill="#2b6f79" />
<rect x="503.30" y="197.10" width="5.07" height="7.50" fill="#2b6f79" />
<rect x="495.70" y="204.60" width="7.60" height="7.50" fill="#2b6f79" />
<rect x="475.43" y="212.10" width="2.53" height="7.50" fill="#2b6f79" />
<rect x="480.50" y="212.10" width="2.53" height="7.50" fill="#2b6f79" />
<rect x="490.63" y="212.10" width="5.07" height="7.50" fill="#2b6f79" />
<rect x="503.30" y="212.10" width="2.53" height="7.50" fill="#2b6f79" />
<rect x="485.57" y="219.60" width="2.53" height="7.50" fill="#2b6f79" />
<rect x="475.43" y="227.10" width="10.13" height="7.50" fill="#2b6f79" />
<rect x="488.10" y="227.10" width="7.60" height="7.50" fill="#2b6f79" />
<rect x="498.23" y="227.10" width="2.53" height="7.50" fill="#2b6f79" />
<rect x="503.30" y="227.10" width="7.60" height="7.50" fill="#2b6f79" />
<path d="M475.43,197.10V234.60M477.97,197.10V234.60M480.50,197.10V234.60M483.03,197.10V234.60M485.57,197.10V234.60M488.10,197.10V234.60M490.63,197.10V234.60M493.17,197.10V234.60M495.70,197.10V234.60M498.23,197.10V234.60M500.77,197.10V234.60M503.30,197.10V234.60M505.83,197.10V234.60M508.37,197.10V234.60M472.90,204.60H510.90M472.90,212.10H510.90M472.90,219.60H510.90M472.90,227.10H510.90" stroke="#333" stroke-width="0.36" fill="none"/>
<rect x="472.90" y="197.10" width="38.00" height="37.50" rx="0.7" ry="0.7" fill="none" stroke="#777" stroke-width="0.5"/>
<rect x="472.90" y="237.70" width="38.00" height="52.70" fill="#fff" />
<rect x="472.90" y="237.70" width="5.07" height="7.53" fill="#2b6f79" />
<rect x="488.10" y="237.70" width="2.53" height="7.53" fill="#2b6f79" />
<rect x="493.17" y="237.70" width="2.53" height="7.53" fill="#2b6f79" />
<rect x="508.37" y="237.70" width="2.53" height="7.53" fill="#2b6f79" />
<rect x="477.97" y="245.23" width="2.53" height="7.53" fill="#2b6f79" />
<rect x="500.77" y="245.23" width="2.53" height="7.53" fill="#2b6f79" />
<rect x="505.83" y="245.23" width="2.53" height="7.53" fill="#2b6f79" />
<rect x="480.50" y="252.76" width="2.53" height="7.53" fill="#2b6f79" />
<rect x="472.90" y="260.29" width="2.53" height="7.53" fill="#2b6f79" />
<rect x="483.03" y="260.29" width="2.53" height="7.53" fill="#2b6f79" />
<rect x="493.17" y="275.34" width="2.53" height="7.53" fill="#2b6f79" />
<rect x="490.63" y="282.87" width="2.53" height="7.53" fill="#2b6f79" />
<path d="M475.43,237.70V290.40M477.97,237.70V290.40M480.50,237.70V290.40M483.03,237.70V290.40M485.57,237.70V290.40M488.10,237.70V290.40M490.63,237.70V290.40M493.17,237.70V290.40M495.70,237.70V290.40M498.23,237.70V290.40M500.77,237.70V290.40M503.30,237.70V290.40M505.83,237.70V290.40M508.37,237.70V290.40M472.90,245.23H510.90M472.90,252.76H510.90M472.90,260.29H510.90M472.90,267.81H510.90M472.90,275.34H510.90M472.90,282.87H510.90" stroke="#333" stroke-width="0.36" fill="none"/>
<rect x="472.90" y="237.70" width="38.00" height="52.70" rx="0.7" ry="0.7" fill="none" stroke="#777" stroke-width="0.5"/>
<rect x="472.90" y="293.20" width="38.00" height="30.20" fill="#fff" />
<rect x="483.03" y="293.20" width="2.53" height="7.55" fill="#2b6f79" />
<rect x="493.17" y="293.20" width="2.53" height="7.55" fill="#2b6f79" />
<rect x="493.17" y="300.75" width="2.53" height="7.55" fill="#2b6f79" />
<rect x="508.37" y="300.75" width="2.53" height="7.55" fill="#2b6f79" />
<rect x="480.50" y="308.30" width="2.53" height="7.55" fill="#2b6f79" />
<rect x="488.10" y="308.30" width="2.53" height="7.55" fill="#2b6f79" />
<rect x="498.23" y="308.30" width="2.53" height="7.55" fill="#2b6f79" />
<rect x="508.37" y="308.30" width="2.53" height="7.55" fill="#2b6f79" />
<rect x="485.57" y="315.85" width="2.53" height="7.55" fill="#2b6f79" />
<path d="M475.43,293.20V323.40M477.97,293.20V323.40M480.50,293.20V323.40M483.03,293.20V323.40M485.57,293.20V323.40M488.10,293.20V323.40M490.63,293.20V323.40M493.17,293.20V323.40M495.70,293.20V323.40M498.23,293.20V323.40M500.77,293.20V323.40M503.30,293.20V323.40M505.83,293.20V323.40M508.37,293.20V323.40M472.90,300.75H510.90M472.90,308.30H510.90M472.90,315.85H510.90" stroke="#333" stroke-width="0.36" fill="none"/>
<rect x="472.90" y="293.20" width="38.00" height="30.20" rx="0.7" ry="0.7" fill="none" stroke="#777" stroke-width="0.5"/>
<rect x="472.90" y="326.40" width="38.00" height="52.50" fill="#fff" />
<rect x="488.10" y="326.40" width="2.53" height="7.50" fill="#2b6f79" />
<rect x="500.77" y="326.40" width="2.53" height="7.50" fill="#2b6f79" />
<path d="M475.43,326.40V378.90M477.97,326.40V378.90M480.50,326.40V378.90M483.03,326.40V378.90M485.57,326.40V378.90M488.10,326.40V378.90M490.63,326.40V378.90M493.17,326.40V378.90M495.70,326.40V378.90M498.23,326.40V378.90M500.77,326.40V378.90M503.30,326.40V378.90M505.83,326.40V378.90M508.37,326.40V378.90M472.90,333.90H510.90M472.90,341.40H510.90M472.90,348.90H510.90M472.90,356.40H510.90M472.90,363.90H510.90M472.90,371.40H510.90" stroke="#333" stroke-width="0.36" fill="none"/>
<rect x="472.90" y="326.40" width="38.00" height="52.50" rx="0.7" ry="0.7" fill="none" stroke="#777" stroke-width="0.5"/>
<rect x="81.00" y="382.20" width="7.05" height="8.80" fill="#fbb72e" />
<rect x="88.00" y="382.20" width="2.85" height="8.80" fill="#d2d2d2" />
<rect x="90.80" y="382.20" width="2.25" height="8.80" fill="#36b9d8" />
<rect x="93.00" y="382.20" width="2.75" height="8.80" fill="#fbb72e" />
<rect x="95.70" y="382.20" width="2.55" height="8.80" fill="#36b9d8" />
<rect x="98.20" y="382.20" width="10.35" height="8.80" fill="#fbb72e" />
<rect x="108.50" y="382.20" width="2.35" height="8.80" fill="#d2d2d2" />
<rect x="110.80" y="382.20" width="10.05" height="8.80" fill="#fbb72e" />
<rect x="120.80" y="382.20" width="2.65" height="8.80" fill="#36b9d8" />
<rect x="123.40" y="382.20" width="12.85" height="8.80" fill="#fbb72e" />
<rect x="136.20" y="382.20" width="10.35" height="8.80" fill="#d2d2d2" />
<rect x="146.50" y="382.20" width="2.35" height="8.80" fill="#fbb72e" />
<rect x="148.80" y="382.20" width="7.75" height="8.80" fill="#d2d2d2" />
<rect x="156.50" y="382.20" width="2.35" height="8.80" fill="#fbb72e" />
<rect x="158.80" y="382.20" width="2.75" height="8.80" fill="#36b9d8" />
<rect x="161.50" y="382.20" width="5.05" height="8.80" fill="#fbb72e" />
<rect x="166.50" y="382.20" width="5.15" height="8.80" fill="#d2d2d2" />
<rect x="171.60" y="382.20" width="2.45" height="8.80" fill="#fbb72e" />
<rect x="174.00" y="382.20" width="2.85" height="8.80" fill="#d2d2d2" />
<rect x="176.80" y="382.20" width="5.25" height="8.80" fill="#fbb72e" />
<rect x="182.00" y="382.20" width="5.05" height="8.80" fill="#d2d2d2" />
<rect x="187.00" y="382.20" width="2.35" height="8.80" fill="#fbb72e" />
<rect x="189.30" y="382.20" width="7.55" height="8.80" fill="#36b9d8" />
<rect x="196.80" y="382.20" width="7.75" height="8.80" fill="#fbb72e" />
<rect x="204.50" y="382.20" width="2.55" height="8.80" fill="#36b9d8" />
<rect x="207.00" y="382.20" width="13.05" height="8.80" fill="#fbb72e" />
<rect x="220.00" y="382.20" width="2.35" height="8.80" fill="#d2d2d2" />
<rect x="222.30" y="382.20" width="7.45" height="8.80" fill="#fbb72e" />
<rect x="229.70" y="382.20" width="2.65" height="8.80" fill="#d2d2d2" />
<rect x="232.30" y="382.20" width="7.75" height="8.80" fill="#fbb72e" />
<rect x="240.00" y="382.20" width="2.35" height="8.80" fill="#d2d2d2" />
<rect x="242.30" y="382.20" width="7.75" height="8.80" fill="#fbb72e" />
<rect x="250.00" y="382.20" width="10.05" height="8.80" fill="#36b9d8" />
<rect x="260.00" y="382.20" width="2.35" height="8.80" fill="#d2d2d2" />
<rect x="262.30" y="382.20" width="15.75" height="8.80" fill="#fbb72e" />
<rect x="278.00" y="382.20" width="2.55" height="8.80" fill="#36b9d8" />
<rect x="280.50" y="382.20" width="2.55" height="8.80" fill="#d2d2d2" />
<rect x="283.00" y="382.20" width="2.45" height="8.80" fill="#36b9d8" />
<rect x="285.40" y="382.20" width="5.45" height="8.80" fill="#fbb72e" />
<rect x="290.80" y="382.20" width="7.75" height="8.80" fill="#d2d2d2" />
<rect x="298.50" y="382.20" width="2.35" height="8.80" fill="#36b9d8" />
<rect x="300.80" y="382.20" width="23.05" height="8.80" fill="#fbb72e" />
<rect x="323.80" y="382.20" width="2.45" height="8.80" fill="#36b9d8" />
<rect x="326.20" y="382.20" width="2.35" height="8.80" fill="#fbb72e" />
<rect x="328.50" y="382.20" width="7.75" height="8.80" fill="#36b9d8" />
<rect x="336.20" y="382.20" width="2.65" height="8.80" fill="#d2d2d2" />
<rect x="338.80" y="382.20" width="2.25" height="8.80" fill="#36b9d8" />
<rect x="341.00" y="382.20" width="2.85" height="8.80" fill="#d2d2d2" />
<rect x="343.80" y="382.20" width="2.45" height="8.80" fill="#36b9d8" />
<rect x="346.20" y="382.20" width="3.85" height="8.80" fill="#fbb72e" />
<rect x="350.00" y="382.20" width="1.85" height="8.80" fill="#d2d2d2" />
<rect x="351.80" y="382.20" width="4.75" height="8.80" fill="#fbb72e" />
<rect x="356.50" y="382.20" width="2.55" height="8.80" fill="#36b9d8" />
<rect x="359.00" y="382.20" width="2.55" height="8.80" fill="#d2d2d2" />
<rect x="361.50" y="382.20" width="2.35" height="8.80" fill="#fbb72e" />
<rect x="363.80" y="382.20" width="2.45" height="8.80" fill="#36b9d8" />
<rect x="366.20" y="382.20" width="2.65" height="8.80" fill="#d2d2d2" />
<rect x="368.80" y="382.20" width="7.75" height="8.80" fill="#36b9d8" />
<rect x="376.50" y="382.20" width="5.55" height="8.80" fill="#fbb72e" />
<rect x="382.00" y="382.20" width="2.25" height="8.80" fill="#36b9d8" />
<rect x="384.20" y="382.20" width="2.85" height="8.80" fill="#fbb72e" />
<rect x="387.00" y="382.20" width="2.25" height="8.80" fill="#36b9d8" />
<rect x="389.20" y="382.20" width="2.65" height="8.80" fill="#fbb72e" />
<rect x="391.80" y="382.20" width="2.55" height="8.80" fill="#36b9d8" />
<rect x="394.30" y="382.20" width="2.75" height="8.80" fill="#fbb72e" />
<rect x="397.00" y="382.20" width="2.25" height="8.80" fill="#d2d2d2" />
<rect x="399.20" y="382.20" width="5.45" height="8.80" fill="#36b9d8" />
<rect x="404.60" y="382.20" width="2.45" height="8.80" fill="#fbb72e" />
<rect x="407.00" y="382.20" width="7.65" height="8.80" fill="#36b9d8" />
<rect x="414.60" y="382.20" width="2.65" height="8.80" fill="#d2d2d2" />
<rect x="417.20" y="382.20" width="12.85" height="8.80" fill="#36b9d8" />
<rect x="430.00" y="382.20" width="7.85" height="8.80" fill="#36b9d8" />
<rect x="437.80" y="382.20" width="10.15" height="8.80" fill="#fbb72e" />
<rect x="447.90" y="382.20" width="2.35" height="8.80" fill="#36b9d8" />
<rect x="450.20" y="382.20" width="5.05" height="8.80" fill="#fbb72e" />
<rect x="455.20" y="382.20" width="5.45" height="8.80" fill="#36b9d8" />
<rect x="460.60" y="382.20" width="2.25" height="8.80" fill="#fbb72e" />
<rect x="462.80" y="382.20" width="7.95" height="8.80" fill="#36b9d8" />
<rect x="470.70" y="382.20" width="4.65" height="8.80" fill="#fbb72e" />
<rect x="475.30" y="382.20" width="5.55" height="8.80" fill="#36b9d8" />
<rect x="480.80" y="382.20" width="2.35" height="8.80" fill="#d2d2d2" />
<rect x="483.10" y="382.20" width="2.65" height="8.80" fill="#36b9d8" />
<rect x="485.70" y="382.20" width="2.45" height="8.80" fill="#fbb72e" />
<rect x="488.10" y="382.20" width="12.85" height="8.80" fill="#36b9d8" />
<rect x="500.90" y="382.20" width="2.35" height="8.80" fill="#d2d2d2" />
<rect x="503.20" y="382.20" width="7.85" height="8.80" fill="#36b9d8" />
<rect x="81.00" y="391.80" width="2.45" height="8.70" fill="#fde97a" />
<rect x="83.40" y="391.80" width="2.45" height="8.70" fill="#ffffff" />
<rect x="85.80" y="391.80" width="1.95" height="8.70" fill="#47b9ad" />
<rect x="87.70" y="391.80" width="3.35" height="8.70" fill="#ffffff" />
<rect x="91.00" y="391.80" width="2.05" height="8.70" fill="#47b9ad" />
<rect x="93.00" y="391.80" width="2.75" height="8.70" fill="#fde97a" />
<rect x="95.70" y="391.80" width="5.15" height="8.70" fill="#47b9ad" />
<rect x="100.80" y="391.80" width="7.75" height="8.70" fill="#fde97a" />
<rect x="108.50" y="391.80" width="4.55" height="8.70" fill="#47b9ad" />
<rect x="113.00" y="391.80" width="5.55" height="8.70" fill="#fde97a" />
<rect x="118.50" y="391.80" width="4.95" height="8.70" fill="#47b9ad" />
<rect x="123.40" y="391.80" width="2.45" height="8.70" fill="#fde97a" />
<rect x="125.80" y="391.80" width="2.75" height="8.70" fill="#47b9ad" />
<rect x="128.50" y="391.80" width="7.75" height="8.70" fill="#fde97a" />
<rect x="136.20" y="391.80" width="2.35" height="8.70" fill="#47b9ad" />
<rect x="138.50" y="391.80" width="4.95" height="8.70" fill="#fde97a" />
<rect x="143.40" y="391.80" width="2.85" height="8.70" fill="#47b9ad" />
<rect x="146.20" y="391.80" width="2.65" height="8.70" fill="#fde97a" />
<rect x="148.80" y="391.80" width="5.05" height="8.70" fill="#47b9ad" />
<rect x="153.80" y="391.80" width="3.05" height="8.70" fill="#fde97a" />
<rect x="156.80" y="391.80" width="4.75" height="8.70" fill="#47b9ad" />
<rect x="161.50" y="391.80" width="5.05" height="8.70" fill="#fde97a" />
<rect x="166.50" y="391.80" width="2.35" height="8.70" fill="#47b9ad" />
<rect x="168.80" y="391.80" width="2.85" height="8.70" fill="#fde97a" />
<rect x="171.60" y="391.80" width="4.95" height="8.70" fill="#47b9ad" />
<rect x="176.50" y="391.80" width="5.55" height="8.70" fill="#fde97a" />
<rect x="182.00" y="391.80" width="2.25" height="8.70" fill="#47b9ad" />
<rect x="184.20" y="391.80" width="5.15" height="8.70" fill="#fde97a" />
<rect x="189.30" y="391.80" width="4.95" height="8.70" fill="#47b9ad" />
<rect x="194.20" y="391.80" width="2.65" height="8.70" fill="#fde97a" />
<rect x="196.80" y="391.80" width="2.85" height="8.70" fill="#47b9ad" />
<rect x="199.60" y="391.80" width="2.45" height="8.70" fill="#fde97a" />
<rect x="202.00" y="391.80" width="5.35" height="8.70" fill="#47b9ad" />
<rect x="207.30" y="391.80" width="4.95" height="8.70" fill="#fde97a" />
<rect x="212.20" y="391.80" width="5.15" height="8.70" fill="#47b9ad" />
<rect x="217.30" y="391.80" width="2.75" height="8.70" fill="#fde97a" />
<rect x="220.00" y="391.80" width="2.35" height="8.70" fill="#ffffff" />
<rect x="222.30" y="391.80" width="2.35" height="8.70" fill="#fde97a" />
<rect x="224.60" y="391.80" width="2.65" height="8.70" fill="#ffffff" />
<rect x="227.20" y="391.80" width="2.55" height="8.70" fill="#fde97a" />
<rect x="229.70" y="391.80" width="2.65" height="8.70" fill="#47b9ad" />
<rect x="232.30" y="391.80" width="2.35" height="8.70" fill="#ffffff" />
<rect x="234.60" y="391.80" width="5.45" height="8.70" fill="#fde97a" />
<rect x="240.00" y="391.80" width="2.35" height="8.70" fill="#47b9ad" />
<rect x="242.30" y="391.80" width="7.75" height="8.70" fill="#fde97a" />
<rect x="250.00" y="391.80" width="7.75" height="8.70" fill="#47b9ad" />
<rect x="257.70" y="391.80" width="2.35" height="8.70" fill="#fde97a" />
<rect x="260.00" y="391.80" width="2.35" height="8.70" fill="#ffffff" />
<rect x="262.30" y="391.80" width="3.15" height="8.70" fill="#47b9ad" />
<rect x="265.40" y="391.80" width="7.65" height="8.70" fill="#fde97a" />
<rect x="273.00" y="391.80" width="6.25" height="8.70" fill="#47b9ad" />
<rect x="279.20" y="391.80" width="3.85" height="8.70" fill="#fde97a" />
<rect x="283.00" y="391.80" width="2.45" height="8.70" fill="#47b9ad" />
<rect x="285.40" y="391.80" width="5.45" height="8.70" fill="#fde97a" />
<rect x="290.80" y="391.80" width="4.65" height="8.70" fill="#47b9ad" />
<rect x="295.40" y="391.80" width="3.15" height="8.70" fill="#fde97a" />
<rect x="298.50" y="391.80" width="2.35" height="8.70" fill="#47b9ad" />
<rect x="300.80" y="391.80" width="4.95" height="8.70" fill="#fde97a" />
<rect x="305.70" y="391.80" width="2.55" height="8.70" fill="#47b9ad" />
<rect x="308.20" y="391.80" width="2.65" height="8.70" fill="#fde97a" />
<rect x="310.80" y="391.80" width="5.05" height="8.70" fill="#47b9ad" />
<rect x="315.80" y="391.80" width="8.05" height="8.70" fill="#fde97a" />
<rect x="323.80" y="391.80" width="2.45" height="8.70" fill="#47b9ad" />
<rect x="326.20" y="391.80" width="5.05" height="8.70" fill="#fde97a" />
<rect x="331.20" y="391.80" width="2.65" height="8.70" fill="#47b9ad" />
<rect x="333.80" y="391.80" width="2.45" height="8.70" fill="#ffffff" />
<rect x="336.20" y="391.80" width="10.05" height="8.70" fill="#47b9ad" />
<rect x="346.20" y="391.80" width="2.35" height="8.70" fill="#fde97a" />
<rect x="348.50" y="391.80" width="5.35" height="8.70" fill="#47b9ad" />
<rect x="353.80" y="391.80" width="5.25" height="8.70" fill="#fde97a" />
<rect x="359.00" y="391.80" width="17.55" height="8.70" fill="#47b9ad" />
<rect x="376.50" y="391.80" width="10.55" height="8.70" fill="#fde97a" />
<rect x="387.00" y="391.80" width="2.25" height="8.70" fill="#47b9ad" />
<rect x="389.20" y="391.80" width="10.05" height="8.70" fill="#fde97a" />
<rect x="399.20" y="391.80" width="5.45" height="8.70" fill="#47b9ad" />
<rect x="404.60" y="391.80" width="2.45" height="8.70" fill="#fde97a" />
<rect x="407.00" y="391.80" width="7.65" height="8.70" fill="#47b9ad" />
<rect x="414.60" y="391.80" width="4.95" height="8.70" fill="#fde97a" />
<rect x="419.50" y="391.80" width="2.85" height="8.70" fill="#47b9ad" />
<rect x="422.30" y="391.80" width="2.35" height="8.70" fill="#fde97a" />
<rect x="424.60" y="391.80" width="5.05" height="8.70" fill="#47b9ad" />
<rect x="429.60" y="391.80" width="2.75" height="8.70" fill="#ffffff" />
<rect x="432.30" y="391.80" width="2.75" height="8.70" fill="#47b9ad" />
<rect x="435.00" y="391.80" width="2.45" height="8.70" fill="#ffffff" />
<rect x="437.40" y="391.80" width="10.55" height="8.70" fill="#fde97a" />
<rect x="447.90" y="391.80" width="2.35" height="8.70" fill="#47b9ad" />
<rect x="450.20" y="391.80" width="2.65" height="8.70" fill="#ffffff" />
<rect x="452.80" y="391.80" width="2.45" height="8.70" fill="#fde97a" />
<rect x="455.20" y="391.80" width="2.75" height="8.70" fill="#47b9ad" />
<rect x="457.90" y="391.80" width="2.25" height="8.70" fill="#fde97a" />
<rect x="460.10" y="391.80" width="10.65" height="8.70" fill="#47b9ad" />
<rect x="470.70" y="391.80" width="4.65" height="8.70" fill="#fde97a" />
<rect x="475.30" y="391.80" width="10.45" height="8.70" fill="#47b9ad" />
<rect x="485.70" y="391.80" width="5.15" height="8.70" fill="#fde97a" />
<rect x="490.80" y="391.80" width="2.25" height="8.70" fill="#47b9ad" />
<rect x="493.00" y="391.80" width="2.95" height="8.70" fill="#fde97a" />
<rect x="495.90" y="391.80" width="2.25" height="8.70" fill="#47b9ad" />
<rect x="498.10" y="391.80" width="2.85" height="8.70" fill="#fde97a" />
<rect x="500.90" y="391.80" width="10.15" height="8.70" fill="#47b9ad" />
<path d="M83.46,382.2V391.0M83.46,391.8V400.5M85.91,382.2V391.0M85.91,391.8V400.5M88.37,382.2V391.0M88.37,391.8V400.5M90.83,382.2V391.0M90.83,391.8V400.5M93.29,382.2V391.0M93.29,391.8V400.5M95.74,382.2V391.0M95.74,391.8V400.5M98.20,382.2V391.0M98.20,391.8V400.5M100.66,382.2V391.0M100.66,391.8V400.5M103.11,382.2V391.0M103.11,391.8V400.5M105.57,382.2V391.0M105.57,391.8V400.5M108.03,382.2V391.0M108.03,391.8V400.5M110.49,382.2V391.0M110.49,391.8V400.5M112.94,382.2V391.0M112.94,391.8V400.5M115.40,382.2V391.0M115.40,391.8V400.5M117.86,382.2V391.0M117.86,391.8V400.5M120.31,382.2V391.0M120.31,391.8V400.5M122.77,382.2V391.0M122.77,391.8V400.5M125.23,382.2V391.0M125.23,391.8V400.5M127.69,382.2V391.0M127.69,391.8V400.5M130.14,382.2V391.0M130.14,391.8V400.5M132.60,382.2V391.0M132.60,391.8V400.5M135.06,382.2V391.0M135.06,391.8V400.5M137.51,382.2V391.0M137.51,391.8V400.5M139.97,382.2V391.0M139.97,391.8V400.5M142.43,382.2V391.0M142.43,391.8V400.5M144.89,382.2V391.0M144.89,391.8V400.5M147.34,382.2V391.0M147.34,391.8V400.5M149.80,382.2V391.0M149.80,391.8V400.5M152.26,382.2V391.0M152.26,391.8V400.5M154.71,382.2V391.0M154.71,391.8V400.5M157.17,382.2V391.0M157.17,391.8V400.5M159.63,382.2V391.0M159.63,391.8V400.5M162.09,382.2V391.0M162.09,391.8V400.5M164.54,382.2V391.0M164.54,391.8V400.5M167.00,382.2V391.0M167.00,391.8V400.5M169.46,382.2V391.0M169.46,391.8V400.5M171.91,382.2V391.0M171.91,391.8V400.5M174.37,382.2V391.0M174.37,391.8V400.5M176.83,382.2V391.0M176.83,391.8V400.5M179.29,382.2V391.0M179.29,391.8V400.5M181.74,382.2V391.0M181.74,391.8V400.5M184.20,382.2V391.0M184.20,391.8V400.5M186.66,382.2V391.0M186.66,391.8V400.5M189.11,382.2V391.0M189.11,391.8V400.5M191.57,382.2V391.0M191.57,391.8V400.5M194.03,382.2V391.0M194.03,391.8V400.5M196.49,382.2V391.0M196.49,391.8V400.5M198.94,382.2V391.0M198.94,391.8V400.5M201.40,382.2V391.0M201.40,391.8V400.5M203.86,382.2V391.0M203.86,391.8V400.5M206.31,382.2V391.0M206.31,391.8V400.5M208.77,382.2V391.0M208.77,391.8V400.5M211.23,382.2V391.0M211.23,391.8V400.5M213.69,382.2V391.0M213.69,391.8V400.5M216.14,382.2V391.0M216.14,391.8V400.5M218.60,382.2V391.0M218.60,391.8V400.5M221.06,382.2V391.0M221.06,391.8V400.5M223.51,382.2V391.0M223.51,391.8V400.5M225.97,382.2V391.0M225.97,391.8V400.5M228.43,382.2V391.0M228.43,391.8V400.5M230.89,382.2V391.0M230.89,391.8V400.5M233.34,382.2V391.0M233.34,391.8V400.5M235.80,382.2V391.0M235.80,391.8V400.5M238.26,382.2V391.0M238.26,391.8V400.5M240.71,382.2V391.0M240.71,391.8V400.5M243.17,382.2V391.0M243.17,391.8V400.5M245.63,382.2V391.0M245.63,391.8V400.5M248.09,382.2V391.0M248.09,391.8V400.5M250.54,382.2V391.0M250.54,391.8V400.5M253.00,382.2V391.0M253.00,391.8V400.5M255.46,382.2V391.0M255.46,391.8V400.5M257.91,382.2V391.0M257.91,391.8V400.5M260.37,382.2V391.0M260.37,391.8V400.5M262.83,382.2V391.0M262.83,391.8V400.5M265.29,382.2V391.0M265.29,391.8V400.5M267.74,382.2V391.0M267.74,391.8V400.5M270.20,382.2V391.0M270.20,391.8V400.5M272.66,382.2V391.0M272.66,391.8V400.5M275.11,382.2V391.0M275.11,391.8V400.5M277.57,382.2V391.0M277.57,391.8V400.5M280.03,382.2V391.0M280.03,391.8V400.5M282.49,382.2V391.0M282.49,391.8V400.5M284.94,382.2V391.0M284.94,391.8V400.5M287.40,382.2V391.0M287.40,391.8V400.5M289.86,382.2V391.0M289.86,391.8V400.5M292.31,382.2V391.0M292.31,391.8V400.5M294.77,382.2V391.0M294.77,391.8V400.5M297.23,382.2V391.0M297.23,391.8V400.5M299.69,382.2V391.0M299.69,391.8V400.5M302.14,382.2V391.0M302.14,391.8V400.5M304.60,382.2V391.0M304.60,391.8V400.5M307.06,382.2V391.0M307.06,391.8V400.5M309.51,382.2V391.0M309.51,391.8V400.5M311.97,382.2V391.0M311.97,391.8V400.5M314.43,382.2V391.0M314.43,391.8V400.5M316.89,382.2V391.0M316.89,391.8V400.5M319.34,382.2V391.0M319.34,391.8V400.5M321.80,382.2V391.0M321.80,391.8V400.5M324.26,382.2V391.0M324.26,391.8V400.5M326.71,382.2V391.0M326.71,391.8V400.5M329.17,382.2V391.0M329.17,391.8V400.5M331.63,382.2V391.0M331.63,391.8V400.5M334.09,382.2V391.0M334.09,391.8V400.5M336.54,382.2V391.0M336.54,391.8V400.5M339.00,382.2V391.0M339.00,391.8V400.5M341.46,382.2V391.0M341.46,391.8V400.5M343.91,382.2V391.0M343.91,391.8V400.5M346.37,382.2V391.0M346.37,391.8V400.5M348.83,382.2V391.0M348.83,391.8V400.5M351.29,382.2V391.0M351.29,391.8V400.5M353.74,382.2V391.0M353.74,391.8V400.5M356.20,382.2V391.0M356.20,391.8V400.5M358.66,382.2V391.0M358.66,391.8V400.5M361.11,382.2V391.0M361.11,391.8V400.5M363.57,382.2V391.0M363.57,391.8V400.5M366.03,382.2V391.0M366.03,391.8V400.5M368.49,382.2V391.0M368.49,391.8V400.5M370.94,382.2V391.0M370.94,391.8V400.5M373.40,382.2V391.0M373.40,391.8V400.5M375.86,382.2V391.0M375.86,391.8V400.5M378.31,382.2V391.0M378.31,391.8V400.5M380.77,382.2V391.0M380.77,391.8V400.5M383.23,382.2V391.0M383.23,391.8V400.5M385.69,382.2V391.0M385.69,391.8V400.5M388.14,382.2V391.0M388.14,391.8V400.5M390.60,382.2V391.0M390.60,391.8V400.5M393.06,382.2V391.0M393.06,391.8V400.5M395.51,382.2V391.0M395.51,391.8V400.5M397.97,382.2V391.0M397.97,391.8V400.5M400.43,382.2V391.0M400.43,391.8V400.5M402.89,382.2V391.0M402.89,391.8V400.5M405.34,382.2V391.0M405.34,391.8V400.5M407.80,382.2V391.0M407.80,391.8V400.5M410.26,382.2V391.0M410.26,391.8V400.5M412.71,382.2V391.0M412.71,391.8V400.5M415.17,382.2V391.0M415.17,391.8V400.5M417.63,382.2V391.0M417.63,391.8V400.5M420.09,382.2V391.0M420.09,391.8V400.5M422.54,382.2V391.0M422.54,391.8V400.5M425.00,382.2V391.0M425.00,391.8V400.5M427.46,382.2V391.0M427.46,391.8V400.5M429.91,382.2V391.0M429.91,391.8V400.5M432.37,382.2V391.0M432.37,391.8V400.5M434.83,382.2V391.0M434.83,391.8V400.5M437.29,382.2V391.0M437.29,391.8V400.5M439.74,382.2V391.0M439.74,391.8V400.5M442.20,382.2V391.0M442.20,391.8V400.5M444.66,382.2V391.0M444.66,391.8V400.5M447.11,382.2V391.0M447.11,391.8V400.5M449.57,382.2V391.0M449.57,391.8V400.5M452.03,382.2V391.0M452.03,391.8V400.5M454.49,382.2V391.0M454.49,391.8V400.5M456.94,382.2V391.0M456.94,391.8V400.5M459.40,382.2V391.0M459.40,391.8V400.5M461.86,382.2V391.0M461.86,391.8V400.5M464.31,382.2V391.0M464.31,391.8V400.5M466.77,382.2V391.0M466.77,391.8V400.5M469.23,382.2V391.0M469.23,391.8V400.5M471.69,382.2V391.0M471.69,391.8V400.5M474.14,382.2V391.0M474.14,391.8V400.5M476.60,382.2V391.0M476.60,391.8V400.5M479.06,382.2V391.0M479.06,391.8V400.5M481.51,382.2V391.0M481.51,391.8V400.5M483.97,382.2V391.0M483.97,391.8V400.5M486.43,382.2V391.0M486.43,391.8V400.5M488.89,382.2V391.0M488.89,391.8V400.5M491.34,382.2V391.0M491.34,391.8V400.5M493.80,382.2V391.0M493.80,391.8V400.5M496.26,382.2V391.0M496.26,391.8V400.5M498.71,382.2V391.0M498.71,391.8V400.5M501.17,382.2V391.0M501.17,391.8V400.5M503.63,382.2V391.0M503.63,391.8V400.5M506.09,382.2V391.0M506.09,391.8V400.5M508.54,382.2V391.0M508.54,391.8V400.5" stroke="#fff" stroke-opacity="0.35" stroke-width="0.3" fill="none"/>
<rect x="95.00" y="403.60" width="31.60" height="19.60" fill="#fff" />
<path d="M97.43,403.6V423.2M99.86,403.6V423.2M102.29,403.6V423.2M104.72,403.6V423.2M107.15,403.6V423.2M109.58,403.6V423.2M112.02,403.6V423.2M114.45,403.6V423.2M116.88,403.6V423.2M119.31,403.6V423.2M121.74,403.6V423.2M124.17,403.6V423.2M95.00,413.40H126.60" stroke="#333" stroke-width="0.36" fill="none"/>
<rect x="95.00" y="403.6" width="31.60" height="19.60" rx="0.8" ry="0.8" fill="none" stroke="#666" stroke-width="0.55"/>
<rect x="133.20" y="403.60" width="59.10" height="19.60" fill="#fff" />
<rect x="189.60" y="403.60" width="2.40" height="9.80" fill="#6a2e92" />
<rect x="166.70" y="413.40" width="2.50" height="9.80" fill="#b28e80" />
<path d="M135.66,403.6V423.2M138.12,403.6V423.2M140.59,403.6V423.2M143.05,403.6V423.2M145.51,403.6V423.2M147.97,403.6V423.2M150.44,403.6V423.2M152.90,403.6V423.2M155.36,403.6V423.2M157.82,403.6V423.2M160.29,403.6V423.2M162.75,403.6V423.2M165.21,403.6V423.2M167.68,403.6V423.2M170.14,403.6V423.2M172.60,403.6V423.2M175.06,403.6V423.2M177.53,403.6V423.2M179.99,403.6V423.2M182.45,403.6V423.2M184.91,403.6V423.2M187.38,403.6V423.2M189.84,403.6V423.2M133.20,413.40H192.30" stroke="#333" stroke-width="0.36" fill="none"/>
<rect x="133.20" y="403.6" width="59.10" height="19.60" rx="0.8" ry="0.8" fill="none" stroke="#666" stroke-width="0.55"/>
<rect x="224.50" y="403.60" width="36.90" height="19.60" fill="#fff" />
<rect x="257.80" y="403.60" width="3.60" height="9.80" fill="#6a2e92" />
<rect x="245.40" y="413.40" width="3.00" height="9.80" fill="#b28e80" />
<path d="M226.96,403.6V423.2M229.42,403.6V423.2M231.88,403.6V423.2M234.34,403.6V423.2M236.80,403.6V423.2M239.26,403.6V423.2M241.72,403.6V423.2M244.18,403.6V423.2M246.64,403.6V423.2M249.10,403.6V423.2M251.56,403.6V423.2M254.02,403.6V423.2M256.48,403.6V423.2M258.94,403.6V423.2M224.50,413.40H261.40" stroke="#333" stroke-width="0.36" fill="none"/>
<rect x="224.50" y="403.6" width="36.90" height="19.60" rx="0.8" ry="0.8" fill="none" stroke="#666" stroke-width="0.55"/>
<rect x="282.30" y="403.60" width="57.40" height="19.60" fill="#fff" />
<rect x="331.60" y="403.60" width="8.10" height="9.80" fill="#6a2e92" />
<path d="M284.80,403.6V423.2M287.29,403.6V423.2M289.79,403.6V423.2M292.28,403.6V423.2M294.78,403.6V423.2M297.27,403.6V423.2M299.77,403.6V423.2M302.27,403.6V423.2M304.76,403.6V423.2M307.26,403.6V423.2M309.75,403.6V423.2M312.25,403.6V423.2M314.74,403.6V423.2M317.24,403.6V423.2M319.73,403.6V423.2M322.23,403.6V423.2M324.73,403.6V423.2M327.22,403.6V423.2M329.72,403.6V423.2M332.21,403.6V423.2M334.71,403.6V423.2M337.20,403.6V423.2M282.30,413.40H339.70" stroke="#333" stroke-width="0.36" fill="none"/>
<rect x="282.30" y="403.6" width="57.40" height="19.60" rx="0.8" ry="0.8" fill="none" stroke="#666" stroke-width="0.55"/>
<rect x="351.50" y="403.60" width="22.50" height="19.60" fill="#fff" />
<rect x="369.40" y="403.60" width="4.60" height="9.80" fill="#6a2e92" />
<path d="M354.00,403.6V423.2M356.50,403.6V423.2M359.00,403.6V423.2M361.50,403.6V423.2M364.00,403.6V423.2M366.50,403.6V423.2M369.00,403.6V423.2M371.50,403.6V423.2M351.50,413.40H374.00" stroke="#333" stroke-width="0.36" fill="none"/>
<rect x="351.50" y="403.6" width="22.50" height="19.60" rx="0.8" ry="0.8" fill="none" stroke="#666" stroke-width="0.55"/>
<rect x="379.40" y="403.60" width="53.40" height="19.60" fill="#fff" />
<rect x="412.30" y="403.60" width="20.50" height="9.80" fill="#6a2e92" />
<rect x="414.60" y="413.40" width="2.60" height="9.80" fill="#b28e80" />
<path d="M381.83,403.6V423.2M384.25,403.6V423.2M386.68,403.6V423.2M389.11,403.6V423.2M391.54,403.6V423.2M393.96,403.6V423.2M396.39,403.6V423.2M398.82,403.6V423.2M401.25,403.6V423.2M403.67,403.6V423.2M406.10,403.6V423.2M408.53,403.6V423.2M410.95,403.6V423.2M413.38,403.6V423.2M415.81,403.6V423.2M418.24,403.6V423.2M420.66,403.6V423.2M423.09,403.6V423.2M425.52,403.6V423.2M427.95,403.6V423.2M430.37,403.6V423.2M379.40,413.40H432.80" stroke="#333" stroke-width="0.36" fill="none"/>
<rect x="379.40" y="403.6" width="53.40" height="19.60" rx="0.8" ry="0.8" fill="none" stroke="#666" stroke-width="0.55"/>
<rect x="442.40" y="403.60" width="30.70" height="19.60" fill="#fff" />
<rect x="455.20" y="403.60" width="17.90" height="9.80" fill="#6a2e92" />
<rect x="462.80" y="413.40" width="2.50" height="9.80" fill="#b28e80" />
<rect x="470.30" y="413.40" width="2.60" height="9.80" fill="#b28e80" />
<path d="M444.96,403.6V423.2M447.52,403.6V423.2M450.07,403.6V423.2M452.63,403.6V423.2M455.19,403.6V423.2M457.75,403.6V423.2M460.31,403.6V423.2M462.87,403.6V423.2M465.43,403.6V423.2M467.98,403.6V423.2M470.54,403.6V423.2M442.40,413.40H473.10" stroke="#333" stroke-width="0.36" fill="none"/>
<rect x="442.40" y="403.6" width="30.70" height="19.60" rx="0.8" ry="0.8" fill="none" stroke="#666" stroke-width="0.55"/>
<rect x="485.30" y="403.60" width="25.60" height="19.60" fill="#fff" />
<rect x="498.10" y="403.60" width="12.80" height="9.80" fill="#6a2e92" />
<path d="M487.86,403.6V423.2M490.42,403.6V423.2M492.98,403.6V423.2M495.54,403.6V423.2M498.10,403.6V423.2M500.66,403.6V423.2M503.22,403.6V423.2M505.78,403.6V423.2M508.34,403.6V423.2M485.30,413.40H510.90" stroke="#333" stroke-width="0.36" fill="none"/>
<rect x="485.30" y="403.6" width="25.60" height="19.60" rx="0.8" ry="0.8" fill="none" stroke="#666" stroke-width="0.55"/>
<rect x="81.00" y="426.00" width="430.00" height="9.50" fill="#bfe3d4" />
<rect x="123.75" y="426.00" width="2.15" height="9.50" fill="#e8396c" />
<rect x="174.30" y="426.00" width="9.90" height="9.50" fill="#e8396c" />
<rect x="218.30" y="426.00" width="6.20" height="9.50" fill="#e8396c" />
<rect x="253.00" y="426.00" width="4.80" height="9.50" fill="#e8396c" />
<rect x="275.50" y="426.00" width="6.80" height="9.50" fill="#e8396c" />
<rect x="303.80" y="426.00" width="4.00" height="9.50" fill="#e8396c" />
<rect x="313.70" y="426.00" width="2.50" height="9.50" fill="#e8396c" />
<rect x="324.50" y="426.00" width="2.50" height="9.50" fill="#e8396c" />
<rect x="329.10" y="426.00" width="2.50" height="9.50" fill="#e8396c" />
<rect x="339.00" y="426.00" width="12.50" height="9.50" fill="#e8396c" />
<rect x="356.50" y="426.00" width="12.30" height="9.50" fill="#e8396c" />
<rect x="372.50" y="426.00" width="3.50" height="9.50" fill="#e8396c" />
<rect x="379.80" y="426.00" width="1.90" height="9.50" fill="#e8396c" />
<rect x="387.00" y="426.00" width="10.00" height="9.50" fill="#e8396c" />
<rect x="405.40" y="426.00" width="1.90" height="9.50" fill="#e8396c" />
<rect x="412.70" y="426.00" width="4.00" height="9.50" fill="#e8396c" />
<rect x="425.00" y="426.00" width="2.30" height="9.50" fill="#e8396c" />
<rect x="434.10" y="426.00" width="9.20" height="9.50" fill="#e8396c" />
<rect x="445.10" y="426.00" width="10.10" height="9.50" fill="#e8396c" />
<rect x="457.50" y="426.00" width="15.40" height="9.50" fill="#e8396c" />
<rect x="475.30" y="426.00" width="2.70" height="9.50" fill="#e8396c" />
<rect x="480.40" y="426.00" width="12.60" height="9.50" fill="#e8396c" />
<rect x="498.10" y="426.00" width="7.70" height="9.50" fill="#e8396c" />
<rect x="508.20" y="426.00" width="2.80" height="9.50" fill="#e8396c" />
<path d="M83.46,426.0V435.5M85.91,426.0V435.5M88.37,426.0V435.5M90.83,426.0V435.5M93.29,426.0V435.5M95.74,426.0V435.5M98.20,426.0V435.5M100.66,426.0V435.5M103.11,426.0V435.5M105.57,426.0V435.5M108.03,426.0V435.5M110.49,426.0V435.5M112.94,426.0V435.5M115.40,426.0V435.5M117.86,426.0V435.5M120.31,426.0V435.5M122.77,426.0V435.5M125.23,426.0V435.5M127.69,426.0V435.5M130.14,426.0V435.5M132.60,426.0V435.5M135.06,426.0V435.5M137.51,426.0V435.5M139.97,426.0V435.5M142.43,426.0V435.5M144.89,426.0V435.5M147.34,426.0V435.5M149.80,426.0V435.5M152.26,426.0V435.5M154.71,426.0V435.5M157.17,426.0V435.5M159.63,426.0V435.5M162.09,426.0V435.5M164.54,426.0V435.5M167.00,426.0V435.5M169.46,426.0V435.5M171.91,426.0V435.5M174.37,426.0V435.5M176.83,426.0V435.5M179.29,426.0V435.5M181.74,426.0V435.5M184.20,426.0V435.5M186.66,426.0V435.5M189.11,426.0V435.5M191.57,426.0V435.5M194.03,426.0V435.5M196.49,426.0V435.5M198.94,426.0V435.5M201.40,426.0V435.5M203.86,426.0V435.5M206.31,426.0V435.5M208.77,426.0V435.5M211.23,426.0V435.5M213.69,426.0V435.5M216.14,426.0V435.5M218.60,426.0V435.5M221.06,426.0V435.5M223.51,426.0V435.5M225.97,426.0V435.5M228.43,426.0V435.5M230.89,426.0V435.5M233.34,426.0V435.5M235.80,426.0V435.5M238.26,426.0V435.5M240.71,426.0V435.5M243.17,426.0V435.5M245.63,426.0V435.5M248.09,426.0V435.5M250.54,426.0V435.5M253.00,426.0V435.5M255.46,426.0V435.5M257.91,426.0V435.5M260.37,426.0V435.5M262.83,426.0V435.5M265.29,426.0V435.5M267.74,426.0V435.5M270.20,426.0V435.5M272.66,426.0V435.5M275.11,426.0V435.5M277.57,426.0V435.5M280.03,426.0V435.5M282.49,426.0V435.5M284.94,426.0V435.5M287.40,426.0V435.5M289.86,426.0V435.5M292.31,426.0V435.5M294.77,426.0V435.5M297.23,426.0V435.5M299.69,426.0V435.5M302.14,426.0V435.5M304.60,426.0V435.5M307.06,426.0V435.5M309.51,426.0V435.5M311.97,426.0V435.5M314.43,426.0V435.5M316.89,426.0V435.5M319.34,426.0V435.5M321.80,426.0V435.5M324.26,426.0V435.5M326.71,426.0V435.5M329.17,426.0V435.5M331.63,426.0V435.5M334.09,426.0V435.5M336.54,426.0V435.5M339.00,426.0V435.5M341.46,426.0V435.5M343.91,426.0V435.5M346.37,426.0V435.5M348.83,426.0V435.5M351.29,426.0V435.5M353.74,426.0V435.5M356.20,426.0V435.5M358.66,426.0V435.5M361.11,426.0V435.5M363.57,426.0V435.5M366.03,426.0V435.5M368.49,426.0V435.5M370.94,426.0V435.5M373.40,426.0V435.5M375.86,426.0V435.5M378.31,426.0V435.5M380.77,426.0V435.5M383.23,426.0V435.5M385.69,426.0V435.5M388.14,426.0V435.5M390.60,426.0V435.5M393.06,426.0V435.5M395.51,426.0V435.5M397.97,426.0V435.5M400.43,426.0V435.5M402.89,426.0V435.5M405.34,426.0V435.5M407.80,426.0V435.5M410.26,426.0V435.5M412.71,426.0V435.5M415.17,426.0V435.5M417.63,426.0V435.5M420.09,426.0V435.5M422.54,426.0V435.5M425.00,426.0V435.5M427.46,426.0V435.5M429.91,426.0V435.5M432.37,426.0V435.5M434.83,426.0V435.5M437.29,426.0V435.5M439.74,426.0V435.5M442.20,426.0V435.5M444.66,426.0V435.5M447.11,426.0V435.5M449.57,426.0V435.5M452.03,426.0V435.5M454.49,426.0V435.5M456.94,426.0V435.5M459.40,426.0V435.5M461.86,426.0V435.5M464.31,426.0V435.5M466.77,426.0V435.5M469.23,426.0V435.5M471.69,426.0V435.5M474.14,426.0V435.5M476.60,426.0V435.5M479.06,426.0V435.5M481.51,426.0V435.5M483.97,426.0V435.5M486.43,426.0V435.5M488.89,426.0V435.5M491.34,426.0V435.5M493.80,426.0V435.5M496.26,426.0V435.5M498.71,426.0V435.5M501.17,426.0V435.5M503.63,426.0V435.5M506.09,426.0V435.5M508.54,426.0V435.5" stroke="#fff" stroke-opacity="0.45" stroke-width="0.35" fill="none"/>
<defs><linearGradient id="gex" x1="0" x2="1" y1="0" y2="0"><stop offset="0" stop-color="#00ff00"/><stop offset="0.5" stop-color="#000"/><stop offset="1" stop-color="#ff0000"/></linearGradient><linearGradient id="gcna" x1="0" x2="1" y1="0" y2="0"><stop offset="0" stop-color="#1d9fd9"/><stop offset="0.5" stop-color="#fff"/><stop offset="1" stop-color="#d6208a"/></linearGradient></defs>
<text transform="translate(151.50,447.00)" font-size="7.15" font-weight="bold" font-style="normal" text-anchor="middle" fill="#000" >Gene expression level</text>
<rect x="136.30" y="450.00" width="26.70" height="5.20" fill="url(#gex)" />
<text transform="translate(137.20,461.80)" font-size="5.8" font-weight="normal" font-style="normal" text-anchor="middle" fill="#0d0d0d" >0</text>
<text transform="translate(162.60,461.80)" font-size="5.8" font-weight="normal" font-style="normal" text-anchor="middle" fill="#0d0d0d" >100</text>
<text transform="translate(151.40,467.80)" font-size="5.8" font-weight="normal" font-style="italic" text-anchor="middle" fill="#1c1c1c" >Percentile value</text>
<text transform="translate(218.40,447.00)" font-size="7.15" font-weight="bold" font-style="normal" text-anchor="middle" fill="#000" >CNA burden</text>
<rect x="204.60" y="450.00" width="26.20" height="5.20" fill="url(#gcna)" />
<text transform="translate(205.00,461.80)" font-size="5.8" font-weight="normal" font-style="normal" text-anchor="middle" fill="#0d0d0d" >0</text>
<text transform="translate(231.40,461.80)" font-size="5.8" font-weight="normal" font-style="normal" text-anchor="middle" fill="#0d0d0d" >127</text>
<text transform="translate(218.50,467.80)" font-size="5.8" font-weight="normal" font-style="italic" text-anchor="middle" fill="#1c1c1c" >genes</text>
<text transform="translate(278.60,447.40)" font-size="6.9" font-weight="bold" font-style="normal" text-anchor="start" fill="#000" >Lymph2Cx</text>
<rect x="277.50" y="450.40" width="2.10" height="5.60" fill="#fbb72e" />
<text transform="translate(282.20,455.10)" font-size="5.9" font-weight="normal" font-style="normal" text-anchor="start" fill="#0d0d0d" >GCB</text>
<rect x="277.50" y="456.40" width="2.10" height="5.60" fill="#36b9d8" />
<text transform="translate(282.20,461.30)" font-size="5.9" font-weight="normal" font-style="normal" text-anchor="start" fill="#0d0d0d" >ABC</text>
<rect x="277.50" y="462.40" width="2.10" height="5.60" fill="#d2d2d2" />
<text transform="translate(282.20,467.50)" font-size="5.9" font-weight="normal" font-style="normal" text-anchor="start" fill="#0d0d0d" >Unclassified</text>
<text transform="translate(334.80,447.40)" font-size="6.9" font-weight="bold" font-style="normal" text-anchor="start" fill="#000" >Hans</text>
<rect x="334.40" y="450.40" width="2.20" height="5.60" fill="#fde97a" />
<text transform="translate(340.00,455.10)" font-size="5.9" font-weight="normal" font-style="normal" text-anchor="start" fill="#0d0d0d" >GCB</text>
<rect x="334.40" y="456.40" width="2.20" height="5.60" fill="#47b9ad" />
<text transform="translate(340.00,461.30)" font-size="5.9" font-weight="normal" font-style="normal" text-anchor="start" fill="#0d0d0d" >ABC</text>
<rect x="334.40" y="462.40" width="2.20" height="5.60" fill="#ffffff" stroke="#777" stroke-width="0.4"/>
<text transform="translate(340.00,467.50)" font-size="5.9" font-weight="normal" font-style="normal" text-anchor="start" fill="#0d0d0d" >Not analyzed</text>
<text transform="translate(389.80,447.00)" font-size="7.1" font-weight="bold" font-style="normal" text-anchor="start" fill="#000" >Survival</text>
<rect x="390.00" y="450.20" width="2.00" height="5.70" fill="#bfe3d4" />
<text transform="translate(394.30,455.10)" font-size="5.8" font-weight="normal" font-style="normal" text-anchor="start" fill="#0d0d0d" >Disease-free survival</text>
<rect x="390.00" y="456.30" width="2.00" height="5.70" fill="#e8396c" />
<text transform="translate(394.30,462.00)" font-size="5.8" font-weight="normal" font-style="normal" text-anchor="start" fill="#0d0d0d" >Relapsed/dead</text>
<text transform="translate(7.20,487.00)" font-size="11.2" font-weight="bold" font-style="normal" text-anchor="start" fill="#000" >B</text>
<polygon points="57.10,589.00 57.14,587.69 57.23,586.38 57.34,585.06 57.44,583.75 57.50,582.44 57.53,581.12 57.65,579.81 57.80,578.50 57.94,577.19 58.00,575.88 58.04,574.56 58.13,573.25 58.27,571.94 58.43,570.62 58.61,569.31 58.78,568.00 58.93,566.69 59.04,565.38 59.10,564.06 59.13,562.75 59.30,561.44 59.55,560.12 59.85,558.81 60.15,557.50 60.40,556.19 60.57,554.88 60.61,553.56 60.69,552.25 60.85,550.94 61.05,549.62 61.25,548.31 61.41,547.00 61.49,545.69 61.50,544.38 61.50,543.06 61.50,541.75 61.50,540.44 61.46,539.12 61.27,537.81 61.00,536.50 60.73,535.19 60.54,533.88 60.48,532.56 60.28,531.25 59.93,529.94 59.54,528.62 59.23,527.31 59.10,526.00 59.01,524.69 58.78,523.38 58.51,522.06 58.26,520.75 58.11,519.44 58.06,518.12 57.87,516.81 57.66,515.50 57.51,514.19 57.47,512.88 57.36,511.56 57.30,510.25 53.10,510.25 53.04,511.56 52.93,512.88 52.89,514.19 52.74,515.50 52.53,516.81 52.34,518.12 52.29,519.44 52.14,520.75 51.89,522.06 51.62,523.38 51.39,524.69 51.30,526.00 51.17,527.31 50.86,528.62 50.47,529.94 50.12,531.25 49.92,532.56 49.86,533.88 49.67,535.19 49.40,536.50 49.13,537.81 48.94,539.12 48.90,540.44 48.90,541.75 48.90,543.06 48.90,544.38 48.91,545.69 48.99,547.00 49.15,548.31 49.35,549.62 49.55,550.94 49.71,552.25 49.79,553.56 49.83,554.88 50.00,556.19 50.25,557.50 50.55,558.81 50.85,560.12 51.10,561.44 51.27,562.75 51.30,564.06 51.36,565.38 51.47,566.69 51.62,568.00 51.79,569.31 51.97,570.62 52.13,571.94 52.27,573.25 52.36,574.56 52.40,575.88 52.46,577.19 52.60,578.50 52.75,579.81 52.87,581.12 52.90,582.44 52.96,583.75 53.06,585.06 53.17,586.38 53.26,587.69 53.30,589.00" fill="#d6183d"/>
<rect x="52.70" y="533.88" width="5.0" height="28.88" fill="#fff" fill-opacity="0.9" stroke="#fff" stroke-opacity="0.7" stroke-width="0.4"/>
<line x1="52.70" y1="545.25" x2="57.70" y2="545.25" stroke="#d6183d" stroke-width="0.5" stroke-opacity="0.55"/>
<line x1="55.20" y1="533.88" x2="55.20" y2="512.00" stroke="#fff" stroke-width="0.4" stroke-opacity="0.55"/>
<line x1="55.20" y1="562.75" x2="55.20" y2="588.12" stroke="#fff" stroke-width="0.4" stroke-opacity="0.55"/>
<polygon points="78.10,589.00 78.14,587.69 78.23,586.38 78.34,585.06 78.44,583.75 78.50,582.44 78.53,581.12 78.67,579.81 78.86,578.50 79.03,577.19 79.10,575.88 79.16,574.56 79.31,573.25 79.54,571.94 79.81,570.62 80.10,569.31 80.38,568.00 80.62,566.69 80.80,565.38 80.89,564.06 80.96,562.75 81.22,561.44 81.57,560.12 81.87,558.81 82.00,557.50 82.06,556.19 82.19,554.88 82.29,553.56 82.27,552.25 82.15,550.94 82.00,549.62 81.86,548.31 81.80,547.00 81.69,545.69 81.42,544.38 81.09,543.06 80.79,541.75 80.61,540.44 80.54,539.12 80.28,537.81 79.90,536.50 79.52,535.19 79.26,533.88 79.19,532.56 79.04,531.25 78.79,529.94 78.52,528.62 78.29,527.31 78.20,526.00 78.14,524.69 78.01,523.38 77.84,522.06 77.69,520.75 77.61,519.44 77.59,518.12 77.54,516.81 77.46,515.50 77.37,514.19 77.29,512.88 77.22,511.56 77.20,510.25 75.20,510.25 75.18,511.56 75.11,512.88 75.03,514.19 74.94,515.50 74.86,516.81 74.81,518.12 74.79,519.44 74.71,520.75 74.56,522.06 74.39,523.38 74.26,524.69 74.20,526.00 74.11,527.31 73.88,528.62 73.61,529.94 73.36,531.25 73.21,532.56 73.14,533.88 72.88,535.19 72.50,536.50 72.12,537.81 71.86,539.12 71.79,540.44 71.61,541.75 71.31,543.06 70.98,544.38 70.71,545.69 70.60,547.00 70.54,548.31 70.40,549.62 70.25,550.94 70.13,552.25 70.11,553.56 70.21,554.88 70.34,556.19 70.40,557.50 70.53,558.81 70.83,560.12 71.18,561.44 71.44,562.75 71.51,564.06 71.60,565.38 71.78,566.69 72.02,568.00 72.30,569.31 72.59,570.62 72.86,571.94 73.09,573.25 73.24,574.56 73.30,575.88 73.37,577.19 73.54,578.50 73.73,579.81 73.87,581.12 73.90,582.44 73.96,583.75 74.06,585.06 74.17,586.38 74.26,587.69 74.30,589.00" fill="#17589b"/>
<rect x="73.70" y="536.50" width="5.0" height="26.25" fill="#fff" fill-opacity="0.9" stroke="#fff" stroke-opacity="0.7" stroke-width="0.4"/>
<line x1="73.70" y1="554.00" x2="78.70" y2="554.00" stroke="#17589b" stroke-width="0.5" stroke-opacity="0.55"/>
<line x1="76.20" y1="536.50" x2="76.20" y2="512.00" stroke="#fff" stroke-width="0.4" stroke-opacity="0.55"/>
<line x1="76.20" y1="562.75" x2="76.20" y2="588.12" stroke="#fff" stroke-width="0.4" stroke-opacity="0.55"/>
<polygon points="99.80,589.00 99.89,587.83 100.07,586.67 100.25,585.50 100.31,584.33 100.48,583.17 100.75,582.00 100.97,580.83 101.02,579.67 101.14,578.50 101.34,577.33 101.59,576.17 101.84,575.00 102.07,573.83 102.24,572.67 102.30,571.50 102.38,570.33 102.56,569.17 102.79,568.00 102.99,566.83 103.09,565.67 103.12,564.50 103.19,563.33 103.26,562.17 103.30,561.00 103.26,559.83 103.14,558.67 103.00,557.50 102.86,556.33 102.74,555.17 102.70,554.00 102.62,552.83 102.41,551.67 102.15,550.50 101.89,549.33 101.68,548.17 101.60,547.00 101.51,545.83 101.29,544.67 101.00,543.50 100.71,542.33 100.49,541.17 100.40,540.00 100.31,538.83 100.09,537.67 99.80,536.50 99.51,535.33 99.29,534.17 99.20,533.00 99.13,531.83 98.97,530.67 98.75,529.50 98.53,528.33 98.37,527.17 98.30,526.00 98.27,524.83 98.20,523.67 98.10,522.50 98.00,521.33 97.93,520.17 97.90,519.00 94.90,519.00 94.87,520.17 94.80,521.33 94.70,522.50 94.60,523.67 94.53,524.83 94.50,526.00 94.43,527.17 94.27,528.33 94.05,529.50 93.83,530.67 93.67,531.83 93.60,533.00 93.51,534.17 93.29,535.33 93.00,536.50 92.71,537.67 92.49,538.83 92.40,540.00 92.31,541.17 92.09,542.33 91.80,543.50 91.51,544.67 91.29,545.83 91.20,547.00 91.12,548.17 90.91,549.33 90.65,550.50 90.39,551.67 90.18,552.83 90.10,554.00 90.06,555.17 89.94,556.33 89.80,557.50 89.66,558.67 89.54,559.83 89.50,561.00 89.54,562.17 89.61,563.33 89.68,564.50 89.71,565.67 89.81,566.83 90.01,568.00 90.24,569.17 90.42,570.33 90.50,571.50 90.56,572.67 90.73,573.83 90.96,575.00 91.21,576.17 91.46,577.33 91.66,578.50 91.78,579.67 91.83,580.83 92.05,582.00 92.32,583.17 92.49,584.33 92.55,585.50 92.73,586.67 92.91,587.83 93.00,589.00" fill="#2fb236"/>
<rect x="93.90" y="545.25" width="5.0" height="26.25" fill="#fff" fill-opacity="0.9" stroke="#fff" stroke-opacity="0.7" stroke-width="0.4"/>
<line x1="93.90" y1="562.75" x2="98.90" y2="562.75" stroke="#2fb236" stroke-width="0.5" stroke-opacity="0.55"/>
<line x1="96.40" y1="545.25" x2="96.40" y2="519.00" stroke="#fff" stroke-width="0.4" stroke-opacity="0.55"/>
<line x1="96.40" y1="571.50" x2="96.40" y2="588.12" stroke="#fff" stroke-width="0.4" stroke-opacity="0.55"/>
<polygon points="121.00,589.00 121.45,587.69 121.90,586.38 122.29,585.06 123.07,583.75 123.65,582.44 123.86,581.12 124.45,579.81 125.04,578.50 125.21,577.19 125.38,575.88 125.59,574.56 125.70,573.25 125.51,571.94 125.19,570.62 125.05,569.31 124.50,568.00 123.67,566.69 122.97,565.38 122.77,564.06 122.38,562.75 121.75,561.44 121.12,560.12 120.73,558.81 120.60,557.50 120.18,556.19 119.61,554.88 119.11,553.56 118.90,552.25 118.79,550.94 118.52,549.62 118.19,548.31 117.89,547.00 117.71,545.69 117.68,544.38 117.57,543.06 117.42,541.75 117.28,540.44 117.17,539.12 117.15,537.81 117.13,536.50 117.10,535.19 117.06,533.88 117.01,532.56 116.96,531.25 116.93,529.94 116.90,528.62 116.90,527.31 116.90,526.00 116.89,524.69 116.88,523.38 116.88,522.06 116.86,520.75 116.85,519.44 116.84,518.12 116.83,516.81 116.82,515.50 116.81,514.19 116.81,512.88 116.80,511.56 116.80,510.25 115.80,510.25 115.80,511.56 115.79,512.88 115.79,514.19 115.78,515.50 115.77,516.81 115.76,518.12 115.75,519.44 115.74,520.75 115.72,522.06 115.72,523.38 115.71,524.69 115.70,526.00 115.70,527.31 115.70,528.62 115.67,529.94 115.64,531.25 115.59,532.56 115.54,533.88 115.50,535.19 115.47,536.50 115.45,537.81 115.43,539.12 115.32,540.44 115.17,541.75 115.03,543.06 114.92,544.38 114.89,545.69 114.71,547.00 114.41,548.31 114.08,549.62 113.81,550.94 113.70,552.25 113.49,553.56 112.99,554.88 112.42,556.19 112.00,557.50 111.87,558.81 111.48,560.12 110.85,561.44 110.22,562.75 109.83,564.06 109.63,565.38 108.93,566.69 108.10,568.00 107.55,569.31 107.41,570.62 107.09,571.94 106.90,573.25 107.01,574.56 107.22,575.88 107.39,577.19 107.56,578.50 108.15,579.81 108.74,581.12 108.95,582.44 109.53,583.75 110.31,585.06 110.70,586.38 111.15,587.69 111.60,589.00" fill="#5c1e82"/>
<rect x="113.80" y="562.75" width="5.0" height="17.50" fill="#fff" fill-opacity="0.9" stroke="#fff" stroke-opacity="0.7" stroke-width="0.4"/>
<line x1="113.80" y1="571.50" x2="118.80" y2="571.50" stroke="#5c1e82" stroke-width="0.5" stroke-opacity="0.55"/>
<line x1="116.30" y1="562.75" x2="116.30" y2="512.00" stroke="#fff" stroke-width="0.4" stroke-opacity="0.55"/>
<line x1="116.30" y1="580.25" x2="116.30" y2="588.12" stroke="#fff" stroke-width="0.4" stroke-opacity="0.55"/>
<rect x="44.8" y="487.6" width="82.40" height="103.60" fill="none" stroke="#000" stroke-width="0.9"/>
<line x1="42.20" y1="589.00" x2="44.80" y2="589.00" stroke="#000" stroke-width="0.6" />
<text transform="translate(40.00,591.70)" font-size="7.5" font-weight="normal" font-style="normal" text-anchor="end" fill="#0d0d0d" >0%</text>
<line x1="43.30" y1="580.25" x2="44.80" y2="580.25" stroke="#000" stroke-width="0.6" />
<line x1="42.20" y1="571.50" x2="44.80" y2="571.50" stroke="#000" stroke-width="0.6" />
<text transform="translate(40.00,574.20)" font-size="7.5" font-weight="normal" font-style="normal" text-anchor="end" fill="#0d0d0d" >20%</text>
<line x1="43.30" y1="562.75" x2="44.80" y2="562.75" stroke="#000" stroke-width="0.6" />
<line x1="42.20" y1="554.00" x2="44.80" y2="554.00" stroke="#000" stroke-width="0.6" />
<text transform="translate(40.00,556.70)" font-size="7.5" font-weight="normal" font-style="normal" text-anchor="end" fill="#0d0d0d" >40%</text>
<line x1="43.30" y1="545.25" x2="44.80" y2="545.25" stroke="#000" stroke-width="0.6" />
<line x1="42.20" y1="536.50" x2="44.80" y2="536.50" stroke="#000" stroke-width="0.6" />
<text transform="translate(40.00,539.20)" font-size="7.5" font-weight="normal" font-style="normal" text-anchor="end" fill="#0d0d0d" >60%</text>
<line x1="43.30" y1="527.75" x2="44.80" y2="527.75" stroke="#000" stroke-width="0.6" />
<line x1="42.20" y1="519.00" x2="44.80" y2="519.00" stroke="#000" stroke-width="0.6" />
<text transform="translate(40.00,521.70)" font-size="7.5" font-weight="normal" font-style="normal" text-anchor="end" fill="#0d0d0d" >80%</text>
<line x1="43.30" y1="510.25" x2="44.80" y2="510.25" stroke="#000" stroke-width="0.6" />
<line x1="42.20" y1="501.50" x2="44.80" y2="501.50" stroke="#000" stroke-width="0.6" />
<text transform="translate(40.00,504.20)" font-size="7.5" font-weight="normal" font-style="normal" text-anchor="end" fill="#0d0d0d" >100%</text>
<text transform="translate(55.20,599.60)" font-size="7.5" font-weight="normal" font-style="normal" text-anchor="middle" fill="#0d0d0d" >0 pt</text>
<text transform="translate(76.20,599.60)" font-size="7.5" font-weight="normal" font-style="normal" text-anchor="middle" fill="#0d0d0d" >1 pt</text>
<text transform="translate(96.40,599.60)" font-size="7.5" font-weight="normal" font-style="normal" text-anchor="middle" fill="#0d0d0d" >2 pt</text>
<text transform="translate(116.30,599.60)" font-size="7.5" font-weight="normal" font-style="normal" text-anchor="middle" fill="#0d0d0d" >3 pt</text>
<text transform="translate(86.20,612.00) scale(0.715,1)" font-size="8.5" font-weight="normal" font-style="normal" text-anchor="middle" fill="#1a1a1a" >DMS score</text>
<text transform="translate(13.60,542.70) rotate(-90) scale(0.7,1)" font-size="8.5" font-weight="normal" font-style="normal" text-anchor="middle" fill="#1a1a1a" >MYC positivity (%)</text>
<path d="M54.40,496.70V495.40H116.00V496.70" fill="none" stroke="#111" stroke-width="0.7"/>
<text transform="translate(80.50,493.80)" font-size="6.1" text-anchor="middle" fill="#1a1a1a"><tspan font-style="italic">P</tspan> = .0026</text>
<path d="M76.20,502.20V500.90H116.40V502.20" fill="none" stroke="#111" stroke-width="0.7"/>
<text transform="translate(96.60,500.40)" font-size="6.1" text-anchor="middle" fill="#1a1a1a"><tspan font-style="italic">P</tspan> = .0063</text>
<path d="M55.20,506.50V505.20H95.80V506.50" fill="none" stroke="#111" stroke-width="0.7"/>
<text transform="translate(60.70,503.80)" font-size="6.1" text-anchor="middle" fill="#1a1a1a"><tspan font-style="italic">P</tspan> = .0462</text>
<text transform="translate(142.80,487.00)" font-size="11.2" font-weight="bold" font-style="normal" text-anchor="start" fill="#000" >C</text>
<rect x="181.30" y="497.50" width="13.00" height="50.33" fill="#c9183c" />
<rect x="181.30" y="547.83" width="13.00" height="41.17" fill="#13518b" />
<rect x="194.30" y="497.50" width="18.90" height="31.11" fill="#c9183c" />
<rect x="194.30" y="528.61" width="18.90" height="60.39" fill="#13518b" />
<rect x="213.20" y="497.50" width="21.50" height="10.98" fill="#c9183c" />
<rect x="213.20" y="508.48" width="21.50" height="80.52" fill="#13518b" />
<rect x="234.70" y="497.50" width="21.50" height="3.20" fill="#c9183c" />
<rect x="234.70" y="500.70" width="21.50" height="88.30" fill="#13518b" />
<line x1="194.30" y1="497.50" x2="194.30" y2="589.00" stroke="#c9d3e0" stroke-width="0.45" />
<line x1="213.20" y1="497.50" x2="213.20" y2="589.00" stroke="#c9d3e0" stroke-width="0.45" />
<line x1="234.70" y1="497.50" x2="234.70" y2="589.00" stroke="#c9d3e0" stroke-width="0.45" />
<line x1="181.30" y1="547.83" x2="194.30" y2="547.83" stroke="#c9d3e0" stroke-width="0.3" />
<line x1="194.30" y1="528.61" x2="213.20" y2="528.61" stroke="#c9d3e0" stroke-width="0.3" />
<line x1="213.20" y1="508.48" x2="234.70" y2="508.48" stroke="#c9d3e0" stroke-width="0.3" />
<line x1="234.70" y1="500.70" x2="256.20" y2="500.70" stroke="#c9d3e0" stroke-width="0.3" />
<rect x="181.3" y="497.50" width="75.1" height="91.50" fill="none" stroke="#000" stroke-width="0.75"/>
<line x1="178.70" y1="589.00" x2="181.30" y2="589.00" stroke="#000" stroke-width="0.6" />
<text transform="translate(175.80,591.70)" font-size="7.5" font-weight="normal" font-style="normal" text-anchor="end" fill="#0d0d0d" >0%</text>
<line x1="179.80" y1="579.85" x2="181.30" y2="579.85" stroke="#000" stroke-width="0.6" />
<line x1="178.70" y1="570.70" x2="181.30" y2="570.70" stroke="#000" stroke-width="0.6" />
<text transform="translate(175.80,573.40)" font-size="7.5" font-weight="normal" font-style="normal" text-anchor="end" fill="#0d0d0d" >20%</text>
<line x1="179.80" y1="561.55" x2="181.30" y2="561.55" stroke="#000" stroke-width="0.6" />
<line x1="178.70" y1="552.40" x2="181.30" y2="552.40" stroke="#000" stroke-width="0.6" />
<text transform="translate(175.80,555.10)" font-size="7.5" font-weight="normal" font-style="normal" text-anchor="end" fill="#0d0d0d" >40%</text>
<line x1="179.80" y1="543.25" x2="181.30" y2="543.25" stroke="#000" stroke-width="0.6" />
<line x1="178.70" y1="534.10" x2="181.30" y2="534.10" stroke="#000" stroke-width="0.6" />
<text transform="translate(175.80,536.80)" font-size="7.5" font-weight="normal" font-style="normal" text-anchor="end" fill="#0d0d0d" >60%</text>
<line x1="179.80" y1="524.95" x2="181.30" y2="524.95" stroke="#000" stroke-width="0.6" />
<line x1="178.70" y1="515.80" x2="181.30" y2="515.80" stroke="#000" stroke-width="0.6" />
<text transform="translate(175.80,518.50)" font-size="7.5" font-weight="normal" font-style="normal" text-anchor="end" fill="#0d0d0d" >80%</text>
<line x1="179.80" y1="506.65" x2="181.30" y2="506.65" stroke="#000" stroke-width="0.6" />
<line x1="178.70" y1="497.50" x2="181.30" y2="497.50" stroke="#000" stroke-width="0.6" />
<text transform="translate(175.80,500.20)" font-size="7.5" font-weight="normal" font-style="normal" text-anchor="end" fill="#0d0d0d" >100%</text>
<text transform="translate(187.00,599.60)" font-size="7.5" font-weight="normal" font-style="normal" text-anchor="middle" fill="#0d0d0d" >0 pt</text>
<text transform="translate(207.70,599.60)" font-size="7.5" font-weight="normal" font-style="normal" text-anchor="middle" fill="#0d0d0d" >1 pt</text>
<text transform="translate(227.90,599.60)" font-size="7.5" font-weight="normal" font-style="normal" text-anchor="middle" fill="#0d0d0d" >2 pt</text>
<text transform="translate(248.00,599.60)" font-size="7.5" font-weight="normal" font-style="normal" text-anchor="middle" fill="#0d0d0d" >3 pt</text>
<text transform="translate(217.70,612.00) scale(0.715,1)" font-size="8.5" font-weight="normal" font-style="normal" text-anchor="middle" fill="#1a1a1a" >DMS score</text>
<text transform="translate(151.20,544.00) rotate(-90) scale(0.7,1)" font-size="8.5" font-weight="normal" font-style="normal" text-anchor="middle" fill="#1a1a1a" >Frequency of DEL cases</text>
<text transform="translate(182,493.4)" font-size="7.0" fill="#0d0d0d"><tspan font-style="italic">P</tspan> = 5.95e-6</text>
<text transform="translate(273.00,485.00)" font-size="11.2" font-weight="bold" font-style="normal" text-anchor="start" fill="#000" >D</text>
<rect x="314.30" y="496.30" width="14.60" height="8.30" fill="#c9183c" />
<rect x="314.30" y="504.60" width="14.60" height="83.90" fill="#13518b" />
<line x1="314.30" y1="504.60" x2="328.90" y2="504.60" stroke="#0a2340" stroke-width="0.4" />
<rect x="328.90" y="496.30" width="18.90" height="2.31" fill="#c9183c" />
<rect x="328.90" y="498.61" width="18.90" height="89.89" fill="#13518b" />
<line x1="328.90" y1="498.61" x2="347.80" y2="498.61" stroke="#0a2340" stroke-width="0.4" />
<rect x="347.80" y="496.30" width="23.70" height="2.31" fill="#c9183c" />
<rect x="347.80" y="498.61" width="23.70" height="89.89" fill="#13518b" />
<line x1="347.80" y1="498.61" x2="371.50" y2="498.61" stroke="#0a2340" stroke-width="0.4" />
<rect x="371.50" y="496.30" width="22.20" height="2.31" fill="#c9183c" />
<rect x="371.50" y="498.61" width="22.20" height="89.89" fill="#13518b" />
<line x1="371.50" y1="498.61" x2="393.70" y2="498.61" stroke="#0a2340" stroke-width="0.4" />
<line x1="328.90" y1="496.30" x2="328.90" y2="588.50" stroke="#061426" stroke-width="0.7" />
<line x1="347.80" y1="496.30" x2="347.80" y2="588.50" stroke="#061426" stroke-width="0.7" />
<line x1="371.50" y1="496.30" x2="371.50" y2="588.50" stroke="#061426" stroke-width="0.7" />
<rect x="314.3" y="496.30" width="79.4" height="92.20" fill="none" stroke="#000" stroke-width="0.8"/>
<line x1="311.70" y1="588.50" x2="314.30" y2="588.50" stroke="#000" stroke-width="0.6" />
<text transform="translate(308.60,591.20)" font-size="7.5" font-weight="normal" font-style="normal" text-anchor="end" fill="#0d0d0d" >0%</text>
<line x1="312.80" y1="579.28" x2="314.30" y2="579.28" stroke="#000" stroke-width="0.6" />
<line x1="311.70" y1="570.06" x2="314.30" y2="570.06" stroke="#000" stroke-width="0.6" />
<text transform="translate(308.60,572.76)" font-size="7.5" font-weight="normal" font-style="normal" text-anchor="end" fill="#0d0d0d" >20%</text>
<line x1="312.80" y1="560.84" x2="314.30" y2="560.84" stroke="#000" stroke-width="0.6" />
<line x1="311.70" y1="551.62" x2="314.30" y2="551.62" stroke="#000" stroke-width="0.6" />
<text transform="translate(308.60,554.32)" font-size="7.5" font-weight="normal" font-style="normal" text-anchor="end" fill="#0d0d0d" >40%</text>
<line x1="312.80" y1="542.40" x2="314.30" y2="542.40" stroke="#000" stroke-width="0.6" />
<line x1="311.70" y1="533.18" x2="314.30" y2="533.18" stroke="#000" stroke-width="0.6" />
<text transform="translate(308.60,535.88)" font-size="7.5" font-weight="normal" font-style="normal" text-anchor="end" fill="#0d0d0d" >60%</text>
<line x1="312.80" y1="523.96" x2="314.30" y2="523.96" stroke="#000" stroke-width="0.6" />
<line x1="311.70" y1="514.74" x2="314.30" y2="514.74" stroke="#000" stroke-width="0.6" />
<text transform="translate(308.60,517.44)" font-size="7.5" font-weight="normal" font-style="normal" text-anchor="end" fill="#0d0d0d" >80%</text>
<line x1="312.80" y1="505.52" x2="314.30" y2="505.52" stroke="#000" stroke-width="0.6" />
<line x1="311.70" y1="496.30" x2="314.30" y2="496.30" stroke="#000" stroke-width="0.6" />
<text transform="translate(308.60,499.00)" font-size="7.5" font-weight="normal" font-style="normal" text-anchor="end" fill="#0d0d0d" >100%</text>
<text transform="translate(321.00,598.40)" font-size="7.5" font-weight="normal" font-style="normal" text-anchor="middle" fill="#0d0d0d" >0 pt</text>
<text transform="translate(338.50,598.40)" font-size="7.5" font-weight="normal" font-style="normal" text-anchor="middle" fill="#0d0d0d" >1 pt</text>
<text transform="translate(359.80,598.40)" font-size="7.5" font-weight="normal" font-style="normal" text-anchor="middle" fill="#0d0d0d" >2 pt</text>
<text transform="translate(382.70,598.40)" font-size="7.5" font-weight="normal" font-style="normal" text-anchor="middle" fill="#0d0d0d" >3 pt</text>
<text transform="translate(352.50,610.00) scale(0.715,1)" font-size="8.5" font-weight="normal" font-style="normal" text-anchor="middle" fill="#1a1a1a" >DMS score</text>
<text transform="translate(284.40,544.00) rotate(-90) scale(0.7,1)" font-size="8.5" font-weight="normal" font-style="normal" text-anchor="middle" fill="#1a1a1a" >Frequency of DHL cases</text>
<text transform="translate(316,493.4)" font-size="7.0" fill="#0d0d0d"><tspan font-style="italic">P</tspan> = .6722</text>
<line x1="80.80" y1="38.60" x2="80.80" y2="435.70" stroke="#999" stroke-width="0.5" />
<line x1="80.80" y1="435.60" x2="511.00" y2="435.60" stroke="#aaa" stroke-width="0.4" />
<line x1="511.00" y1="38.60" x2="511.00" y2="435.70" stroke="#ddd" stroke-width="0.4" />
<rect x="0.5" y="0.5" width="519" height="618" fill="none" stroke="#000" stroke-width="1"/>
</svg>
</body></html>
